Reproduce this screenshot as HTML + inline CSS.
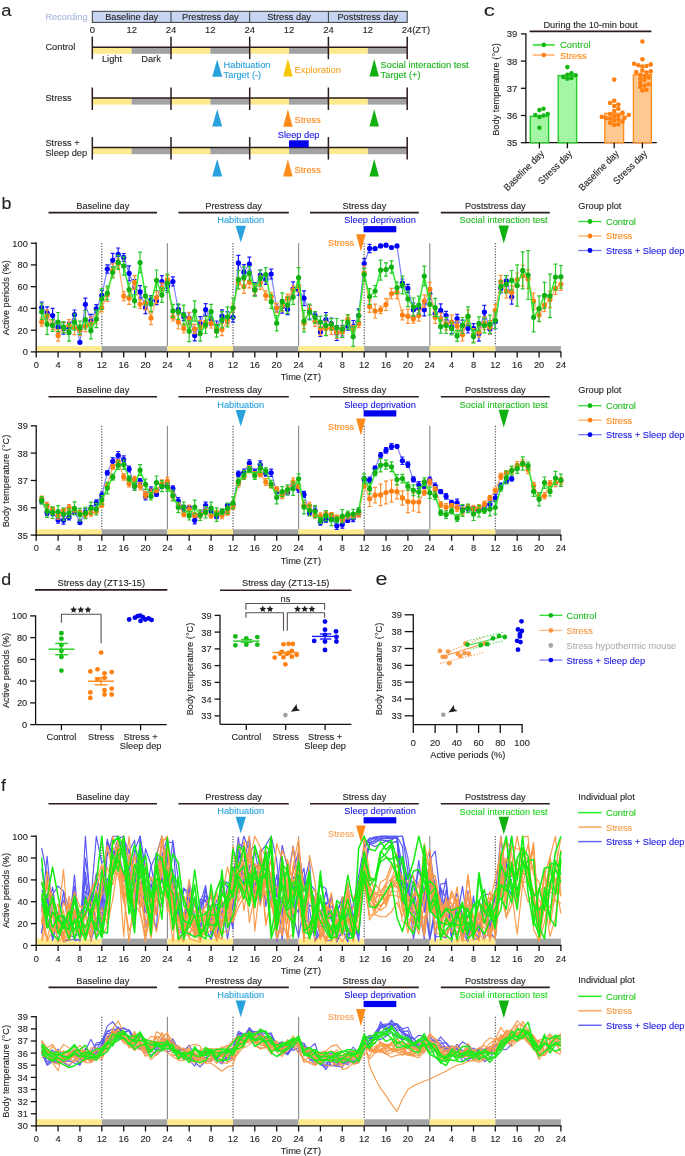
<!DOCTYPE html>
<html><head><meta charset="utf-8"><style>
html,body{margin:0;padding:0;background:#fff;}
svg{display:block;will-change:transform;}
text{font-family:"Liberation Sans", sans-serif;}
</style></head><body>
<svg width="685" height="1156" viewBox="0 0 685 1156" font-family='"Liberation Sans", sans-serif'>
<rect width="685" height="1156" fill="#fff"/>
<text transform="translate(1.20,16.20) scale(1.08,1)" font-size="17" fill="#231f20" stroke="#231f20" stroke-width="0.12">a</text>
<text transform="translate(87.60,20.06) scale(0.96,1)" font-size="9.66" fill="#a8b7dc" stroke="#a8b7dc" stroke-width="0.12" text-anchor="end" >Recording</text>
<rect x="92.30" y="11.30" width="314.90" height="11.10" fill="#c7d5f2" stroke="#3a3a3a" stroke-width="1" />
<line x1="171.0" y1="11.3" x2="171.0" y2="22.4" stroke="#3a3a3a" stroke-width="1" />
<line x1="249.7" y1="11.3" x2="249.7" y2="22.4" stroke="#3a3a3a" stroke-width="1" />
<line x1="328.4" y1="11.3" x2="328.4" y2="22.4" stroke="#3a3a3a" stroke-width="1" />
<text transform="translate(131.65,20.36) scale(0.96,1)" font-size="9.66" fill="#231f20" stroke="#231f20" stroke-width="0.12" text-anchor="middle" >Baseline day</text>
<text transform="translate(210.35,20.36) scale(0.96,1)" font-size="9.66" fill="#231f20" stroke="#231f20" stroke-width="0.12" text-anchor="middle" >Prestress day</text>
<text transform="translate(289.05,20.36) scale(0.96,1)" font-size="9.66" fill="#231f20" stroke="#231f20" stroke-width="0.12" text-anchor="middle" >Stress day</text>
<text transform="translate(367.80,20.36) scale(0.96,1)" font-size="9.66" fill="#231f20" stroke="#231f20" stroke-width="0.12" text-anchor="middle" >Poststress day</text>
<text transform="translate(92.30,33.33) scale(0.96,1)" font-size="9.87" fill="#231f20" stroke="#231f20" stroke-width="0.12" text-anchor="middle" >0</text>
<text transform="translate(131.65,33.33) scale(0.96,1)" font-size="9.87" fill="#231f20" stroke="#231f20" stroke-width="0.12" text-anchor="middle" >12</text>
<text transform="translate(171.00,33.33) scale(0.96,1)" font-size="9.87" fill="#231f20" stroke="#231f20" stroke-width="0.12" text-anchor="middle" >24</text>
<text transform="translate(210.35,33.33) scale(0.96,1)" font-size="9.87" fill="#231f20" stroke="#231f20" stroke-width="0.12" text-anchor="middle" >12</text>
<text transform="translate(249.70,33.33) scale(0.96,1)" font-size="9.87" fill="#231f20" stroke="#231f20" stroke-width="0.12" text-anchor="middle" >24</text>
<text transform="translate(289.05,33.33) scale(0.96,1)" font-size="9.87" fill="#231f20" stroke="#231f20" stroke-width="0.12" text-anchor="middle" >12</text>
<text transform="translate(328.40,33.33) scale(0.96,1)" font-size="9.87" fill="#231f20" stroke="#231f20" stroke-width="0.12" text-anchor="middle" >24</text>
<text transform="translate(367.80,33.33) scale(0.96,1)" font-size="9.87" fill="#231f20" stroke="#231f20" stroke-width="0.12" text-anchor="middle" >12</text>
<text transform="translate(401.70,33.30) scale(0.96,1)" font-size="9.87" fill="#231f20" stroke="#231f20" stroke-width="0.12" text-anchor="start" >24(ZT)</text>
<rect x="92.30" y="47.20" width="39.35" height="6.60" fill="#fdea8e" stroke="none" stroke-width="0" />
<rect x="131.65" y="47.20" width="39.35" height="6.60" fill="#a3a3a3" stroke="none" stroke-width="0" />
<rect x="171.00" y="47.20" width="39.35" height="6.60" fill="#fdea8e" stroke="none" stroke-width="0" />
<rect x="210.35" y="47.20" width="39.35" height="6.60" fill="#a3a3a3" stroke="none" stroke-width="0" />
<rect x="249.70" y="47.20" width="39.35" height="6.60" fill="#fdea8e" stroke="none" stroke-width="0" />
<rect x="289.05" y="47.20" width="39.35" height="6.60" fill="#a3a3a3" stroke="none" stroke-width="0" />
<rect x="328.40" y="47.20" width="39.40" height="6.60" fill="#fdea8e" stroke="none" stroke-width="0" />
<rect x="367.80" y="47.20" width="39.40" height="6.60" fill="#a3a3a3" stroke="none" stroke-width="0" />
<line x1="92.3" y1="47.2" x2="407.2" y2="47.2" stroke="#2b1d1d" stroke-width="1.5" />
<line x1="92.3" y1="36.7" x2="92.3" y2="59.2" stroke="#2b1d1d" stroke-width="1.5" />
<line x1="171.0" y1="36.7" x2="171.0" y2="59.2" stroke="#2b1d1d" stroke-width="1.5" />
<line x1="249.7" y1="36.7" x2="249.7" y2="59.2" stroke="#2b1d1d" stroke-width="1.5" />
<line x1="328.4" y1="36.7" x2="328.4" y2="59.2" stroke="#2b1d1d" stroke-width="1.5" />
<line x1="407.2" y1="36.7" x2="407.2" y2="59.2" stroke="#2b1d1d" stroke-width="1.5" />
<rect x="92.30" y="98.00" width="39.35" height="6.60" fill="#fdea8e" stroke="none" stroke-width="0" />
<rect x="131.65" y="98.00" width="39.35" height="6.60" fill="#a3a3a3" stroke="none" stroke-width="0" />
<rect x="171.00" y="98.00" width="39.35" height="6.60" fill="#fdea8e" stroke="none" stroke-width="0" />
<rect x="210.35" y="98.00" width="39.35" height="6.60" fill="#a3a3a3" stroke="none" stroke-width="0" />
<rect x="249.70" y="98.00" width="39.35" height="6.60" fill="#fdea8e" stroke="none" stroke-width="0" />
<rect x="289.05" y="98.00" width="39.35" height="6.60" fill="#a3a3a3" stroke="none" stroke-width="0" />
<rect x="328.40" y="98.00" width="39.40" height="6.60" fill="#fdea8e" stroke="none" stroke-width="0" />
<rect x="367.80" y="98.00" width="39.40" height="6.60" fill="#a3a3a3" stroke="none" stroke-width="0" />
<line x1="92.3" y1="98.0" x2="407.2" y2="98.0" stroke="#2b1d1d" stroke-width="1.5" />
<line x1="92.3" y1="87.5" x2="92.3" y2="110.0" stroke="#2b1d1d" stroke-width="1.5" />
<line x1="171.0" y1="87.5" x2="171.0" y2="110.0" stroke="#2b1d1d" stroke-width="1.5" />
<line x1="249.7" y1="87.5" x2="249.7" y2="110.0" stroke="#2b1d1d" stroke-width="1.5" />
<line x1="328.4" y1="87.5" x2="328.4" y2="110.0" stroke="#2b1d1d" stroke-width="1.5" />
<line x1="407.2" y1="87.5" x2="407.2" y2="110.0" stroke="#2b1d1d" stroke-width="1.5" />
<rect x="92.30" y="147.60" width="39.35" height="6.60" fill="#fdea8e" stroke="none" stroke-width="0" />
<rect x="131.65" y="147.60" width="39.35" height="6.60" fill="#a3a3a3" stroke="none" stroke-width="0" />
<rect x="171.00" y="147.60" width="39.35" height="6.60" fill="#fdea8e" stroke="none" stroke-width="0" />
<rect x="210.35" y="147.60" width="39.35" height="6.60" fill="#a3a3a3" stroke="none" stroke-width="0" />
<rect x="249.70" y="147.60" width="39.35" height="6.60" fill="#fdea8e" stroke="none" stroke-width="0" />
<rect x="289.05" y="147.60" width="39.35" height="6.60" fill="#a3a3a3" stroke="none" stroke-width="0" />
<rect x="328.40" y="147.60" width="39.40" height="6.60" fill="#fdea8e" stroke="none" stroke-width="0" />
<rect x="367.80" y="147.60" width="39.40" height="6.60" fill="#a3a3a3" stroke="none" stroke-width="0" />
<line x1="92.3" y1="147.6" x2="407.2" y2="147.6" stroke="#2b1d1d" stroke-width="1.5" />
<line x1="92.3" y1="137.1" x2="92.3" y2="159.6" stroke="#2b1d1d" stroke-width="1.5" />
<line x1="171.0" y1="137.1" x2="171.0" y2="159.6" stroke="#2b1d1d" stroke-width="1.5" />
<line x1="249.7" y1="137.1" x2="249.7" y2="159.6" stroke="#2b1d1d" stroke-width="1.5" />
<line x1="328.4" y1="137.1" x2="328.4" y2="159.6" stroke="#2b1d1d" stroke-width="1.5" />
<line x1="407.2" y1="137.1" x2="407.2" y2="159.6" stroke="#2b1d1d" stroke-width="1.5" />
<text transform="translate(45.40,50.16) scale(0.96,1)" font-size="9.66" fill="#231f20" stroke="#231f20" stroke-width="0.12" text-anchor="start" >Control</text>
<text transform="translate(45.40,101.06) scale(0.96,1)" font-size="9.66" fill="#231f20" stroke="#231f20" stroke-width="0.12" text-anchor="start" >Stress</text>
<text transform="translate(45.40,145.86) scale(0.96,1)" font-size="9.66" fill="#231f20" stroke="#231f20" stroke-width="0.12" text-anchor="start" >Stress +</text>
<text transform="translate(45.40,155.66) scale(0.96,1)" font-size="9.66" fill="#231f20" stroke="#231f20" stroke-width="0.12" text-anchor="start" >Sleep dep</text>
<text transform="translate(112.00,61.76) scale(0.96,1)" font-size="9.66" fill="#231f20" stroke="#231f20" stroke-width="0.12" text-anchor="middle" >Light</text>
<text transform="translate(151.00,61.76) scale(0.96,1)" font-size="9.66" fill="#231f20" stroke="#231f20" stroke-width="0.12" text-anchor="middle" >Dark</text>
<polygon points="217.20,59.50 222.20,76.80 212.20,76.80" fill="#29a1dc" />
<text transform="translate(223.60,67.66) scale(0.96,1)" font-size="9.66" fill="#29a1dc" stroke="#29a1dc" stroke-width="0.12" text-anchor="start" >Habituation</text>
<text transform="translate(223.60,78.06) scale(0.96,1)" font-size="9.66" fill="#29a1dc" stroke="#29a1dc" stroke-width="0.12" text-anchor="start" >Target (-)</text>
<polygon points="287.90,58.80 292.65,76.50 283.15,76.50" fill="#f7c600" />
<text transform="translate(294.60,72.96) scale(0.96,1)" font-size="9.66" fill="#f5a623" stroke="#f5a623" stroke-width="0.12" text-anchor="start" >Exploration</text>
<polygon points="374.20,59.00 378.95,76.60 369.45,76.60" fill="#10b010" />
<text transform="translate(380.60,67.66) scale(0.96,1)" font-size="9.66" fill="#1cb21c" stroke="#1cb21c" stroke-width="0.12" text-anchor="start" >Social interaction test</text>
<text transform="translate(380.60,78.06) scale(0.96,1)" font-size="9.66" fill="#1cb21c" stroke="#1cb21c" stroke-width="0.12" text-anchor="start" >Target (+)</text>
<polygon points="217.20,109.20 222.20,126.50 212.20,126.50" fill="#29a1dc" />
<polygon points="287.90,109.20 292.65,126.70 283.15,126.70" fill="#ff8a1c" />
<text transform="translate(294.60,122.76) scale(0.96,1)" font-size="9.66" fill="#ff8a1c" stroke="#ff8a1c" stroke-width="0.12" text-anchor="start" >Stress</text>
<polygon points="374.20,109.20 378.95,126.60 369.45,126.60" fill="#10b010" />
<text transform="translate(298.60,137.86) scale(0.96,1)" font-size="9.66" fill="#1a1ae6" stroke="#1a1ae6" stroke-width="0.12" text-anchor="middle" >Sleep dep</text>
<rect x="289.00" y="140.30" width="19.70" height="7.00" fill="#0000ee" stroke="none" stroke-width="0" />
<polygon points="217.20,158.90 222.20,176.40 212.20,176.40" fill="#29a1dc" />
<polygon points="287.90,159.20 292.65,176.60 283.15,176.60" fill="#ff8a1c" />
<text transform="translate(294.60,173.26) scale(0.96,1)" font-size="9.66" fill="#ff8a1c" stroke="#ff8a1c" stroke-width="0.12" text-anchor="start" >Stress</text>
<polygon points="374.20,159.00 378.95,176.50 369.45,176.50" fill="#10b010" />
<text transform="translate(483.80,15.80) scale(1.3,1)" font-size="17" fill="#231f20" stroke="#231f20" stroke-width="0.12">c</text>
<text transform="translate(590.50,27.96) scale(0.96,1)" font-size="9.66" fill="#231f20" stroke="#231f20" stroke-width="0.12" text-anchor="middle" >During the 10-min bout</text>
<line x1="529.6" y1="31.4" x2="651.4" y2="31.4" stroke="#2b1d1d" stroke-width="1.6" />
<line x1="525.9" y1="33.3" x2="525.9" y2="143.3" stroke="#151213" stroke-width="1.3" />
<line x1="525.9" y1="142.7" x2="656.8" y2="142.7" stroke="#151213" stroke-width="1.3" />
<line x1="520.9" y1="142.7" x2="525.9" y2="142.7" stroke="#151213" stroke-width="1.3" />
<text transform="translate(517.30,146.27) scale(0.96,1)" font-size="9.97" fill="#231f20" stroke="#231f20" stroke-width="0.12" text-anchor="end" >35</text>
<line x1="520.9" y1="115.5" x2="525.9" y2="115.5" stroke="#151213" stroke-width="1.3" />
<text transform="translate(517.30,119.07) scale(0.96,1)" font-size="9.97" fill="#231f20" stroke="#231f20" stroke-width="0.12" text-anchor="end" >36</text>
<line x1="520.9" y1="88.3" x2="525.9" y2="88.3" stroke="#151213" stroke-width="1.3" />
<text transform="translate(517.30,91.87) scale(0.96,1)" font-size="9.97" fill="#231f20" stroke="#231f20" stroke-width="0.12" text-anchor="end" >37</text>
<line x1="520.9" y1="61.1" x2="525.9" y2="61.1" stroke="#151213" stroke-width="1.3" />
<text transform="translate(517.30,64.67) scale(0.96,1)" font-size="9.97" fill="#231f20" stroke="#231f20" stroke-width="0.12" text-anchor="end" >38</text>
<line x1="520.9" y1="33.9" x2="525.9" y2="33.9" stroke="#151213" stroke-width="1.3" />
<text transform="translate(517.30,37.47) scale(0.96,1)" font-size="9.97" fill="#231f20" stroke="#231f20" stroke-width="0.12" text-anchor="end" >39</text>
<rect x="530.30" y="116.32" width="18.30" height="26.38" fill="#a4f5a4" stroke="#22cc22" stroke-width="1.3" />
<rect x="558.20" y="75.52" width="18.40" height="67.18" fill="#a4f5a4" stroke="#22cc22" stroke-width="1.3" />
<rect x="604.80" y="113.32" width="18.80" height="29.38" fill="#ffc890" stroke="#ff8a1c" stroke-width="1.3" />
<rect x="633.40" y="74.70" width="18.00" height="68.00" fill="#ffc890" stroke="#ff8a1c" stroke-width="1.3" />
<line x1="539.4" y1="142.7" x2="539.4" y2="148.3" stroke="#151213" stroke-width="1.3" />
<line x1="567.4" y1="142.7" x2="567.4" y2="148.3" stroke="#151213" stroke-width="1.3" />
<line x1="614.2" y1="142.7" x2="614.2" y2="148.3" stroke="#151213" stroke-width="1.3" />
<line x1="642.4" y1="142.7" x2="642.4" y2="148.3" stroke="#151213" stroke-width="1.3" />
<circle cx="539.4" cy="127.7" r="2.3" fill="#14b814" />
<circle cx="539.4" cy="116.9" r="2.3" fill="#14b814" />
<circle cx="543.5" cy="115.5" r="2.3" fill="#14b814" />
<circle cx="535.3" cy="115.0" r="2.3" fill="#14b814" />
<circle cx="547.7" cy="114.1" r="2.3" fill="#14b814" />
<circle cx="539.4" cy="110.1" r="2.3" fill="#14b814" />
<circle cx="543.5" cy="108.7" r="2.3" fill="#14b814" />
<circle cx="567.4" cy="78.8" r="2.3" fill="#14b814" />
<circle cx="571.5" cy="78.0" r="2.3" fill="#14b814" />
<circle cx="563.3" cy="76.9" r="2.3" fill="#14b814" />
<circle cx="575.7" cy="75.2" r="2.3" fill="#14b814" />
<circle cx="567.4" cy="74.7" r="2.3" fill="#14b814" />
<circle cx="571.5" cy="73.3" r="2.3" fill="#14b814" />
<circle cx="567.4" cy="67.1" r="2.3" fill="#14b814" />
<circle cx="614.2" cy="125.0" r="2.3" fill="#ff8010" />
<circle cx="618.3" cy="124.2" r="2.3" fill="#ff8010" />
<circle cx="610.1" cy="123.1" r="2.3" fill="#ff8010" />
<circle cx="622.5" cy="121.5" r="2.3" fill="#ff8010" />
<circle cx="614.2" cy="120.4" r="2.3" fill="#ff8010" />
<circle cx="618.3" cy="119.6" r="2.3" fill="#ff8010" />
<circle cx="610.1" cy="118.8" r="2.3" fill="#ff8010" />
<circle cx="605.9" cy="118.2" r="2.3" fill="#ff8010" />
<circle cx="624.6" cy="117.7" r="2.3" fill="#ff8010" />
<circle cx="601.8" cy="116.9" r="2.3" fill="#ff8010" />
<circle cx="614.2" cy="116.3" r="2.3" fill="#ff8010" />
<circle cx="618.3" cy="115.5" r="2.3" fill="#ff8010" />
<circle cx="628.7" cy="115.0" r="2.3" fill="#ff8010" />
<circle cx="610.1" cy="114.1" r="2.3" fill="#ff8010" />
<circle cx="622.5" cy="112.8" r="2.3" fill="#ff8010" />
<circle cx="614.2" cy="111.1" r="2.3" fill="#ff8010" />
<circle cx="618.3" cy="108.7" r="2.3" fill="#ff8010" />
<circle cx="614.2" cy="106.0" r="2.3" fill="#ff8010" />
<circle cx="618.3" cy="104.6" r="2.3" fill="#ff8010" />
<circle cx="610.1" cy="103.0" r="2.3" fill="#ff8010" />
<circle cx="614.2" cy="100.8" r="2.3" fill="#ff8010" />
<circle cx="614.2" cy="79.6" r="2.3" fill="#ff8010" />
<circle cx="642.4" cy="90.5" r="2.3" fill="#ff8010" />
<circle cx="646.5" cy="89.7" r="2.3" fill="#ff8010" />
<circle cx="640.3" cy="86.9" r="2.3" fill="#ff8010" />
<circle cx="644.5" cy="85.6" r="2.3" fill="#ff8010" />
<circle cx="648.6" cy="84.2" r="2.3" fill="#ff8010" />
<circle cx="640.3" cy="82.9" r="2.3" fill="#ff8010" />
<circle cx="644.5" cy="80.1" r="2.3" fill="#ff8010" />
<circle cx="640.3" cy="78.8" r="2.3" fill="#ff8010" />
<circle cx="648.6" cy="77.4" r="2.3" fill="#ff8010" />
<circle cx="644.5" cy="76.1" r="2.3" fill="#ff8010" />
<circle cx="640.3" cy="74.7" r="2.3" fill="#ff8010" />
<circle cx="646.5" cy="72.5" r="2.3" fill="#ff8010" />
<circle cx="636.2" cy="72.0" r="2.3" fill="#ff8010" />
<circle cx="650.7" cy="71.4" r="2.3" fill="#ff8010" />
<circle cx="642.4" cy="70.6" r="2.3" fill="#ff8010" />
<circle cx="642.4" cy="66.5" r="2.3" fill="#ff8010" />
<circle cx="646.5" cy="66.0" r="2.3" fill="#ff8010" />
<circle cx="638.3" cy="65.2" r="2.3" fill="#ff8010" />
<circle cx="650.7" cy="64.4" r="2.3" fill="#ff8010" />
<circle cx="634.1" cy="63.8" r="2.3" fill="#ff8010" />
<circle cx="642.4" cy="59.2" r="2.3" fill="#ff8010" />
<circle cx="642.4" cy="41.5" r="2.3" fill="#ff8010" />
<line x1="532.8" y1="44.9" x2="554.7" y2="44.9" stroke="#33dd33" stroke-width="1.6" />
<circle cx="543.8" cy="44.9" r="2.3" fill="#14b814" />
<text transform="translate(560.00,48.43) scale(0.96,1)" font-size="9.87" fill="#22bb22" stroke="#22bb22" stroke-width="0.12" text-anchor="start" >Control</text>
<line x1="532.8" y1="55.0" x2="554.7" y2="55.0" stroke="#ffb070" stroke-width="1.6" />
<circle cx="543.8" cy="55.0" r="2.3" fill="#ff8010" />
<text transform="translate(560.00,58.53) scale(0.96,1)" font-size="9.87" fill="#ff8a1c" stroke="#ff8a1c" stroke-width="0.12" text-anchor="start" >Stress</text>
<text transform="translate(498.80,89.50) rotate(-90) scale(0.96,1)" font-size="9.66" fill="#231f20" stroke="#231f20" stroke-width="0.12" text-anchor="middle">Body temperature (°C)</text>
<text transform="translate(544.70,154.30) rotate(-45) scale(0.96,1)" font-size="9.55" fill="#231f20" stroke="#231f20" stroke-width="0.12" text-anchor="end">Baseline day</text>
<text transform="translate(572.70,154.30) rotate(-45) scale(0.96,1)" font-size="9.55" fill="#231f20" stroke="#231f20" stroke-width="0.12" text-anchor="end">Stress day</text>
<text transform="translate(619.50,154.30) rotate(-45) scale(0.96,1)" font-size="9.55" fill="#231f20" stroke="#231f20" stroke-width="0.12" text-anchor="end">Baseline day</text>
<text transform="translate(647.70,154.30) rotate(-45) scale(0.96,1)" font-size="9.55" fill="#231f20" stroke="#231f20" stroke-width="0.12" text-anchor="end">Stress day</text>
<text transform="translate(1.50,208.80) scale(1.05,1)" font-size="17" fill="#231f20" stroke="#231f20" stroke-width="0.12">b</text>
<line x1="48.5" y1="212.6" x2="157.0" y2="212.6" stroke="#2b1d1d" stroke-width="1.6" />
<text transform="translate(102.75,209.06) scale(0.96,1)" font-size="9.66" fill="#231f20" stroke="#231f20" stroke-width="0.12" text-anchor="middle" >Baseline day</text>
<line x1="178.4" y1="212.6" x2="288.8" y2="212.6" stroke="#2b1d1d" stroke-width="1.6" />
<text transform="translate(233.60,209.06) scale(0.96,1)" font-size="9.66" fill="#231f20" stroke="#231f20" stroke-width="0.12" text-anchor="middle" >Prestress day</text>
<line x1="310.0" y1="212.6" x2="418.8" y2="212.6" stroke="#2b1d1d" stroke-width="1.6" />
<text transform="translate(364.40,209.06) scale(0.96,1)" font-size="9.66" fill="#231f20" stroke="#231f20" stroke-width="0.12" text-anchor="middle" >Stress day</text>
<line x1="440.8" y1="212.6" x2="549.8" y2="212.6" stroke="#2b1d1d" stroke-width="1.6" />
<text transform="translate(495.30,209.06) scale(0.96,1)" font-size="9.66" fill="#231f20" stroke="#231f20" stroke-width="0.12" text-anchor="middle" >Poststress day</text>
<text transform="translate(240.70,223.36) scale(0.96,1)" font-size="9.66" fill="#29a1dc" stroke="#29a1dc" stroke-width="0.12" text-anchor="middle" >Habituation</text>
<polygon points="235.65,225.70 245.95,225.70 240.80,242.40" fill="#29a1dc" />
<text transform="translate(380.10,223.36) scale(0.96,1)" font-size="9.66" fill="#1a1ae6" stroke="#1a1ae6" stroke-width="0.12" text-anchor="middle" >Sleep deprivation</text>
<rect x="363.60" y="226.10" width="32.70" height="6.20" fill="#0000ee" stroke="none" stroke-width="0" />
<text transform="translate(354.20,245.56) scale(0.96,1)" font-size="9.66" fill="#ff8a1c" stroke="#ff8a1c" stroke-width="0.12" text-anchor="end" >Stress</text>
<polygon points="356.10,234.30 365.70,234.30 360.90,251.40" fill="#ff8a1c" />
<text transform="translate(503.60,223.46) scale(0.96,1)" font-size="9.66" fill="#22bb22" stroke="#22bb22" stroke-width="0.12" text-anchor="middle" >Social interaction test</text>
<polygon points="498.60,225.60 509.00,225.60 503.80,243.40" fill="#10b010" />
<text transform="translate(578.20,208.66) scale(0.96,1)" font-size="9.66" fill="#231f20" stroke="#231f20" stroke-width="0.12" text-anchor="start" >Group plot</text>
<line x1="578.2" y1="221.5" x2="601.6" y2="221.5" stroke="#33dd33" stroke-width="1.3" />
<circle cx="590.0" cy="221.5" r="2.4" fill="#14b814" />
<text transform="translate(606.00,224.96) scale(0.96,1)" font-size="9.66" fill="#22bb22" stroke="#22bb22" stroke-width="0.12" text-anchor="start" >Control</text>
<line x1="578.2" y1="236.0" x2="601.6" y2="236.0" stroke="#ffae6a" stroke-width="1.3" />
<circle cx="590.0" cy="236.0" r="2.4" fill="#ff8010" />
<text transform="translate(606.00,239.46) scale(0.96,1)" font-size="9.66" fill="#ff8a1c" stroke="#ff8a1c" stroke-width="0.12" text-anchor="start" >Stress</text>
<line x1="578.2" y1="250.5" x2="601.6" y2="250.5" stroke="#7c7cff" stroke-width="1.3" />
<circle cx="590.0" cy="250.5" r="2.4" fill="#0000f0" />
<text transform="translate(606.00,253.96) scale(0.96,1)" font-size="9.66" fill="#1a1ae6" stroke="#1a1ae6" stroke-width="0.12" text-anchor="start" >Stress + Sleep dep</text>
<rect x="36.20" y="346.10" width="65.59" height="5.80" fill="#fdea8e" stroke="none" stroke-width="0" />
<rect x="101.79" y="346.10" width="65.59" height="5.80" fill="#a3a3a3" stroke="none" stroke-width="0" />
<rect x="167.38" y="346.10" width="65.59" height="5.80" fill="#fdea8e" stroke="none" stroke-width="0" />
<rect x="232.98" y="346.10" width="65.59" height="5.80" fill="#a3a3a3" stroke="none" stroke-width="0" />
<rect x="298.57" y="346.10" width="65.59" height="5.80" fill="#fdea8e" stroke="none" stroke-width="0" />
<rect x="364.16" y="346.10" width="65.59" height="5.80" fill="#a3a3a3" stroke="none" stroke-width="0" />
<rect x="429.75" y="346.10" width="65.59" height="5.80" fill="#fdea8e" stroke="none" stroke-width="0" />
<rect x="495.34" y="346.10" width="65.59" height="5.80" fill="#a3a3a3" stroke="none" stroke-width="0" />
<line x1="101.8" y1="243.2" x2="101.8" y2="346.1" stroke="#444444" stroke-width="1.1" stroke-dasharray="1.2,1.5"/>
<line x1="233.0" y1="243.2" x2="233.0" y2="346.1" stroke="#444444" stroke-width="1.1" stroke-dasharray="1.2,1.5"/>
<line x1="364.2" y1="243.2" x2="364.2" y2="346.1" stroke="#444444" stroke-width="1.1" stroke-dasharray="1.2,1.5"/>
<line x1="495.3" y1="243.2" x2="495.3" y2="346.1" stroke="#444444" stroke-width="1.1" stroke-dasharray="1.2,1.5"/>
<line x1="167.4" y1="243.2" x2="167.4" y2="346.1" stroke="#8a8a8a" stroke-width="1.1" />
<line x1="298.6" y1="243.2" x2="298.6" y2="346.1" stroke="#8a8a8a" stroke-width="1.1" />
<line x1="429.8" y1="243.2" x2="429.8" y2="346.1" stroke="#8a8a8a" stroke-width="1.1" />
<line x1="36.2" y1="242.6" x2="36.2" y2="352.5" stroke="#151213" stroke-width="1.3" />
<line x1="35.6" y1="351.9" x2="561.5" y2="351.9" stroke="#151213" stroke-width="1.3" />
<line x1="30.8" y1="351.9" x2="36.2" y2="351.9" stroke="#151213" stroke-width="1.3" />
<text transform="translate(27.80,355.36) scale(0.96,1)" font-size="9.66" fill="#231f20" stroke="#231f20" stroke-width="0.12" text-anchor="end" >0</text>
<line x1="30.8" y1="330.2" x2="36.2" y2="330.2" stroke="#151213" stroke-width="1.3" />
<text transform="translate(27.80,333.62) scale(0.96,1)" font-size="9.66" fill="#231f20" stroke="#231f20" stroke-width="0.12" text-anchor="end" >20</text>
<line x1="30.8" y1="308.4" x2="36.2" y2="308.4" stroke="#151213" stroke-width="1.3" />
<text transform="translate(27.80,311.88) scale(0.96,1)" font-size="9.66" fill="#231f20" stroke="#231f20" stroke-width="0.12" text-anchor="end" >40</text>
<line x1="30.8" y1="286.7" x2="36.2" y2="286.7" stroke="#151213" stroke-width="1.3" />
<text transform="translate(27.80,290.14) scale(0.96,1)" font-size="9.66" fill="#231f20" stroke="#231f20" stroke-width="0.12" text-anchor="end" >60</text>
<line x1="30.8" y1="264.9" x2="36.2" y2="264.9" stroke="#151213" stroke-width="1.3" />
<text transform="translate(27.80,268.40) scale(0.96,1)" font-size="9.66" fill="#231f20" stroke="#231f20" stroke-width="0.12" text-anchor="end" >80</text>
<line x1="30.8" y1="243.2" x2="36.2" y2="243.2" stroke="#151213" stroke-width="1.3" />
<text transform="translate(27.80,246.66) scale(0.96,1)" font-size="9.66" fill="#231f20" stroke="#231f20" stroke-width="0.12" text-anchor="end" >100</text>
<line x1="36.2" y1="351.9" x2="36.2" y2="357.5" stroke="#151213" stroke-width="1.3" />
<text transform="translate(36.20,368.16) scale(0.96,1)" font-size="9.66" fill="#231f20" stroke="#231f20" stroke-width="0.12" text-anchor="middle" >0</text>
<line x1="58.1" y1="351.9" x2="58.1" y2="357.5" stroke="#151213" stroke-width="1.3" />
<text transform="translate(58.06,368.16) scale(0.96,1)" font-size="9.66" fill="#231f20" stroke="#231f20" stroke-width="0.12" text-anchor="middle" >4</text>
<line x1="79.9" y1="351.9" x2="79.9" y2="357.5" stroke="#151213" stroke-width="1.3" />
<text transform="translate(79.93,368.16) scale(0.96,1)" font-size="9.66" fill="#231f20" stroke="#231f20" stroke-width="0.12" text-anchor="middle" >8</text>
<line x1="101.8" y1="351.9" x2="101.8" y2="357.5" stroke="#151213" stroke-width="1.3" />
<text transform="translate(101.79,368.16) scale(0.96,1)" font-size="9.66" fill="#231f20" stroke="#231f20" stroke-width="0.12" text-anchor="middle" >12</text>
<line x1="123.7" y1="351.9" x2="123.7" y2="357.5" stroke="#151213" stroke-width="1.3" />
<text transform="translate(123.66,368.16) scale(0.96,1)" font-size="9.66" fill="#231f20" stroke="#231f20" stroke-width="0.12" text-anchor="middle" >16</text>
<line x1="145.5" y1="351.9" x2="145.5" y2="357.5" stroke="#151213" stroke-width="1.3" />
<text transform="translate(145.52,368.16) scale(0.96,1)" font-size="9.66" fill="#231f20" stroke="#231f20" stroke-width="0.12" text-anchor="middle" >20</text>
<line x1="167.4" y1="351.9" x2="167.4" y2="357.5" stroke="#151213" stroke-width="1.3" />
<text transform="translate(167.38,368.16) scale(0.96,1)" font-size="9.66" fill="#231f20" stroke="#231f20" stroke-width="0.12" text-anchor="middle" >24</text>
<line x1="189.2" y1="351.9" x2="189.2" y2="357.5" stroke="#151213" stroke-width="1.3" />
<text transform="translate(189.25,368.16) scale(0.96,1)" font-size="9.66" fill="#231f20" stroke="#231f20" stroke-width="0.12" text-anchor="middle" >4</text>
<line x1="211.1" y1="351.9" x2="211.1" y2="357.5" stroke="#151213" stroke-width="1.3" />
<text transform="translate(211.11,368.16) scale(0.96,1)" font-size="9.66" fill="#231f20" stroke="#231f20" stroke-width="0.12" text-anchor="middle" >8</text>
<line x1="233.0" y1="351.9" x2="233.0" y2="357.5" stroke="#151213" stroke-width="1.3" />
<text transform="translate(232.98,368.16) scale(0.96,1)" font-size="9.66" fill="#231f20" stroke="#231f20" stroke-width="0.12" text-anchor="middle" >12</text>
<line x1="254.8" y1="351.9" x2="254.8" y2="357.5" stroke="#151213" stroke-width="1.3" />
<text transform="translate(254.84,368.16) scale(0.96,1)" font-size="9.66" fill="#231f20" stroke="#231f20" stroke-width="0.12" text-anchor="middle" >16</text>
<line x1="276.7" y1="351.9" x2="276.7" y2="357.5" stroke="#151213" stroke-width="1.3" />
<text transform="translate(276.70,368.16) scale(0.96,1)" font-size="9.66" fill="#231f20" stroke="#231f20" stroke-width="0.12" text-anchor="middle" >20</text>
<line x1="298.6" y1="351.9" x2="298.6" y2="357.5" stroke="#151213" stroke-width="1.3" />
<text transform="translate(298.57,368.16) scale(0.96,1)" font-size="9.66" fill="#231f20" stroke="#231f20" stroke-width="0.12" text-anchor="middle" >24</text>
<line x1="320.4" y1="351.9" x2="320.4" y2="357.5" stroke="#151213" stroke-width="1.3" />
<text transform="translate(320.43,368.16) scale(0.96,1)" font-size="9.66" fill="#231f20" stroke="#231f20" stroke-width="0.12" text-anchor="middle" >4</text>
<line x1="342.3" y1="351.9" x2="342.3" y2="357.5" stroke="#151213" stroke-width="1.3" />
<text transform="translate(342.30,368.16) scale(0.96,1)" font-size="9.66" fill="#231f20" stroke="#231f20" stroke-width="0.12" text-anchor="middle" >8</text>
<line x1="364.2" y1="351.9" x2="364.2" y2="357.5" stroke="#151213" stroke-width="1.3" />
<text transform="translate(364.16,368.16) scale(0.96,1)" font-size="9.66" fill="#231f20" stroke="#231f20" stroke-width="0.12" text-anchor="middle" >12</text>
<line x1="386.0" y1="351.9" x2="386.0" y2="357.5" stroke="#151213" stroke-width="1.3" />
<text transform="translate(386.02,368.16) scale(0.96,1)" font-size="9.66" fill="#231f20" stroke="#231f20" stroke-width="0.12" text-anchor="middle" >16</text>
<line x1="407.9" y1="351.9" x2="407.9" y2="357.5" stroke="#151213" stroke-width="1.3" />
<text transform="translate(407.89,368.16) scale(0.96,1)" font-size="9.66" fill="#231f20" stroke="#231f20" stroke-width="0.12" text-anchor="middle" >20</text>
<line x1="429.8" y1="351.9" x2="429.8" y2="357.5" stroke="#151213" stroke-width="1.3" />
<text transform="translate(429.75,368.16) scale(0.96,1)" font-size="9.66" fill="#231f20" stroke="#231f20" stroke-width="0.12" text-anchor="middle" >24</text>
<line x1="451.6" y1="351.9" x2="451.6" y2="357.5" stroke="#151213" stroke-width="1.3" />
<text transform="translate(451.62,368.16) scale(0.96,1)" font-size="9.66" fill="#231f20" stroke="#231f20" stroke-width="0.12" text-anchor="middle" >4</text>
<line x1="473.5" y1="351.9" x2="473.5" y2="357.5" stroke="#151213" stroke-width="1.3" />
<text transform="translate(473.48,368.16) scale(0.96,1)" font-size="9.66" fill="#231f20" stroke="#231f20" stroke-width="0.12" text-anchor="middle" >8</text>
<line x1="495.3" y1="351.9" x2="495.3" y2="357.5" stroke="#151213" stroke-width="1.3" />
<text transform="translate(495.34,368.16) scale(0.96,1)" font-size="9.66" fill="#231f20" stroke="#231f20" stroke-width="0.12" text-anchor="middle" >12</text>
<line x1="517.2" y1="351.9" x2="517.2" y2="357.5" stroke="#151213" stroke-width="1.3" />
<text transform="translate(517.21,368.16) scale(0.96,1)" font-size="9.66" fill="#231f20" stroke="#231f20" stroke-width="0.12" text-anchor="middle" >16</text>
<line x1="539.1" y1="351.9" x2="539.1" y2="357.5" stroke="#151213" stroke-width="1.3" />
<text transform="translate(539.07,368.16) scale(0.96,1)" font-size="9.66" fill="#231f20" stroke="#231f20" stroke-width="0.12" text-anchor="middle" >20</text>
<line x1="560.9" y1="351.9" x2="560.9" y2="357.5" stroke="#151213" stroke-width="1.3" />
<text transform="translate(560.94,368.16) scale(0.96,1)" font-size="9.66" fill="#231f20" stroke="#231f20" stroke-width="0.12" text-anchor="middle" >24</text>
<text transform="translate(300.90,380.36) scale(0.96,1)" font-size="9.66" fill="#231f20" stroke="#231f20" stroke-width="0.12" text-anchor="middle" >Time (ZT)</text>
<text transform="translate(8.90,297.70) rotate(-90) scale(0.96,1)" font-size="9.66" fill="#231f20" stroke="#231f20" stroke-width="0.12" text-anchor="middle">Active periods (%)</text>
<polyline points="41.7,307.6 47.1,312.8 52.6,315.6 58.1,327.2 63.5,328.4 69.0,328.4 74.5,314.5 79.9,342.3 85.4,304.3 90.9,321.1 96.3,308.9 101.8,295.4 107.3,269.1 112.7,260.3 118.2,254.4 123.7,257.4 129.1,273.3 134.6,287.2 140.1,291.9 145.5,307.6 151.0,299.9 156.5,300.8 161.9,281.5 167.4,286.7 172.9,281.5 178.3,309.3 183.8,316.8 189.2,318.2 194.7,335.4 200.2,323.7 205.6,309.5 211.1,319.1 216.6,326.7 222.0,316.2 227.5,317.3 233.0,317.3 238.4,262.9 243.9,272.2 249.4,264.1 254.8,289.0 260.3,275.0 265.8,279.7 271.2,274.0 276.7,308.1 282.2,306.4 287.6,309.3 293.1,289.0 298.6,289.9 304.0,298.2 309.5,312.1 315.0,315.6 320.4,331.9 325.9,319.7 331.4,323.7 336.8,333.0 342.3,330.7 347.8,326.0 353.2,326.7 358.7,315.6 364.2,263.5 369.6,248.4 375.1,248.6 380.6,245.9 386.0,245.2 391.5,247.5 397.0,245.9 402.4,283.2 407.9,288.4 413.4,309.8 418.8,308.6 424.3,309.8 429.8,293.6 435.2,313.3 440.7,310.4 446.1,315.6 451.6,327.2 457.1,318.5 462.5,325.5 468.0,328.4 473.5,328.4 478.9,333.6 484.4,312.1 489.9,329.0 495.3,321.5 500.8,288.4 506.3,280.8 511.7,297.1" fill="none" stroke="#8080ff" stroke-width="1.2" stroke-linejoin="round" />
<path d="M41.7 302.0V313.1M39.7 302.0h4M39.7 313.1h4M47.1 306.8V318.7M45.1 306.8h4M45.1 318.7h4M52.6 308.3V322.9M50.6 308.3h4M50.6 322.9h4M58.1 321.6V332.8M56.1 321.6h4M56.1 332.8h4M63.5 322.7V334.2M61.5 322.7h4M61.5 334.2h4M69.0 322.4V334.5M67.0 322.4h4M67.0 334.5h4M74.5 310.0V319.0M72.5 310.0h4M72.5 319.0h4M79.9 342.3V342.3M77.9 342.3h4M77.9 342.3h4M85.4 298.1V310.5M83.4 298.1h4M83.4 310.5h4M90.9 314.3V328.0M88.9 314.3h4M88.9 328.0h4M96.3 304.7V313.0M94.3 304.7h4M94.3 313.0h4M101.8 290.4V300.3M99.8 290.4h4M99.8 300.3h4M107.3 264.9V273.2M105.3 264.9h4M105.3 273.2h4M112.7 253.4V267.2M110.7 253.4h4M110.7 267.2h4M118.2 248.0V260.8M116.2 248.0h4M116.2 260.8h4M123.7 253.5V261.4M121.7 253.5h4M121.7 261.4h4M129.1 265.8V280.9M127.1 265.8h4M127.1 280.9h4M134.6 279.7V294.7M132.6 279.7h4M132.6 294.7h4M140.1 285.6V298.2M138.1 285.6h4M138.1 298.2h4M145.5 301.4V313.7M143.5 301.4h4M143.5 313.7h4M151.0 295.5V304.3M149.0 295.5h4M149.0 304.3h4M156.5 296.9V304.7M154.5 296.9h4M154.5 304.7h4M161.9 275.6V287.3M159.9 275.6h4M159.9 287.3h4M167.4 282.6V290.7M165.4 282.6h4M165.4 290.7h4M172.9 276.9V286.0M170.9 276.9h4M170.9 286.0h4M178.3 304.6V314.0M176.3 304.6h4M176.3 314.0h4M183.8 312.9V320.7M181.8 312.9h4M181.8 320.7h4M189.2 312.6V323.8M187.2 312.6h4M187.2 323.8h4M194.7 329.9V340.9M192.7 329.9h4M192.7 340.9h4M200.2 316.7V330.8M198.2 316.7h4M198.2 330.8h4M205.6 303.7V315.3M203.6 303.7h4M203.6 315.3h4M211.1 312.8V325.3M209.1 312.8h4M209.1 325.3h4M216.6 321.0V332.4M214.6 321.0h4M214.6 332.4h4M222.0 309.9V322.6M220.0 309.9h4M220.0 322.6h4M227.5 311.8V322.9M225.5 311.8h4M225.5 322.9h4M233.0 312.5V322.2M231.0 312.5h4M231.0 322.2h4M238.4 255.3V270.5M236.4 255.3h4M236.4 270.5h4M243.9 264.6V279.8M241.9 264.6h4M241.9 279.8h4M249.4 257.1V271.1M247.4 257.1h4M247.4 271.1h4M254.8 282.5V295.5M252.8 282.5h4M252.8 295.5h4M260.3 270.0V280.1M258.3 270.0h4M258.3 280.1h4M265.8 275.0V284.4M263.8 275.0h4M263.8 284.4h4M271.2 269.1V278.9M269.2 269.1h4M269.2 278.9h4M276.7 304.0V312.2M274.7 304.0h4M274.7 312.2h4M282.2 299.6V313.1M280.2 299.6h4M280.2 313.1h4M287.6 304.0V314.6M285.6 304.0h4M285.6 314.6h4M293.1 281.9V296.0M291.1 281.9h4M291.1 296.0h4M298.6 284.7V295.2M296.6 284.7h4M296.6 295.2h4M304.0 290.8V305.7M302.0 290.8h4M302.0 305.7h4M309.5 305.1V319.1M307.5 305.1h4M307.5 319.1h4M315.0 311.8V319.4M313.0 311.8h4M313.0 319.4h4M320.4 327.3V336.5M318.4 327.3h4M318.4 336.5h4M325.9 312.5V327.0M323.9 312.5h4M323.9 327.0h4M331.4 318.2V329.3M329.4 318.2h4M329.4 329.3h4M336.8 325.5V340.5M334.8 325.5h4M334.8 340.5h4M342.3 325.4V336.0M340.3 325.4h4M340.3 336.0h4M347.8 321.9V330.1M345.8 321.9h4M345.8 330.1h4M353.2 320.5V332.9M351.2 320.5h4M351.2 332.9h4M358.7 308.8V322.4M356.7 308.8h4M356.7 322.4h4M364.2 258.7V268.4M362.2 258.7h4M362.2 268.4h4M369.6 244.3V252.6M367.6 244.3h4M367.6 252.6h4M375.1 247.7V249.6M373.1 247.7h4M373.1 249.6h4M380.6 244.3V247.5M378.6 244.3h4M378.6 247.5h4M386.0 243.8V246.6M384.0 243.8h4M384.0 246.6h4M391.5 246.8V248.3M389.5 246.8h4M389.5 248.3h4M397.0 245.0V246.8M395.0 245.0h4M395.0 246.8h4M402.4 279.0V287.4M400.4 279.0h4M400.4 287.4h4M407.9 284.4V292.5M405.9 284.4h4M405.9 292.5h4M413.4 303.0V316.7M411.4 303.0h4M411.4 316.7h4M418.8 304.2V313.1M416.8 304.2h4M416.8 313.1h4M424.3 303.9V315.8M422.3 303.9h4M422.3 315.8h4M429.8 288.1V299.1M427.8 288.1h4M427.8 299.1h4M435.2 308.8V317.8M433.2 308.8h4M433.2 317.8h4M440.7 303.8V317.0M438.7 303.8h4M438.7 317.0h4M446.1 311.3V319.9M444.1 311.3h4M444.1 319.9h4M451.6 321.0V333.5M449.6 321.0h4M449.6 333.5h4M457.1 314.3V322.8M455.1 314.3h4M455.1 322.8h4M462.5 320.1V330.9M460.5 320.1h4M460.5 330.9h4M468.0 323.8V333.0M466.0 323.8h4M466.0 333.0h4M473.5 323.6V333.3M471.5 323.6h4M471.5 333.3h4M478.9 326.1V341.1M476.9 326.1h4M476.9 341.1h4M484.4 305.3V319.0M482.4 305.3h4M482.4 319.0h4M489.9 324.0V333.9M487.9 324.0h4M487.9 333.9h4M495.3 314.3V328.6M493.3 314.3h4M493.3 328.6h4M500.8 283.8V293.0M498.8 283.8h4M498.8 293.0h4M506.3 275.5V286.1M504.3 275.5h4M504.3 286.1h4M511.7 290.1V304.2M509.7 290.1h4M509.7 304.2h4" stroke="#1a1aff" stroke-width="1.2" fill="none"/>
<circle cx="41.7" cy="307.6" r="2.6" fill="#0000ff" />
<circle cx="47.1" cy="312.8" r="2.6" fill="#0000ff" />
<circle cx="52.6" cy="315.6" r="2.6" fill="#0000ff" />
<circle cx="58.1" cy="327.2" r="2.6" fill="#0000ff" />
<circle cx="63.5" cy="328.4" r="2.6" fill="#0000ff" />
<circle cx="69.0" cy="328.4" r="2.6" fill="#0000ff" />
<circle cx="74.5" cy="314.5" r="2.6" fill="#0000ff" />
<circle cx="79.9" cy="342.3" r="2.6" fill="#0000ff" />
<circle cx="85.4" cy="304.3" r="2.6" fill="#0000ff" />
<circle cx="90.9" cy="321.1" r="2.6" fill="#0000ff" />
<circle cx="96.3" cy="308.9" r="2.6" fill="#0000ff" />
<circle cx="101.8" cy="295.4" r="2.6" fill="#0000ff" />
<circle cx="107.3" cy="269.1" r="2.6" fill="#0000ff" />
<circle cx="112.7" cy="260.3" r="2.6" fill="#0000ff" />
<circle cx="118.2" cy="254.4" r="2.6" fill="#0000ff" />
<circle cx="123.7" cy="257.4" r="2.6" fill="#0000ff" />
<circle cx="129.1" cy="273.3" r="2.6" fill="#0000ff" />
<circle cx="134.6" cy="287.2" r="2.6" fill="#0000ff" />
<circle cx="140.1" cy="291.9" r="2.6" fill="#0000ff" />
<circle cx="145.5" cy="307.6" r="2.6" fill="#0000ff" />
<circle cx="151.0" cy="299.9" r="2.6" fill="#0000ff" />
<circle cx="156.5" cy="300.8" r="2.6" fill="#0000ff" />
<circle cx="161.9" cy="281.5" r="2.6" fill="#0000ff" />
<circle cx="167.4" cy="286.7" r="2.6" fill="#0000ff" />
<circle cx="172.9" cy="281.5" r="2.6" fill="#0000ff" />
<circle cx="178.3" cy="309.3" r="2.6" fill="#0000ff" />
<circle cx="183.8" cy="316.8" r="2.6" fill="#0000ff" />
<circle cx="189.2" cy="318.2" r="2.6" fill="#0000ff" />
<circle cx="194.7" cy="335.4" r="2.6" fill="#0000ff" />
<circle cx="200.2" cy="323.7" r="2.6" fill="#0000ff" />
<circle cx="205.6" cy="309.5" r="2.6" fill="#0000ff" />
<circle cx="211.1" cy="319.1" r="2.6" fill="#0000ff" />
<circle cx="216.6" cy="326.7" r="2.6" fill="#0000ff" />
<circle cx="222.0" cy="316.2" r="2.6" fill="#0000ff" />
<circle cx="227.5" cy="317.3" r="2.6" fill="#0000ff" />
<circle cx="233.0" cy="317.3" r="2.6" fill="#0000ff" />
<circle cx="238.4" cy="262.9" r="2.6" fill="#0000ff" />
<circle cx="243.9" cy="272.2" r="2.6" fill="#0000ff" />
<circle cx="249.4" cy="264.1" r="2.6" fill="#0000ff" />
<circle cx="254.8" cy="289.0" r="2.6" fill="#0000ff" />
<circle cx="260.3" cy="275.0" r="2.6" fill="#0000ff" />
<circle cx="265.8" cy="279.7" r="2.6" fill="#0000ff" />
<circle cx="271.2" cy="274.0" r="2.6" fill="#0000ff" />
<circle cx="276.7" cy="308.1" r="2.6" fill="#0000ff" />
<circle cx="282.2" cy="306.4" r="2.6" fill="#0000ff" />
<circle cx="287.6" cy="309.3" r="2.6" fill="#0000ff" />
<circle cx="293.1" cy="289.0" r="2.6" fill="#0000ff" />
<circle cx="298.6" cy="289.9" r="2.6" fill="#0000ff" />
<circle cx="304.0" cy="298.2" r="2.6" fill="#0000ff" />
<circle cx="309.5" cy="312.1" r="2.6" fill="#0000ff" />
<circle cx="315.0" cy="315.6" r="2.6" fill="#0000ff" />
<circle cx="320.4" cy="331.9" r="2.6" fill="#0000ff" />
<circle cx="325.9" cy="319.7" r="2.6" fill="#0000ff" />
<circle cx="331.4" cy="323.7" r="2.6" fill="#0000ff" />
<circle cx="336.8" cy="333.0" r="2.6" fill="#0000ff" />
<circle cx="342.3" cy="330.7" r="2.6" fill="#0000ff" />
<circle cx="347.8" cy="326.0" r="2.6" fill="#0000ff" />
<circle cx="353.2" cy="326.7" r="2.6" fill="#0000ff" />
<circle cx="358.7" cy="315.6" r="2.6" fill="#0000ff" />
<circle cx="364.2" cy="263.5" r="2.6" fill="#0000ff" />
<circle cx="369.6" cy="248.4" r="2.6" fill="#0000ff" />
<circle cx="375.1" cy="248.6" r="2.6" fill="#0000ff" />
<circle cx="380.6" cy="245.9" r="2.6" fill="#0000ff" />
<circle cx="386.0" cy="245.2" r="2.6" fill="#0000ff" />
<circle cx="391.5" cy="247.5" r="2.6" fill="#0000ff" />
<circle cx="397.0" cy="245.9" r="2.6" fill="#0000ff" />
<circle cx="402.4" cy="283.2" r="2.6" fill="#0000ff" />
<circle cx="407.9" cy="288.4" r="2.6" fill="#0000ff" />
<circle cx="413.4" cy="309.8" r="2.6" fill="#0000ff" />
<circle cx="418.8" cy="308.6" r="2.6" fill="#0000ff" />
<circle cx="424.3" cy="309.8" r="2.6" fill="#0000ff" />
<circle cx="429.8" cy="293.6" r="2.6" fill="#0000ff" />
<circle cx="435.2" cy="313.3" r="2.6" fill="#0000ff" />
<circle cx="440.7" cy="310.4" r="2.6" fill="#0000ff" />
<circle cx="446.1" cy="315.6" r="2.6" fill="#0000ff" />
<circle cx="451.6" cy="327.2" r="2.6" fill="#0000ff" />
<circle cx="457.1" cy="318.5" r="2.6" fill="#0000ff" />
<circle cx="462.5" cy="325.5" r="2.6" fill="#0000ff" />
<circle cx="468.0" cy="328.4" r="2.6" fill="#0000ff" />
<circle cx="473.5" cy="328.4" r="2.6" fill="#0000ff" />
<circle cx="478.9" cy="333.6" r="2.6" fill="#0000ff" />
<circle cx="484.4" cy="312.1" r="2.6" fill="#0000ff" />
<circle cx="489.9" cy="329.0" r="2.6" fill="#0000ff" />
<circle cx="495.3" cy="321.5" r="2.6" fill="#0000ff" />
<circle cx="500.8" cy="288.4" r="2.6" fill="#0000ff" />
<circle cx="506.3" cy="280.8" r="2.6" fill="#0000ff" />
<circle cx="511.7" cy="297.1" r="2.6" fill="#0000ff" />
<polyline points="41.7,322.0 47.1,315.6 52.6,324.7 58.1,335.4 63.5,327.2 69.0,324.9 74.5,327.8 79.9,330.2 85.4,326.0 90.9,323.7 96.3,319.3 101.8,307.6 107.3,294.7 112.7,270.4 118.2,263.5 123.7,296.1 129.1,298.2 134.6,282.5 140.1,304.1 145.5,302.9 151.0,318.0 156.5,297.7 161.9,288.4 167.4,279.7 172.9,317.1 178.3,322.0 183.8,328.4 189.2,318.5 194.7,329.0 200.2,327.2 205.6,322.0 211.1,323.2 216.6,328.4 222.0,329.5 227.5,320.8 233.0,307.6 238.4,283.2 243.9,286.7 249.4,282.0 254.8,290.2 260.3,282.5 265.8,295.4 271.2,296.5 276.7,308.1 282.2,305.8 287.6,298.2 293.1,290.2 298.6,286.7 304.0,323.2 309.5,309.8 315.0,321.5 320.4,328.4 325.9,328.4 331.4,328.4 336.8,332.4 342.3,331.9 347.8,319.1 353.2,329.5 358.7,323.7 364.2,272.8 369.6,306.4 375.1,311.0 380.6,309.8 386.0,304.6 391.5,293.6 397.0,292.4 402.4,315.1 407.9,316.2 413.4,319.1 418.8,315.6 424.3,301.1 429.8,289.2 435.2,317.3 440.7,319.1 446.1,323.7 451.6,322.0 457.1,326.0 462.5,334.7 468.0,316.8 473.5,335.4 478.9,331.9 484.4,323.2 489.9,327.2 495.3,310.4 500.8,281.5 506.3,291.2 511.7,292.4 517.2,279.5 522.7,275.7 528.1,279.1 533.6,301.1 539.1,315.1 544.5,305.2 550.0,299.4 555.5,288.4 560.9,284.3" fill="none" stroke="#ffaa66" stroke-width="1.2" stroke-linejoin="round" />
<path d="M41.7 317.9V326.1M39.7 317.9h4M39.7 326.1h4M47.1 309.9V321.3M45.1 309.9h4M45.1 321.3h4M52.6 320.1V329.3M50.6 320.1h4M50.6 329.3h4M58.1 329.6V341.1M56.1 329.6h4M56.1 341.1h4M63.5 322.2V332.2M61.5 322.2h4M61.5 332.2h4M69.0 319.7V330.2M67.0 319.7h4M67.0 330.2h4M74.5 320.8V334.7M72.5 320.8h4M72.5 334.7h4M79.9 324.8V335.5M77.9 324.8h4M77.9 335.5h4M85.4 320.4V331.7M83.4 320.4h4M83.4 331.7h4M90.9 317.1V330.4M88.9 317.1h4M88.9 330.4h4M96.3 314.9V323.7M94.3 314.9h4M94.3 323.7h4M101.8 303.2V311.9M99.8 303.2h4M99.8 311.9h4M107.3 288.0V301.5M105.3 288.0h4M105.3 301.5h4M112.7 263.9V276.8M110.7 263.9h4M110.7 276.8h4M118.2 258.9V268.1M116.2 258.9h4M116.2 268.1h4M123.7 291.7V300.6M121.7 291.7h4M121.7 300.6h4M129.1 292.0V304.4M127.1 292.0h4M127.1 304.4h4M134.6 275.7V289.4M132.6 275.7h4M132.6 289.4h4M140.1 299.6V308.5M138.1 299.6h4M138.1 308.5h4M145.5 296.0V309.8M143.5 296.0h4M143.5 309.8h4M151.0 311.3V324.7M149.0 311.3h4M149.0 324.7h4M156.5 291.9V303.4M154.5 291.9h4M154.5 303.4h4M161.9 283.2V293.6M159.9 283.2h4M159.9 293.6h4M167.4 275.6V283.9M165.4 275.6h4M165.4 283.9h4M172.9 313.2V321.0M170.9 313.2h4M170.9 321.0h4M178.3 315.1V329.0M176.3 315.1h4M176.3 329.0h4M183.8 323.8V333.0M181.8 323.8h4M181.8 333.0h4M189.2 312.4V324.6M187.2 312.4h4M187.2 324.6h4M194.7 324.3V333.6M192.7 324.3h4M192.7 333.6h4M200.2 320.7V333.7M198.2 320.7h4M198.2 333.7h4M205.6 316.3V327.8M203.6 316.3h4M203.6 327.8h4M211.1 318.4V328.0M209.1 318.4h4M209.1 328.0h4M216.6 324.0V332.8M214.6 324.0h4M214.6 332.8h4M222.0 323.4V335.7M220.0 323.4h4M220.0 335.7h4M227.5 316.8V324.8M225.5 316.8h4M225.5 324.8h4M233.0 303.0V312.1M231.0 303.0h4M231.0 312.1h4M238.4 277.6V288.8M236.4 277.6h4M236.4 288.8h4M243.9 280.1V293.3M241.9 280.1h4M241.9 293.3h4M249.4 276.2V287.8M247.4 276.2h4M247.4 287.8h4M254.8 285.4V294.9M252.8 285.4h4M252.8 294.9h4M260.3 275.8V289.3M258.3 275.8h4M258.3 289.3h4M265.8 290.9V299.8M263.8 290.9h4M263.8 299.8h4M271.2 292.6V300.3M269.2 292.6h4M269.2 300.3h4M276.7 303.4V312.8M274.7 303.4h4M274.7 312.8h4M282.2 300.6V311.1M280.2 300.6h4M280.2 311.1h4M287.6 294.2V302.2M285.6 294.2h4M285.6 302.2h4M293.1 285.8V294.5M291.1 285.8h4M291.1 294.5h4M298.6 281.7V291.7M296.6 281.7h4M296.6 291.7h4M304.0 317.5V328.9M302.0 317.5h4M302.0 328.9h4M309.5 305.6V314.1M307.5 305.6h4M307.5 314.1h4M315.0 316.5V326.4M313.0 316.5h4M313.0 326.4h4M320.4 321.7V335.1M318.4 321.7h4M318.4 335.1h4M325.9 321.4V335.4M323.9 321.4h4M323.9 335.4h4M331.4 322.5V334.4M329.4 322.5h4M329.4 334.4h4M336.8 326.4V338.5M334.8 326.4h4M334.8 338.5h4M342.3 326.2V337.6M340.3 326.2h4M340.3 337.6h4M347.8 314.8V323.3M345.8 314.8h4M345.8 323.3h4M353.2 325.6V333.4M351.2 325.6h4M351.2 333.4h4M358.7 319.9V327.6M356.7 319.9h4M356.7 327.6h4M364.2 266.0V279.5M362.2 266.0h4M362.2 279.5h4M369.6 300.3V312.4M367.6 300.3h4M367.6 312.4h4M375.1 304.1V318.0M373.1 304.1h4M373.1 318.0h4M380.6 306.0V313.7M378.6 306.0h4M378.6 313.7h4M386.0 298.7V310.5M384.0 298.7h4M384.0 310.5h4M391.5 288.3V299.0M389.5 288.3h4M389.5 299.0h4M397.0 286.3V298.6M395.0 286.3h4M395.0 298.6h4M402.4 310.2V319.9M400.4 310.2h4M400.4 319.9h4M407.9 309.2V323.3M405.9 309.2h4M405.9 323.3h4M413.4 315.0V323.1M411.4 315.0h4M411.4 323.1h4M418.8 310.0V321.2M416.8 310.0h4M416.8 321.2h4M424.3 294.9V307.3M422.3 294.9h4M422.3 307.3h4M429.8 282.4V295.9M427.8 282.4h4M427.8 295.9h4M435.2 311.1V323.5M433.2 311.1h4M433.2 323.5h4M440.7 313.0V325.2M438.7 313.0h4M438.7 325.2h4M446.1 317.4V330.1M444.1 317.4h4M444.1 330.1h4M451.6 315.2V328.8M449.6 315.2h4M449.6 328.8h4M457.1 321.1V331.0M455.1 321.1h4M455.1 331.0h4M462.5 328.7V340.8M460.5 328.7h4M460.5 340.8h4M468.0 310.0V323.5M466.0 310.0h4M466.0 323.5h4M473.5 328.7V342.0M471.5 328.7h4M471.5 342.0h4M478.9 326.7V337.1M476.9 326.7h4M476.9 337.1h4M484.4 316.8V329.6M482.4 316.8h4M482.4 329.6h4M489.9 320.6V333.8M487.9 320.6h4M487.9 333.8h4M495.3 304.7V316.0M493.3 304.7h4M493.3 316.0h4M500.8 275.4V287.5M498.8 275.4h4M498.8 287.5h4M506.3 284.7V297.8M504.3 284.7h4M504.3 297.8h4M511.7 285.9V299.0M509.7 285.9h4M509.7 299.0h4M517.2 273.0V286.0M515.2 273.0h4M515.2 286.0h4M522.7 265.3V286.1M520.7 265.3h4M520.7 286.1h4M528.1 269.8V288.3M526.1 269.8h4M526.1 288.3h4M533.6 293.0V309.3M531.6 293.0h4M531.6 309.3h4M539.1 308.5V321.6M537.1 308.5h4M537.1 321.6h4M544.5 298.6V311.7M542.5 298.6h4M542.5 311.7h4M550.0 291.2V307.6M548.0 291.2h4M548.0 307.6h4M555.5 282.3V294.5M553.5 282.3h4M553.5 294.5h4M560.9 278.2V290.4M558.9 278.2h4M558.9 290.4h4" stroke="#ff9030" stroke-width="1.2" fill="none"/>
<circle cx="41.7" cy="322.0" r="2.6" fill="#ff8010" />
<circle cx="47.1" cy="315.6" r="2.6" fill="#ff8010" />
<circle cx="52.6" cy="324.7" r="2.6" fill="#ff8010" />
<circle cx="58.1" cy="335.4" r="2.6" fill="#ff8010" />
<circle cx="63.5" cy="327.2" r="2.6" fill="#ff8010" />
<circle cx="69.0" cy="324.9" r="2.6" fill="#ff8010" />
<circle cx="74.5" cy="327.8" r="2.6" fill="#ff8010" />
<circle cx="79.9" cy="330.2" r="2.6" fill="#ff8010" />
<circle cx="85.4" cy="326.0" r="2.6" fill="#ff8010" />
<circle cx="90.9" cy="323.7" r="2.6" fill="#ff8010" />
<circle cx="96.3" cy="319.3" r="2.6" fill="#ff8010" />
<circle cx="101.8" cy="307.6" r="2.6" fill="#ff8010" />
<circle cx="107.3" cy="294.7" r="2.6" fill="#ff8010" />
<circle cx="112.7" cy="270.4" r="2.6" fill="#ff8010" />
<circle cx="118.2" cy="263.5" r="2.6" fill="#ff8010" />
<circle cx="123.7" cy="296.1" r="2.6" fill="#ff8010" />
<circle cx="129.1" cy="298.2" r="2.6" fill="#ff8010" />
<circle cx="134.6" cy="282.5" r="2.6" fill="#ff8010" />
<circle cx="140.1" cy="304.1" r="2.6" fill="#ff8010" />
<circle cx="145.5" cy="302.9" r="2.6" fill="#ff8010" />
<circle cx="151.0" cy="318.0" r="2.6" fill="#ff8010" />
<circle cx="156.5" cy="297.7" r="2.6" fill="#ff8010" />
<circle cx="161.9" cy="288.4" r="2.6" fill="#ff8010" />
<circle cx="167.4" cy="279.7" r="2.6" fill="#ff8010" />
<circle cx="172.9" cy="317.1" r="2.6" fill="#ff8010" />
<circle cx="178.3" cy="322.0" r="2.6" fill="#ff8010" />
<circle cx="183.8" cy="328.4" r="2.6" fill="#ff8010" />
<circle cx="189.2" cy="318.5" r="2.6" fill="#ff8010" />
<circle cx="194.7" cy="329.0" r="2.6" fill="#ff8010" />
<circle cx="200.2" cy="327.2" r="2.6" fill="#ff8010" />
<circle cx="205.6" cy="322.0" r="2.6" fill="#ff8010" />
<circle cx="211.1" cy="323.2" r="2.6" fill="#ff8010" />
<circle cx="216.6" cy="328.4" r="2.6" fill="#ff8010" />
<circle cx="222.0" cy="329.5" r="2.6" fill="#ff8010" />
<circle cx="227.5" cy="320.8" r="2.6" fill="#ff8010" />
<circle cx="233.0" cy="307.6" r="2.6" fill="#ff8010" />
<circle cx="238.4" cy="283.2" r="2.6" fill="#ff8010" />
<circle cx="243.9" cy="286.7" r="2.6" fill="#ff8010" />
<circle cx="249.4" cy="282.0" r="2.6" fill="#ff8010" />
<circle cx="254.8" cy="290.2" r="2.6" fill="#ff8010" />
<circle cx="260.3" cy="282.5" r="2.6" fill="#ff8010" />
<circle cx="265.8" cy="295.4" r="2.6" fill="#ff8010" />
<circle cx="271.2" cy="296.5" r="2.6" fill="#ff8010" />
<circle cx="276.7" cy="308.1" r="2.6" fill="#ff8010" />
<circle cx="282.2" cy="305.8" r="2.6" fill="#ff8010" />
<circle cx="287.6" cy="298.2" r="2.6" fill="#ff8010" />
<circle cx="293.1" cy="290.2" r="2.6" fill="#ff8010" />
<circle cx="298.6" cy="286.7" r="2.6" fill="#ff8010" />
<circle cx="304.0" cy="323.2" r="2.6" fill="#ff8010" />
<circle cx="309.5" cy="309.8" r="2.6" fill="#ff8010" />
<circle cx="315.0" cy="321.5" r="2.6" fill="#ff8010" />
<circle cx="320.4" cy="328.4" r="2.6" fill="#ff8010" />
<circle cx="325.9" cy="328.4" r="2.6" fill="#ff8010" />
<circle cx="331.4" cy="328.4" r="2.6" fill="#ff8010" />
<circle cx="336.8" cy="332.4" r="2.6" fill="#ff8010" />
<circle cx="342.3" cy="331.9" r="2.6" fill="#ff8010" />
<circle cx="347.8" cy="319.1" r="2.6" fill="#ff8010" />
<circle cx="353.2" cy="329.5" r="2.6" fill="#ff8010" />
<circle cx="358.7" cy="323.7" r="2.6" fill="#ff8010" />
<circle cx="364.2" cy="272.8" r="2.6" fill="#ff8010" />
<circle cx="369.6" cy="306.4" r="2.6" fill="#ff8010" />
<circle cx="375.1" cy="311.0" r="2.6" fill="#ff8010" />
<circle cx="380.6" cy="309.8" r="2.6" fill="#ff8010" />
<circle cx="386.0" cy="304.6" r="2.6" fill="#ff8010" />
<circle cx="391.5" cy="293.6" r="2.6" fill="#ff8010" />
<circle cx="397.0" cy="292.4" r="2.6" fill="#ff8010" />
<circle cx="402.4" cy="315.1" r="2.6" fill="#ff8010" />
<circle cx="407.9" cy="316.2" r="2.6" fill="#ff8010" />
<circle cx="413.4" cy="319.1" r="2.6" fill="#ff8010" />
<circle cx="418.8" cy="315.6" r="2.6" fill="#ff8010" />
<circle cx="424.3" cy="301.1" r="2.6" fill="#ff8010" />
<circle cx="429.8" cy="289.2" r="2.6" fill="#ff8010" />
<circle cx="435.2" cy="317.3" r="2.6" fill="#ff8010" />
<circle cx="440.7" cy="319.1" r="2.6" fill="#ff8010" />
<circle cx="446.1" cy="323.7" r="2.6" fill="#ff8010" />
<circle cx="451.6" cy="322.0" r="2.6" fill="#ff8010" />
<circle cx="457.1" cy="326.0" r="2.6" fill="#ff8010" />
<circle cx="462.5" cy="334.7" r="2.6" fill="#ff8010" />
<circle cx="468.0" cy="316.8" r="2.6" fill="#ff8010" />
<circle cx="473.5" cy="335.4" r="2.6" fill="#ff8010" />
<circle cx="478.9" cy="331.9" r="2.6" fill="#ff8010" />
<circle cx="484.4" cy="323.2" r="2.6" fill="#ff8010" />
<circle cx="489.9" cy="327.2" r="2.6" fill="#ff8010" />
<circle cx="495.3" cy="310.4" r="2.6" fill="#ff8010" />
<circle cx="500.8" cy="281.5" r="2.6" fill="#ff8010" />
<circle cx="506.3" cy="291.2" r="2.6" fill="#ff8010" />
<circle cx="511.7" cy="292.4" r="2.6" fill="#ff8010" />
<circle cx="517.2" cy="279.5" r="2.6" fill="#ff8010" />
<circle cx="522.7" cy="275.7" r="2.6" fill="#ff8010" />
<circle cx="528.1" cy="279.1" r="2.6" fill="#ff8010" />
<circle cx="533.6" cy="301.1" r="2.6" fill="#ff8010" />
<circle cx="539.1" cy="315.1" r="2.6" fill="#ff8010" />
<circle cx="544.5" cy="305.2" r="2.6" fill="#ff8010" />
<circle cx="550.0" cy="299.4" r="2.6" fill="#ff8010" />
<circle cx="555.5" cy="288.4" r="2.6" fill="#ff8010" />
<circle cx="560.9" cy="284.3" r="2.6" fill="#ff8010" />
<polyline points="41.7,311.7 47.1,324.3 52.6,325.5 58.1,322.0 63.5,327.2 69.0,332.4 74.5,322.0 79.9,327.8 85.4,319.7 90.9,330.7 96.3,318.9 101.8,299.1 107.3,293.0 112.7,272.5 118.2,262.3 123.7,266.0 129.1,289.5 134.6,300.8 140.1,262.5 145.5,295.9 151.0,304.1 156.5,280.3 161.9,295.0 167.4,283.2 172.9,310.8 178.3,311.6 183.8,315.1 189.2,331.2 194.7,311.0 200.2,333.6 205.6,324.9 211.1,311.6 216.6,330.9 222.0,319.7 227.5,316.8 233.0,308.1 238.4,279.7 243.9,277.4 249.4,273.3 254.8,289.9 260.3,278.3 265.8,274.5 271.2,301.7 276.7,323.2 282.2,301.7 287.6,305.2 293.1,297.1 298.6,277.7 304.0,321.1 309.5,312.1 315.0,317.3 320.4,322.0 325.9,325.5 331.4,324.3 336.8,327.8 342.3,329.0 347.8,322.0 353.2,336.7 358.7,315.8 364.2,274.5 369.6,296.5 375.1,291.0 380.6,270.2 386.0,269.5 391.5,267.0 397.0,287.8 402.4,284.9 407.9,298.9 413.4,306.9 418.8,305.2 424.3,276.0 429.8,304.3 435.2,307.6 440.7,326.7 446.1,325.5 451.6,328.4 457.1,335.9 462.5,325.5 468.0,316.2 473.5,336.5 478.9,323.7 484.4,325.5 489.9,324.3 495.3,320.3 500.8,286.7 506.3,284.3 511.7,280.3 517.2,285.5 522.7,270.4 528.1,275.0 533.6,317.3 539.1,308.6 544.5,295.4 550.0,295.9 555.5,277.1 560.9,276.8" fill="none" stroke="#30ec30" stroke-width="1.5" stroke-linejoin="round" />
<path d="M41.7 303.9V319.5M39.7 303.9h4M39.7 319.5h4M47.1 314.3V334.3M45.1 314.3h4M45.1 334.3h4M52.6 319.6V331.4M50.6 319.6h4M50.6 331.4h4M58.1 312.5V331.5M56.1 312.5h4M56.1 331.5h4M63.5 321.6V332.8M61.5 321.6h4M61.5 332.8h4M69.0 323.7V341.1M67.0 323.7h4M67.0 341.1h4M74.5 314.0V330.1M72.5 314.0h4M72.5 330.1h4M79.9 321.1V334.5M77.9 321.1h4M77.9 334.5h4M85.4 310.5V329.0M83.4 310.5h4M83.4 329.0h4M90.9 322.6V338.8M88.9 322.6h4M88.9 338.8h4M96.3 310.1V327.6M94.3 310.1h4M94.3 327.6h4M101.8 288.6V309.5M99.8 288.6h4M99.8 309.5h4M107.3 286.2V299.8M105.3 286.2h4M105.3 299.8h4M112.7 267.1V278.0M110.7 267.1h4M110.7 278.0h4M118.2 255.3V269.4M116.2 255.3h4M116.2 269.4h4M123.7 256.9V275.1M121.7 256.9h4M121.7 275.1h4M129.1 283.0V296.0M127.1 283.0h4M127.1 296.0h4M134.6 294.5V307.2M132.6 294.5h4M132.6 307.2h4M140.1 252.2V272.9M138.1 252.2h4M138.1 272.9h4M145.5 286.9V304.9M143.5 286.9h4M143.5 304.9h4M151.0 296.2V311.9M149.0 296.2h4M149.0 311.9h4M156.5 270.0V290.5M154.5 270.0h4M154.5 290.5h4M161.9 287.8V302.3M159.9 287.8h4M159.9 302.3h4M167.4 274.1V292.3M165.4 274.1h4M165.4 292.3h4M172.9 304.3V317.3M170.9 304.3h4M170.9 317.3h4M178.3 303.8V319.3M176.3 303.8h4M176.3 319.3h4M183.8 305.2V324.9M181.8 305.2h4M181.8 324.9h4M189.2 320.8V341.7M187.2 320.8h4M187.2 341.7h4M194.7 300.8V321.2M192.7 300.8h4M192.7 321.2h4M200.2 326.1V341.2M198.2 326.1h4M198.2 341.2h4M205.6 316.3V333.5M203.6 316.3h4M203.6 333.5h4M211.1 304.4V318.7M209.1 304.4h4M209.1 318.7h4M216.6 324.7V337.1M214.6 324.7h4M214.6 337.1h4M222.0 311.6V327.9M220.0 311.6h4M220.0 327.9h4M227.5 306.8V326.8M225.5 306.8h4M225.5 326.8h4M233.0 298.0V318.1M231.0 298.0h4M231.0 318.1h4M238.4 270.4V289.0M236.4 270.4h4M236.4 289.0h4M243.9 266.8V288.0M241.9 266.8h4M241.9 288.0h4M249.4 266.4V280.2M247.4 266.4h4M247.4 280.2h4M254.8 283.6V296.3M252.8 283.6h4M252.8 296.3h4M260.3 270.4V286.2M258.3 270.4h4M258.3 286.2h4M265.8 267.6V281.4M263.8 267.6h4M263.8 281.4h4M271.2 295.1V308.3M269.2 295.1h4M269.2 308.3h4M276.7 315.5V330.9M274.7 315.5h4M274.7 330.9h4M282.2 292.8V310.5M280.2 292.8h4M280.2 310.5h4M287.6 297.0V313.3M285.6 297.0h4M285.6 313.3h4M293.1 290.0V304.3M291.1 290.0h4M291.1 304.3h4M298.6 267.7V287.7M296.6 267.7h4M296.6 287.7h4M304.0 310.4V331.9M302.0 310.4h4M302.0 331.9h4M309.5 304.2V320.0M307.5 304.2h4M307.5 320.0h4M315.0 311.5V323.2M313.0 311.5h4M313.0 323.2h4M320.4 316.4V327.6M318.4 316.4h4M318.4 327.6h4M325.9 315.3V335.7M323.9 315.3h4M323.9 335.7h4M331.4 318.6V330.0M329.4 318.6h4M329.4 330.0h4M336.8 318.5V337.1M334.8 318.5h4M334.8 337.1h4M342.3 320.4V337.5M340.3 320.4h4M340.3 337.5h4M347.8 314.9V329.1M345.8 314.9h4M345.8 329.1h4M353.2 326.9V346.4M351.2 326.9h4M351.2 346.4h4M358.7 310.3V321.4M356.7 310.3h4M356.7 321.4h4M364.2 268.3V280.7M362.2 268.3h4M362.2 280.7h4M369.6 288.6V304.4M367.6 288.6h4M367.6 304.4h4M375.1 285.5V296.6M373.1 285.5h4M373.1 296.6h4M380.6 260.2V280.1M378.6 260.2h4M378.6 280.1h4M386.0 262.8V276.2M384.0 262.8h4M384.0 276.2h4M391.5 260.8V273.2M389.5 260.8h4M389.5 273.2h4M397.0 282.1V293.5M395.0 282.1h4M395.0 293.5h4M402.4 276.1V293.8M400.4 276.1h4M400.4 293.8h4M407.9 291.0V306.7M405.9 291.0h4M405.9 306.7h4M413.4 298.0V315.8M411.4 298.0h4M411.4 315.8h4M418.8 296.2V314.2M416.8 296.2h4M416.8 314.2h4M424.3 266.2V285.9M422.3 266.2h4M422.3 285.9h4M429.8 293.6V314.9M427.8 293.6h4M427.8 314.9h4M435.2 298.4V316.7M433.2 298.4h4M433.2 316.7h4M440.7 320.2V333.2M438.7 320.2h4M438.7 333.2h4M446.1 317.5V333.5M444.1 317.5h4M444.1 333.5h4M451.6 322.0V334.8M449.6 322.0h4M449.6 334.8h4M457.1 330.4V341.4M455.1 330.4h4M455.1 341.4h4M462.5 317.5V333.5M460.5 317.5h4M460.5 333.5h4M468.0 306.9V325.6M466.0 306.9h4M466.0 325.6h4M473.5 330.1V342.9M471.5 330.1h4M471.5 342.9h4M478.9 316.8V330.7M476.9 316.8h4M476.9 330.7h4M484.4 318.2V332.8M482.4 318.2h4M482.4 332.8h4M489.9 315.1V333.5M487.9 315.1h4M487.9 333.5h4M495.3 312.0V328.5M493.3 312.0h4M493.3 328.5h4M500.8 281.2V292.1M498.8 281.2h4M498.8 292.1h4M506.3 275.6V293.0M504.3 275.6h4M504.3 293.0h4M511.7 270.5V290.0M509.7 270.5h4M509.7 290.0h4M517.2 264.8V306.1M515.2 264.8h4M515.2 306.1h4M522.7 251.9V288.9M520.7 251.9h4M520.7 288.9h4M528.1 250.6V299.5M526.1 250.6h4M526.1 299.5h4M533.6 302.9V331.8M531.6 302.9h4M531.6 331.8h4M539.1 295.9V321.4M537.1 295.9h4M537.1 321.4h4M544.5 282.3V308.4M542.5 282.3h4M542.5 308.4h4M550.0 274.2V317.7M548.0 274.2h4M548.0 317.7h4M555.5 264.1V290.2M553.5 264.1h4M553.5 290.2h4M560.9 265.5V288.1M558.9 265.5h4M558.9 288.1h4" stroke="#28c828" stroke-width="1.2" fill="none"/>
<circle cx="41.7" cy="311.7" r="2.6" fill="#12b012" />
<circle cx="47.1" cy="324.3" r="2.6" fill="#12b012" />
<circle cx="52.6" cy="325.5" r="2.6" fill="#12b012" />
<circle cx="58.1" cy="322.0" r="2.6" fill="#12b012" />
<circle cx="63.5" cy="327.2" r="2.6" fill="#12b012" />
<circle cx="69.0" cy="332.4" r="2.6" fill="#12b012" />
<circle cx="74.5" cy="322.0" r="2.6" fill="#12b012" />
<circle cx="79.9" cy="327.8" r="2.6" fill="#12b012" />
<circle cx="85.4" cy="319.7" r="2.6" fill="#12b012" />
<circle cx="90.9" cy="330.7" r="2.6" fill="#12b012" />
<circle cx="96.3" cy="318.9" r="2.6" fill="#12b012" />
<circle cx="101.8" cy="299.1" r="2.6" fill="#12b012" />
<circle cx="107.3" cy="293.0" r="2.6" fill="#12b012" />
<circle cx="112.7" cy="272.5" r="2.6" fill="#12b012" />
<circle cx="118.2" cy="262.3" r="2.6" fill="#12b012" />
<circle cx="123.7" cy="266.0" r="2.6" fill="#12b012" />
<circle cx="129.1" cy="289.5" r="2.6" fill="#12b012" />
<circle cx="134.6" cy="300.8" r="2.6" fill="#12b012" />
<circle cx="140.1" cy="262.5" r="2.6" fill="#12b012" />
<circle cx="145.5" cy="295.9" r="2.6" fill="#12b012" />
<circle cx="151.0" cy="304.1" r="2.6" fill="#12b012" />
<circle cx="156.5" cy="280.3" r="2.6" fill="#12b012" />
<circle cx="161.9" cy="295.0" r="2.6" fill="#12b012" />
<circle cx="167.4" cy="283.2" r="2.6" fill="#12b012" />
<circle cx="172.9" cy="310.8" r="2.6" fill="#12b012" />
<circle cx="178.3" cy="311.6" r="2.6" fill="#12b012" />
<circle cx="183.8" cy="315.1" r="2.6" fill="#12b012" />
<circle cx="189.2" cy="331.2" r="2.6" fill="#12b012" />
<circle cx="194.7" cy="311.0" r="2.6" fill="#12b012" />
<circle cx="200.2" cy="333.6" r="2.6" fill="#12b012" />
<circle cx="205.6" cy="324.9" r="2.6" fill="#12b012" />
<circle cx="211.1" cy="311.6" r="2.6" fill="#12b012" />
<circle cx="216.6" cy="330.9" r="2.6" fill="#12b012" />
<circle cx="222.0" cy="319.7" r="2.6" fill="#12b012" />
<circle cx="227.5" cy="316.8" r="2.6" fill="#12b012" />
<circle cx="233.0" cy="308.1" r="2.6" fill="#12b012" />
<circle cx="238.4" cy="279.7" r="2.6" fill="#12b012" />
<circle cx="243.9" cy="277.4" r="2.6" fill="#12b012" />
<circle cx="249.4" cy="273.3" r="2.6" fill="#12b012" />
<circle cx="254.8" cy="289.9" r="2.6" fill="#12b012" />
<circle cx="260.3" cy="278.3" r="2.6" fill="#12b012" />
<circle cx="265.8" cy="274.5" r="2.6" fill="#12b012" />
<circle cx="271.2" cy="301.7" r="2.6" fill="#12b012" />
<circle cx="276.7" cy="323.2" r="2.6" fill="#12b012" />
<circle cx="282.2" cy="301.7" r="2.6" fill="#12b012" />
<circle cx="287.6" cy="305.2" r="2.6" fill="#12b012" />
<circle cx="293.1" cy="297.1" r="2.6" fill="#12b012" />
<circle cx="298.6" cy="277.7" r="2.6" fill="#12b012" />
<circle cx="304.0" cy="321.1" r="2.6" fill="#12b012" />
<circle cx="309.5" cy="312.1" r="2.6" fill="#12b012" />
<circle cx="315.0" cy="317.3" r="2.6" fill="#12b012" />
<circle cx="320.4" cy="322.0" r="2.6" fill="#12b012" />
<circle cx="325.9" cy="325.5" r="2.6" fill="#12b012" />
<circle cx="331.4" cy="324.3" r="2.6" fill="#12b012" />
<circle cx="336.8" cy="327.8" r="2.6" fill="#12b012" />
<circle cx="342.3" cy="329.0" r="2.6" fill="#12b012" />
<circle cx="347.8" cy="322.0" r="2.6" fill="#12b012" />
<circle cx="353.2" cy="336.7" r="2.6" fill="#12b012" />
<circle cx="358.7" cy="315.8" r="2.6" fill="#12b012" />
<circle cx="364.2" cy="274.5" r="2.6" fill="#12b012" />
<circle cx="369.6" cy="296.5" r="2.6" fill="#12b012" />
<circle cx="375.1" cy="291.0" r="2.6" fill="#12b012" />
<circle cx="380.6" cy="270.2" r="2.6" fill="#12b012" />
<circle cx="386.0" cy="269.5" r="2.6" fill="#12b012" />
<circle cx="391.5" cy="267.0" r="2.6" fill="#12b012" />
<circle cx="397.0" cy="287.8" r="2.6" fill="#12b012" />
<circle cx="402.4" cy="284.9" r="2.6" fill="#12b012" />
<circle cx="407.9" cy="298.9" r="2.6" fill="#12b012" />
<circle cx="413.4" cy="306.9" r="2.6" fill="#12b012" />
<circle cx="418.8" cy="305.2" r="2.6" fill="#12b012" />
<circle cx="424.3" cy="276.0" r="2.6" fill="#12b012" />
<circle cx="429.8" cy="304.3" r="2.6" fill="#12b012" />
<circle cx="435.2" cy="307.6" r="2.6" fill="#12b012" />
<circle cx="440.7" cy="326.7" r="2.6" fill="#12b012" />
<circle cx="446.1" cy="325.5" r="2.6" fill="#12b012" />
<circle cx="451.6" cy="328.4" r="2.6" fill="#12b012" />
<circle cx="457.1" cy="335.9" r="2.6" fill="#12b012" />
<circle cx="462.5" cy="325.5" r="2.6" fill="#12b012" />
<circle cx="468.0" cy="316.2" r="2.6" fill="#12b012" />
<circle cx="473.5" cy="336.5" r="2.6" fill="#12b012" />
<circle cx="478.9" cy="323.7" r="2.6" fill="#12b012" />
<circle cx="484.4" cy="325.5" r="2.6" fill="#12b012" />
<circle cx="489.9" cy="324.3" r="2.6" fill="#12b012" />
<circle cx="495.3" cy="320.3" r="2.6" fill="#12b012" />
<circle cx="500.8" cy="286.7" r="2.6" fill="#12b012" />
<circle cx="506.3" cy="284.3" r="2.6" fill="#12b012" />
<circle cx="511.7" cy="280.3" r="2.6" fill="#12b012" />
<circle cx="517.2" cy="285.5" r="2.6" fill="#12b012" />
<circle cx="522.7" cy="270.4" r="2.6" fill="#12b012" />
<circle cx="528.1" cy="275.0" r="2.6" fill="#12b012" />
<circle cx="533.6" cy="317.3" r="2.6" fill="#12b012" />
<circle cx="539.1" cy="308.6" r="2.6" fill="#12b012" />
<circle cx="544.5" cy="295.4" r="2.6" fill="#12b012" />
<circle cx="550.0" cy="295.9" r="2.6" fill="#12b012" />
<circle cx="555.5" cy="277.1" r="2.6" fill="#12b012" />
<circle cx="560.9" cy="276.8" r="2.6" fill="#12b012" />
<line x1="48.5" y1="396.8" x2="157.0" y2="396.8" stroke="#2b1d1d" stroke-width="1.6" />
<text transform="translate(102.75,393.26) scale(0.96,1)" font-size="9.66" fill="#231f20" stroke="#231f20" stroke-width="0.12" text-anchor="middle" >Baseline day</text>
<line x1="178.4" y1="396.8" x2="288.8" y2="396.8" stroke="#2b1d1d" stroke-width="1.6" />
<text transform="translate(233.60,393.26) scale(0.96,1)" font-size="9.66" fill="#231f20" stroke="#231f20" stroke-width="0.12" text-anchor="middle" >Prestress day</text>
<line x1="310.0" y1="396.8" x2="418.8" y2="396.8" stroke="#2b1d1d" stroke-width="1.6" />
<text transform="translate(364.40,393.26) scale(0.96,1)" font-size="9.66" fill="#231f20" stroke="#231f20" stroke-width="0.12" text-anchor="middle" >Stress day</text>
<line x1="440.8" y1="396.8" x2="549.8" y2="396.8" stroke="#2b1d1d" stroke-width="1.6" />
<text transform="translate(495.30,393.26) scale(0.96,1)" font-size="9.66" fill="#231f20" stroke="#231f20" stroke-width="0.12" text-anchor="middle" >Poststress day</text>
<text transform="translate(240.70,407.56) scale(0.96,1)" font-size="9.66" fill="#29a1dc" stroke="#29a1dc" stroke-width="0.12" text-anchor="middle" >Habituation</text>
<polygon points="235.65,409.90 245.95,409.90 240.80,426.60" fill="#29a1dc" />
<text transform="translate(380.10,407.56) scale(0.96,1)" font-size="9.66" fill="#1a1ae6" stroke="#1a1ae6" stroke-width="0.12" text-anchor="middle" >Sleep deprivation</text>
<rect x="363.60" y="410.30" width="32.70" height="6.20" fill="#0000ee" stroke="none" stroke-width="0" />
<text transform="translate(354.20,429.76) scale(0.96,1)" font-size="9.66" fill="#ff8a1c" stroke="#ff8a1c" stroke-width="0.12" text-anchor="end" >Stress</text>
<polygon points="356.10,418.50 365.70,418.50 360.90,435.60" fill="#ff8a1c" />
<text transform="translate(503.60,407.66) scale(0.96,1)" font-size="9.66" fill="#22bb22" stroke="#22bb22" stroke-width="0.12" text-anchor="middle" >Social interaction test</text>
<polygon points="498.60,409.80 509.00,409.80 503.80,427.60" fill="#10b010" />
<text transform="translate(578.20,392.86) scale(0.96,1)" font-size="9.66" fill="#231f20" stroke="#231f20" stroke-width="0.12" text-anchor="start" >Group plot</text>
<line x1="578.2" y1="405.7" x2="601.6" y2="405.7" stroke="#33dd33" stroke-width="1.3" />
<circle cx="590.0" cy="405.7" r="2.4" fill="#14b814" />
<text transform="translate(606.00,409.16) scale(0.96,1)" font-size="9.66" fill="#22bb22" stroke="#22bb22" stroke-width="0.12" text-anchor="start" >Control</text>
<line x1="578.2" y1="420.2" x2="601.6" y2="420.2" stroke="#ffae6a" stroke-width="1.3" />
<circle cx="590.0" cy="420.2" r="2.4" fill="#ff8010" />
<text transform="translate(606.00,423.66) scale(0.96,1)" font-size="9.66" fill="#ff8a1c" stroke="#ff8a1c" stroke-width="0.12" text-anchor="start" >Stress</text>
<line x1="578.2" y1="434.7" x2="601.6" y2="434.7" stroke="#7c7cff" stroke-width="1.3" />
<circle cx="590.0" cy="434.7" r="2.4" fill="#0000f0" />
<text transform="translate(606.00,438.16) scale(0.96,1)" font-size="9.66" fill="#1a1ae6" stroke="#1a1ae6" stroke-width="0.12" text-anchor="start" >Stress + Sleep dep</text>
<rect x="36.20" y="529.30" width="65.59" height="5.80" fill="#fdea8e" stroke="none" stroke-width="0" />
<rect x="101.79" y="529.30" width="65.59" height="5.80" fill="#a3a3a3" stroke="none" stroke-width="0" />
<rect x="167.38" y="529.30" width="65.59" height="5.80" fill="#fdea8e" stroke="none" stroke-width="0" />
<rect x="232.98" y="529.30" width="65.59" height="5.80" fill="#a3a3a3" stroke="none" stroke-width="0" />
<rect x="298.57" y="529.30" width="65.59" height="5.80" fill="#fdea8e" stroke="none" stroke-width="0" />
<rect x="364.16" y="529.30" width="65.59" height="5.80" fill="#a3a3a3" stroke="none" stroke-width="0" />
<rect x="429.75" y="529.30" width="65.59" height="5.80" fill="#fdea8e" stroke="none" stroke-width="0" />
<rect x="495.34" y="529.30" width="65.59" height="5.80" fill="#a3a3a3" stroke="none" stroke-width="0" />
<line x1="101.8" y1="425.8" x2="101.8" y2="529.3" stroke="#444444" stroke-width="1.1" stroke-dasharray="1.2,1.5"/>
<line x1="233.0" y1="425.8" x2="233.0" y2="529.3" stroke="#444444" stroke-width="1.1" stroke-dasharray="1.2,1.5"/>
<line x1="364.2" y1="425.8" x2="364.2" y2="529.3" stroke="#444444" stroke-width="1.1" stroke-dasharray="1.2,1.5"/>
<line x1="495.3" y1="425.8" x2="495.3" y2="529.3" stroke="#444444" stroke-width="1.1" stroke-dasharray="1.2,1.5"/>
<line x1="167.4" y1="425.8" x2="167.4" y2="529.3" stroke="#8a8a8a" stroke-width="1.1" />
<line x1="298.6" y1="425.8" x2="298.6" y2="529.3" stroke="#8a8a8a" stroke-width="1.1" />
<line x1="429.8" y1="425.8" x2="429.8" y2="529.3" stroke="#8a8a8a" stroke-width="1.1" />
<line x1="36.2" y1="425.2" x2="36.2" y2="535.7" stroke="#151213" stroke-width="1.3" />
<line x1="35.6" y1="535.1" x2="561.5" y2="535.1" stroke="#151213" stroke-width="1.3" />
<line x1="30.8" y1="535.1" x2="36.2" y2="535.1" stroke="#151213" stroke-width="1.3" />
<text transform="translate(27.80,538.56) scale(0.96,1)" font-size="9.66" fill="#231f20" stroke="#231f20" stroke-width="0.12" text-anchor="end" >35</text>
<line x1="30.8" y1="507.8" x2="36.2" y2="507.8" stroke="#151213" stroke-width="1.3" />
<text transform="translate(27.80,511.24) scale(0.96,1)" font-size="9.66" fill="#231f20" stroke="#231f20" stroke-width="0.12" text-anchor="end" >36</text>
<line x1="30.8" y1="480.5" x2="36.2" y2="480.5" stroke="#151213" stroke-width="1.3" />
<text transform="translate(27.80,483.92) scale(0.96,1)" font-size="9.66" fill="#231f20" stroke="#231f20" stroke-width="0.12" text-anchor="end" >37</text>
<line x1="30.8" y1="453.1" x2="36.2" y2="453.1" stroke="#151213" stroke-width="1.3" />
<text transform="translate(27.80,456.60) scale(0.96,1)" font-size="9.66" fill="#231f20" stroke="#231f20" stroke-width="0.12" text-anchor="end" >38</text>
<line x1="30.8" y1="425.8" x2="36.2" y2="425.8" stroke="#151213" stroke-width="1.3" />
<text transform="translate(27.80,429.28) scale(0.96,1)" font-size="9.66" fill="#231f20" stroke="#231f20" stroke-width="0.12" text-anchor="end" >39</text>
<line x1="36.2" y1="535.1" x2="36.2" y2="540.7" stroke="#151213" stroke-width="1.3" />
<text transform="translate(36.20,551.36) scale(0.96,1)" font-size="9.66" fill="#231f20" stroke="#231f20" stroke-width="0.12" text-anchor="middle" >0</text>
<line x1="58.1" y1="535.1" x2="58.1" y2="540.7" stroke="#151213" stroke-width="1.3" />
<text transform="translate(58.06,551.36) scale(0.96,1)" font-size="9.66" fill="#231f20" stroke="#231f20" stroke-width="0.12" text-anchor="middle" >4</text>
<line x1="79.9" y1="535.1" x2="79.9" y2="540.7" stroke="#151213" stroke-width="1.3" />
<text transform="translate(79.93,551.36) scale(0.96,1)" font-size="9.66" fill="#231f20" stroke="#231f20" stroke-width="0.12" text-anchor="middle" >8</text>
<line x1="101.8" y1="535.1" x2="101.8" y2="540.7" stroke="#151213" stroke-width="1.3" />
<text transform="translate(101.79,551.36) scale(0.96,1)" font-size="9.66" fill="#231f20" stroke="#231f20" stroke-width="0.12" text-anchor="middle" >12</text>
<line x1="123.7" y1="535.1" x2="123.7" y2="540.7" stroke="#151213" stroke-width="1.3" />
<text transform="translate(123.66,551.36) scale(0.96,1)" font-size="9.66" fill="#231f20" stroke="#231f20" stroke-width="0.12" text-anchor="middle" >16</text>
<line x1="145.5" y1="535.1" x2="145.5" y2="540.7" stroke="#151213" stroke-width="1.3" />
<text transform="translate(145.52,551.36) scale(0.96,1)" font-size="9.66" fill="#231f20" stroke="#231f20" stroke-width="0.12" text-anchor="middle" >20</text>
<line x1="167.4" y1="535.1" x2="167.4" y2="540.7" stroke="#151213" stroke-width="1.3" />
<text transform="translate(167.38,551.36) scale(0.96,1)" font-size="9.66" fill="#231f20" stroke="#231f20" stroke-width="0.12" text-anchor="middle" >24</text>
<line x1="189.2" y1="535.1" x2="189.2" y2="540.7" stroke="#151213" stroke-width="1.3" />
<text transform="translate(189.25,551.36) scale(0.96,1)" font-size="9.66" fill="#231f20" stroke="#231f20" stroke-width="0.12" text-anchor="middle" >4</text>
<line x1="211.1" y1="535.1" x2="211.1" y2="540.7" stroke="#151213" stroke-width="1.3" />
<text transform="translate(211.11,551.36) scale(0.96,1)" font-size="9.66" fill="#231f20" stroke="#231f20" stroke-width="0.12" text-anchor="middle" >8</text>
<line x1="233.0" y1="535.1" x2="233.0" y2="540.7" stroke="#151213" stroke-width="1.3" />
<text transform="translate(232.98,551.36) scale(0.96,1)" font-size="9.66" fill="#231f20" stroke="#231f20" stroke-width="0.12" text-anchor="middle" >12</text>
<line x1="254.8" y1="535.1" x2="254.8" y2="540.7" stroke="#151213" stroke-width="1.3" />
<text transform="translate(254.84,551.36) scale(0.96,1)" font-size="9.66" fill="#231f20" stroke="#231f20" stroke-width="0.12" text-anchor="middle" >16</text>
<line x1="276.7" y1="535.1" x2="276.7" y2="540.7" stroke="#151213" stroke-width="1.3" />
<text transform="translate(276.70,551.36) scale(0.96,1)" font-size="9.66" fill="#231f20" stroke="#231f20" stroke-width="0.12" text-anchor="middle" >20</text>
<line x1="298.6" y1="535.1" x2="298.6" y2="540.7" stroke="#151213" stroke-width="1.3" />
<text transform="translate(298.57,551.36) scale(0.96,1)" font-size="9.66" fill="#231f20" stroke="#231f20" stroke-width="0.12" text-anchor="middle" >24</text>
<line x1="320.4" y1="535.1" x2="320.4" y2="540.7" stroke="#151213" stroke-width="1.3" />
<text transform="translate(320.43,551.36) scale(0.96,1)" font-size="9.66" fill="#231f20" stroke="#231f20" stroke-width="0.12" text-anchor="middle" >4</text>
<line x1="342.3" y1="535.1" x2="342.3" y2="540.7" stroke="#151213" stroke-width="1.3" />
<text transform="translate(342.30,551.36) scale(0.96,1)" font-size="9.66" fill="#231f20" stroke="#231f20" stroke-width="0.12" text-anchor="middle" >8</text>
<line x1="364.2" y1="535.1" x2="364.2" y2="540.7" stroke="#151213" stroke-width="1.3" />
<text transform="translate(364.16,551.36) scale(0.96,1)" font-size="9.66" fill="#231f20" stroke="#231f20" stroke-width="0.12" text-anchor="middle" >12</text>
<line x1="386.0" y1="535.1" x2="386.0" y2="540.7" stroke="#151213" stroke-width="1.3" />
<text transform="translate(386.02,551.36) scale(0.96,1)" font-size="9.66" fill="#231f20" stroke="#231f20" stroke-width="0.12" text-anchor="middle" >16</text>
<line x1="407.9" y1="535.1" x2="407.9" y2="540.7" stroke="#151213" stroke-width="1.3" />
<text transform="translate(407.89,551.36) scale(0.96,1)" font-size="9.66" fill="#231f20" stroke="#231f20" stroke-width="0.12" text-anchor="middle" >20</text>
<line x1="429.8" y1="535.1" x2="429.8" y2="540.7" stroke="#151213" stroke-width="1.3" />
<text transform="translate(429.75,551.36) scale(0.96,1)" font-size="9.66" fill="#231f20" stroke="#231f20" stroke-width="0.12" text-anchor="middle" >24</text>
<line x1="451.6" y1="535.1" x2="451.6" y2="540.7" stroke="#151213" stroke-width="1.3" />
<text transform="translate(451.62,551.36) scale(0.96,1)" font-size="9.66" fill="#231f20" stroke="#231f20" stroke-width="0.12" text-anchor="middle" >4</text>
<line x1="473.5" y1="535.1" x2="473.5" y2="540.7" stroke="#151213" stroke-width="1.3" />
<text transform="translate(473.48,551.36) scale(0.96,1)" font-size="9.66" fill="#231f20" stroke="#231f20" stroke-width="0.12" text-anchor="middle" >8</text>
<line x1="495.3" y1="535.1" x2="495.3" y2="540.7" stroke="#151213" stroke-width="1.3" />
<text transform="translate(495.34,551.36) scale(0.96,1)" font-size="9.66" fill="#231f20" stroke="#231f20" stroke-width="0.12" text-anchor="middle" >12</text>
<line x1="517.2" y1="535.1" x2="517.2" y2="540.7" stroke="#151213" stroke-width="1.3" />
<text transform="translate(517.21,551.36) scale(0.96,1)" font-size="9.66" fill="#231f20" stroke="#231f20" stroke-width="0.12" text-anchor="middle" >16</text>
<line x1="539.1" y1="535.1" x2="539.1" y2="540.7" stroke="#151213" stroke-width="1.3" />
<text transform="translate(539.07,551.36) scale(0.96,1)" font-size="9.66" fill="#231f20" stroke="#231f20" stroke-width="0.12" text-anchor="middle" >20</text>
<line x1="560.9" y1="535.1" x2="560.9" y2="540.7" stroke="#151213" stroke-width="1.3" />
<text transform="translate(560.94,551.36) scale(0.96,1)" font-size="9.66" fill="#231f20" stroke="#231f20" stroke-width="0.12" text-anchor="middle" >24</text>
<text transform="translate(300.90,563.56) scale(0.96,1)" font-size="9.66" fill="#231f20" stroke="#231f20" stroke-width="0.12" text-anchor="middle" >Time (ZT)</text>
<text transform="translate(8.90,481.00) rotate(-90) scale(0.96,1)" font-size="9.66" fill="#231f20" stroke="#231f20" stroke-width="0.12" text-anchor="middle">Body temperature (°C)</text>
<polyline points="41.7,501.0 47.1,512.7 52.6,512.2 58.1,519.8 63.5,520.3 69.0,517.3 74.5,511.6 79.9,522.3 85.4,512.2 90.9,509.1 96.3,502.9 101.8,495.2 107.3,472.8 112.7,461.3 118.2,455.3 123.7,459.7 129.1,469.0 134.6,485.7 140.1,481.0 145.5,496.3 151.0,490.3 156.5,494.1 161.9,486.2 167.4,485.1 172.9,488.7 178.3,501.0 183.8,508.1 189.2,507.5 194.7,520.3 200.2,514.1 205.6,505.6 211.1,510.5 216.6,516.2 222.0,512.7 227.5,505.6 233.0,504.5 238.4,473.9 243.9,472.3 249.4,463.2 254.8,472.3 260.3,464.6 265.8,473.4 271.2,472.8 276.7,491.7 282.2,492.8 287.6,492.2 293.1,484.6 298.6,488.9 304.0,494.4 309.5,512.7 315.0,510.5 320.4,522.3 325.9,519.8 331.4,518.7 336.8,525.8 342.3,524.4 347.8,520.3 353.2,518.2 358.7,512.7 364.2,479.6 369.6,479.9 375.1,468.2 380.6,455.3 386.0,450.4 391.5,446.6 397.0,446.3 402.4,460.8 407.9,464.6 413.4,479.4 418.8,485.1 424.3,485.7 429.8,479.9 435.2,486.2 440.7,491.7 446.1,496.3 451.6,502.9 457.1,502.9 462.5,509.1 468.0,508.6 473.5,509.1 478.9,509.7 484.4,507.0 489.9,504.2 495.3,497.9 500.8,485.7 506.3,481.0 511.7,478.8" fill="none" stroke="#8080ff" stroke-width="1.2" stroke-linejoin="round" />
<path d="M41.7 498.5V503.4M39.7 498.5h4M39.7 503.4h4M47.1 509.8V515.6M45.1 509.8h4M45.1 515.6h4M52.6 508.6V515.7M50.6 508.6h4M50.6 515.7h4M58.1 516.4V523.2M56.1 516.4h4M56.1 523.2h4M63.5 516.6V524.1M61.5 516.6h4M61.5 524.1h4M69.0 514.7V520.0M67.0 514.7h4M67.0 520.0h4M74.5 508.5V514.7M72.5 508.5h4M72.5 514.7h4M79.9 520.2V524.3M77.9 520.2h4M77.9 524.3h4M85.4 508.9V515.4M83.4 508.9h4M83.4 515.4h4M90.9 505.7V512.6M88.9 505.7h4M88.9 512.6h4M96.3 499.8V505.9M94.3 499.8h4M94.3 505.9h4M101.8 492.0V498.4M99.8 492.0h4M99.8 498.4h4M107.3 470.7V474.9M105.3 470.7h4M105.3 474.9h4M112.7 457.7V464.9M110.7 457.7h4M110.7 464.9h4M118.2 451.5V459.1M116.2 451.5h4M116.2 459.1h4M123.7 455.9V463.5M121.7 455.9h4M121.7 463.5h4M129.1 466.2V471.8M127.1 466.2h4M127.1 471.8h4M134.6 482.3V489.0M132.6 482.3h4M132.6 489.0h4M140.1 478.7V483.3M138.1 478.7h4M138.1 483.3h4M145.5 492.7V499.9M143.5 492.7h4M143.5 499.9h4M151.0 486.8V493.8M149.0 486.8h4M149.0 493.8h4M156.5 491.7V496.5M154.5 491.7h4M154.5 496.5h4M161.9 484.4V488.0M159.9 484.4h4M159.9 488.0h4M167.4 482.5V487.7M165.4 482.5h4M165.4 487.7h4M172.9 485.8V491.5M170.9 485.8h4M170.9 491.5h4M178.3 497.6V504.3M176.3 497.6h4M176.3 504.3h4M183.8 505.3V510.8M181.8 505.3h4M181.8 510.8h4M189.2 505.8V509.2M187.2 505.8h4M187.2 509.2h4M194.7 516.9V523.8M192.7 516.9h4M192.7 523.8h4M200.2 512.3V515.8M198.2 512.3h4M198.2 515.8h4M205.6 502.2V509.0M203.6 502.2h4M203.6 509.0h4M211.1 508.5V512.5M209.1 508.5h4M209.1 512.5h4M216.6 513.9V518.6M214.6 513.9h4M214.6 518.6h4M222.0 509.3V516.1M220.0 509.3h4M220.0 516.1h4M227.5 503.6V507.5M225.5 503.6h4M225.5 507.5h4M233.0 502.5V506.5M231.0 502.5h4M231.0 506.5h4M238.4 471.1V476.7M236.4 471.1h4M236.4 476.7h4M243.9 469.0V475.5M241.9 469.0h4M241.9 475.5h4M249.4 459.8V466.7M247.4 459.8h4M247.4 466.7h4M254.8 469.1V475.4M252.8 469.1h4M252.8 475.4h4M260.3 460.9V468.3M258.3 460.9h4M258.3 468.3h4M265.8 470.6V476.1M263.8 470.6h4M263.8 476.1h4M271.2 469.1V476.5M269.2 469.1h4M269.2 476.5h4M276.7 489.8V493.5M274.7 489.8h4M274.7 493.5h4M282.2 490.6V494.9M280.2 490.6h4M280.2 494.9h4M287.6 489.4V495.0M285.6 489.4h4M285.6 495.0h4M293.1 482.3V486.8M291.1 482.3h4M291.1 486.8h4M298.6 485.7V492.2M296.6 485.7h4M296.6 492.2h4M304.0 491.4V497.4M302.0 491.4h4M302.0 497.4h4M309.5 509.9V515.5M307.5 509.9h4M307.5 515.5h4M315.0 507.0V514.0M313.0 507.0h4M313.0 514.0h4M320.4 519.4V525.1M318.4 519.4h4M318.4 525.1h4M325.9 517.5V522.1M323.9 517.5h4M323.9 522.1h4M331.4 516.2V521.2M329.4 516.2h4M329.4 521.2h4M336.8 522.3V529.3M334.8 522.3h4M334.8 529.3h4M342.3 520.8V528.1M340.3 520.8h4M340.3 528.1h4M347.8 518.3V522.4M345.8 518.3h4M345.8 522.4h4M353.2 514.7V521.7M351.2 514.7h4M351.2 521.7h4M358.7 508.9V516.5M356.7 508.9h4M356.7 516.5h4M364.2 476.9V482.4M362.2 476.9h4M362.2 482.4h4M369.6 477.0V482.8M367.6 477.0h4M367.6 482.8h4M375.1 466.1V470.2M373.1 466.1h4M373.1 470.2h4M380.6 452.5V458.1M378.6 452.5h4M378.6 458.1h4M386.0 447.7V453.1M384.0 447.7h4M384.0 453.1h4M391.5 443.6V449.5M389.5 443.6h4M389.5 449.5h4M397.0 444.6V448.0M395.0 444.6h4M395.0 448.0h4M402.4 457.0V464.5M400.4 457.0h4M400.4 464.5h4M407.9 461.8V467.4M405.9 461.8h4M405.9 467.4h4M413.4 476.9V481.9M411.4 476.9h4M411.4 481.9h4M418.8 481.7V488.5M416.8 481.7h4M416.8 488.5h4M424.3 482.8V488.5M422.3 482.8h4M422.3 488.5h4M429.8 477.2V482.6M427.8 477.2h4M427.8 482.6h4M435.2 483.0V489.3M433.2 483.0h4M433.2 489.3h4M440.7 489.9V493.4M438.7 489.9h4M438.7 493.4h4M446.1 493.5V499.1M444.1 493.5h4M444.1 499.1h4M451.6 500.3V505.4M449.6 500.3h4M449.6 505.4h4M457.1 499.1V506.6M455.1 499.1h4M455.1 506.6h4M462.5 505.5V512.8M460.5 505.5h4M460.5 512.8h4M468.0 506.4V510.8M466.0 506.4h4M466.0 510.8h4M473.5 506.5V511.8M471.5 506.5h4M471.5 511.8h4M478.9 507.8V511.6M476.9 507.8h4M476.9 511.6h4M484.4 504.4V509.5M482.4 504.4h4M482.4 509.5h4M489.9 500.8V507.7M487.9 500.8h4M487.9 507.7h4M495.3 494.3V501.6M493.3 494.3h4M493.3 501.6h4M500.8 483.0V488.3M498.8 483.0h4M498.8 488.3h4M506.3 478.7V483.3M504.3 478.7h4M504.3 483.3h4M511.7 476.8V480.9M509.7 476.8h4M509.7 480.9h4" stroke="#1a1aff" stroke-width="1.2" fill="none"/>
<circle cx="41.7" cy="501.0" r="2.6" fill="#0000ff" />
<circle cx="47.1" cy="512.7" r="2.6" fill="#0000ff" />
<circle cx="52.6" cy="512.2" r="2.6" fill="#0000ff" />
<circle cx="58.1" cy="519.8" r="2.6" fill="#0000ff" />
<circle cx="63.5" cy="520.3" r="2.6" fill="#0000ff" />
<circle cx="69.0" cy="517.3" r="2.6" fill="#0000ff" />
<circle cx="74.5" cy="511.6" r="2.6" fill="#0000ff" />
<circle cx="79.9" cy="522.3" r="2.6" fill="#0000ff" />
<circle cx="85.4" cy="512.2" r="2.6" fill="#0000ff" />
<circle cx="90.9" cy="509.1" r="2.6" fill="#0000ff" />
<circle cx="96.3" cy="502.9" r="2.6" fill="#0000ff" />
<circle cx="101.8" cy="495.2" r="2.6" fill="#0000ff" />
<circle cx="107.3" cy="472.8" r="2.6" fill="#0000ff" />
<circle cx="112.7" cy="461.3" r="2.6" fill="#0000ff" />
<circle cx="118.2" cy="455.3" r="2.6" fill="#0000ff" />
<circle cx="123.7" cy="459.7" r="2.6" fill="#0000ff" />
<circle cx="129.1" cy="469.0" r="2.6" fill="#0000ff" />
<circle cx="134.6" cy="485.7" r="2.6" fill="#0000ff" />
<circle cx="140.1" cy="481.0" r="2.6" fill="#0000ff" />
<circle cx="145.5" cy="496.3" r="2.6" fill="#0000ff" />
<circle cx="151.0" cy="490.3" r="2.6" fill="#0000ff" />
<circle cx="156.5" cy="494.1" r="2.6" fill="#0000ff" />
<circle cx="161.9" cy="486.2" r="2.6" fill="#0000ff" />
<circle cx="167.4" cy="485.1" r="2.6" fill="#0000ff" />
<circle cx="172.9" cy="488.7" r="2.6" fill="#0000ff" />
<circle cx="178.3" cy="501.0" r="2.6" fill="#0000ff" />
<circle cx="183.8" cy="508.1" r="2.6" fill="#0000ff" />
<circle cx="189.2" cy="507.5" r="2.6" fill="#0000ff" />
<circle cx="194.7" cy="520.3" r="2.6" fill="#0000ff" />
<circle cx="200.2" cy="514.1" r="2.6" fill="#0000ff" />
<circle cx="205.6" cy="505.6" r="2.6" fill="#0000ff" />
<circle cx="211.1" cy="510.5" r="2.6" fill="#0000ff" />
<circle cx="216.6" cy="516.2" r="2.6" fill="#0000ff" />
<circle cx="222.0" cy="512.7" r="2.6" fill="#0000ff" />
<circle cx="227.5" cy="505.6" r="2.6" fill="#0000ff" />
<circle cx="233.0" cy="504.5" r="2.6" fill="#0000ff" />
<circle cx="238.4" cy="473.9" r="2.6" fill="#0000ff" />
<circle cx="243.9" cy="472.3" r="2.6" fill="#0000ff" />
<circle cx="249.4" cy="463.2" r="2.6" fill="#0000ff" />
<circle cx="254.8" cy="472.3" r="2.6" fill="#0000ff" />
<circle cx="260.3" cy="464.6" r="2.6" fill="#0000ff" />
<circle cx="265.8" cy="473.4" r="2.6" fill="#0000ff" />
<circle cx="271.2" cy="472.8" r="2.6" fill="#0000ff" />
<circle cx="276.7" cy="491.7" r="2.6" fill="#0000ff" />
<circle cx="282.2" cy="492.8" r="2.6" fill="#0000ff" />
<circle cx="287.6" cy="492.2" r="2.6" fill="#0000ff" />
<circle cx="293.1" cy="484.6" r="2.6" fill="#0000ff" />
<circle cx="298.6" cy="488.9" r="2.6" fill="#0000ff" />
<circle cx="304.0" cy="494.4" r="2.6" fill="#0000ff" />
<circle cx="309.5" cy="512.7" r="2.6" fill="#0000ff" />
<circle cx="315.0" cy="510.5" r="2.6" fill="#0000ff" />
<circle cx="320.4" cy="522.3" r="2.6" fill="#0000ff" />
<circle cx="325.9" cy="519.8" r="2.6" fill="#0000ff" />
<circle cx="331.4" cy="518.7" r="2.6" fill="#0000ff" />
<circle cx="336.8" cy="525.8" r="2.6" fill="#0000ff" />
<circle cx="342.3" cy="524.4" r="2.6" fill="#0000ff" />
<circle cx="347.8" cy="520.3" r="2.6" fill="#0000ff" />
<circle cx="353.2" cy="518.2" r="2.6" fill="#0000ff" />
<circle cx="358.7" cy="512.7" r="2.6" fill="#0000ff" />
<circle cx="364.2" cy="479.6" r="2.6" fill="#0000ff" />
<circle cx="369.6" cy="479.9" r="2.6" fill="#0000ff" />
<circle cx="375.1" cy="468.2" r="2.6" fill="#0000ff" />
<circle cx="380.6" cy="455.3" r="2.6" fill="#0000ff" />
<circle cx="386.0" cy="450.4" r="2.6" fill="#0000ff" />
<circle cx="391.5" cy="446.6" r="2.6" fill="#0000ff" />
<circle cx="397.0" cy="446.3" r="2.6" fill="#0000ff" />
<circle cx="402.4" cy="460.8" r="2.6" fill="#0000ff" />
<circle cx="407.9" cy="464.6" r="2.6" fill="#0000ff" />
<circle cx="413.4" cy="479.4" r="2.6" fill="#0000ff" />
<circle cx="418.8" cy="485.1" r="2.6" fill="#0000ff" />
<circle cx="424.3" cy="485.7" r="2.6" fill="#0000ff" />
<circle cx="429.8" cy="479.9" r="2.6" fill="#0000ff" />
<circle cx="435.2" cy="486.2" r="2.6" fill="#0000ff" />
<circle cx="440.7" cy="491.7" r="2.6" fill="#0000ff" />
<circle cx="446.1" cy="496.3" r="2.6" fill="#0000ff" />
<circle cx="451.6" cy="502.9" r="2.6" fill="#0000ff" />
<circle cx="457.1" cy="502.9" r="2.6" fill="#0000ff" />
<circle cx="462.5" cy="509.1" r="2.6" fill="#0000ff" />
<circle cx="468.0" cy="508.6" r="2.6" fill="#0000ff" />
<circle cx="473.5" cy="509.1" r="2.6" fill="#0000ff" />
<circle cx="478.9" cy="509.7" r="2.6" fill="#0000ff" />
<circle cx="484.4" cy="507.0" r="2.6" fill="#0000ff" />
<circle cx="489.9" cy="504.2" r="2.6" fill="#0000ff" />
<circle cx="495.3" cy="497.9" r="2.6" fill="#0000ff" />
<circle cx="500.8" cy="485.7" r="2.6" fill="#0000ff" />
<circle cx="506.3" cy="481.0" r="2.6" fill="#0000ff" />
<circle cx="511.7" cy="478.8" r="2.6" fill="#0000ff" />
<polyline points="41.7,498.8 47.1,505.6 52.6,509.1 58.1,515.7 63.5,510.5 69.0,507.5 74.5,509.7 79.9,512.7 85.4,514.6 90.9,513.2 96.3,511.1 101.8,504.5 107.3,485.7 112.7,466.8 118.2,462.2 123.7,476.9 129.1,483.5 134.6,479.4 140.1,486.2 145.5,494.9 151.0,492.8 156.5,490.3 161.9,483.5 167.4,481.0 172.9,496.3 178.3,505.6 183.8,514.1 189.2,509.1 194.7,515.2 200.2,514.1 205.6,511.1 211.1,515.7 216.6,512.7 222.0,515.2 227.5,512.7 233.0,507.0 238.4,483.5 243.9,476.4 249.4,469.3 254.8,473.9 260.3,473.9 265.8,482.1 271.2,485.7 276.7,489.2 282.2,495.2 287.6,490.3 293.1,482.1 298.6,486.5 304.0,505.6 309.5,505.6 315.0,515.2 320.4,516.2 325.9,514.1 331.4,514.6 336.8,517.3 342.3,519.8 347.8,515.7 353.2,515.7 358.7,514.1 364.2,485.7 369.6,498.8 375.1,495.2 380.6,494.9 386.0,492.5 391.5,491.1 397.0,491.7 402.4,497.9 407.9,501.5 413.4,502.0 418.8,502.0 424.3,492.5 429.8,482.1 435.2,489.7 440.7,504.5 446.1,507.0 451.6,505.6 457.1,508.1 462.5,511.1 468.0,507.0 473.5,508.6 478.9,508.1 484.4,504.0 489.9,497.9 495.3,490.3 500.8,476.4 506.3,472.5 511.7,470.4 517.2,465.2 522.7,463.2 528.1,469.8 533.6,485.7 539.1,496.9 544.5,495.8 550.0,483.5 555.5,482.6 560.9,481.0" fill="none" stroke="#ffaa66" stroke-width="1.2" stroke-linejoin="round" />
<path d="M41.7 496.1V501.5M39.7 496.1h4M39.7 501.5h4M47.1 502.3V508.9M45.1 502.3h4M45.1 508.9h4M52.6 507.0V511.3M50.6 507.0h4M50.6 511.3h4M58.1 512.2V519.2M56.1 512.2h4M56.1 519.2h4M63.5 508.3V512.7M61.5 508.3h4M61.5 512.7h4M69.0 504.5V510.5M67.0 504.5h4M67.0 510.5h4M74.5 507.2V512.2M72.5 507.2h4M72.5 512.2h4M79.9 510.4V515.0M77.9 510.4h4M77.9 515.0h4M85.4 511.5V517.7M83.4 511.5h4M83.4 517.7h4M90.9 510.4V516.1M88.9 510.4h4M88.9 516.1h4M96.3 508.3V513.8M94.3 508.3h4M94.3 513.8h4M101.8 501.7V507.3M99.8 501.7h4M99.8 507.3h4M107.3 482.6V488.7M105.3 482.6h4M105.3 488.7h4M112.7 464.5V469.1M110.7 464.5h4M110.7 469.1h4M118.2 459.8V464.5M116.2 459.8h4M116.2 464.5h4M123.7 473.6V480.2M121.7 473.6h4M121.7 480.2h4M129.1 480.2V486.8M127.1 480.2h4M127.1 486.8h4M134.6 476.3V482.4M132.6 476.3h4M132.6 482.4h4M140.1 482.4V490.0M138.1 482.4h4M138.1 490.0h4M145.5 491.7V498.2M143.5 491.7h4M143.5 498.2h4M151.0 489.0V496.5M149.0 489.0h4M149.0 496.5h4M156.5 487.9V492.7M154.5 487.9h4M154.5 492.7h4M161.9 479.9V487.0M159.9 479.9h4M159.9 487.0h4M167.4 477.3V484.7M165.4 477.3h4M165.4 484.7h4M172.9 492.4V500.2M170.9 492.4h4M170.9 500.2h4M178.3 503.0V508.2M176.3 503.0h4M176.3 508.2h4M183.8 511.5V516.7M181.8 511.5h4M181.8 516.7h4M189.2 505.2V513.1M187.2 505.2h4M187.2 513.1h4M194.7 512.8V517.5M192.7 512.8h4M192.7 517.5h4M200.2 510.0V518.2M198.2 510.0h4M198.2 518.2h4M205.6 507.2V514.9M203.6 507.2h4M203.6 514.9h4M211.1 513.5V517.9M209.1 513.5h4M209.1 517.9h4M216.6 510.3V515.1M214.6 510.3h4M214.6 515.1h4M222.0 511.7V518.7M220.0 511.7h4M220.0 518.7h4M227.5 510.2V515.2M225.5 510.2h4M225.5 515.2h4M233.0 504.8V509.1M231.0 504.8h4M231.0 509.1h4M238.4 479.7V487.2M236.4 479.7h4M236.4 487.2h4M243.9 473.5V479.2M241.9 473.5h4M241.9 479.2h4M249.4 465.6V472.9M247.4 465.6h4M247.4 472.9h4M254.8 471.7V476.1M252.8 471.7h4M252.8 476.1h4M260.3 471.1V476.7M258.3 471.1h4M258.3 476.7h4M265.8 478.7V485.5M263.8 478.7h4M263.8 485.5h4M271.2 483.7V487.6M269.2 483.7h4M269.2 487.6h4M276.7 486.9V491.6M274.7 486.9h4M274.7 491.6h4M282.2 491.8V498.6M280.2 491.8h4M280.2 498.6h4M287.6 486.4V494.2M285.6 486.4h4M285.6 494.2h4M293.1 478.1V486.1M291.1 478.1h4M291.1 486.1h4M298.6 484.3V488.6M296.6 484.3h4M296.6 488.6h4M304.0 502.6V508.6M302.0 502.6h4M302.0 508.6h4M309.5 502.0V509.2M307.5 502.0h4M307.5 509.2h4M315.0 512.1V518.2M313.0 512.1h4M313.0 518.2h4M320.4 512.8V519.7M318.4 512.8h4M318.4 519.7h4M325.9 511.7V516.4M323.9 511.7h4M323.9 516.4h4M331.4 512.5V516.7M329.4 512.5h4M329.4 516.7h4M336.8 515.2V519.5M334.8 515.2h4M334.8 519.5h4M342.3 517.8V521.8M340.3 517.8h4M340.3 521.8h4M347.8 512.6V518.8M345.8 512.6h4M345.8 518.8h4M353.2 512.7V518.7M351.2 512.7h4M351.2 518.7h4M358.7 510.9V517.2M356.7 510.9h4M356.7 517.2h4M364.2 483.4V487.9M362.2 483.4h4M362.2 487.9h4M369.6 491.1V506.5M367.6 491.1h4M367.6 506.5h4M375.1 487.4V503.0M373.1 487.4h4M373.1 503.0h4M380.6 484.2V505.7M378.6 484.2h4M378.6 505.7h4M386.0 481.1V503.9M384.0 481.1h4M384.0 503.9h4M391.5 480.0V502.2M389.5 480.0h4M389.5 502.2h4M397.0 484.4V498.9M395.0 484.4h4M395.0 498.9h4M402.4 490.8V505.1M400.4 490.8h4M400.4 505.1h4M407.9 490.2V512.7M405.9 490.2h4M405.9 512.7h4M413.4 493.1V511.0M411.4 493.1h4M411.4 511.0h4M418.8 491.7V512.4M416.8 491.7h4M416.8 512.4h4M424.3 489.9V495.1M422.3 489.9h4M422.3 495.1h4M429.8 479.2V485.0M427.8 479.2h4M427.8 485.0h4M435.2 486.7V492.8M433.2 486.7h4M433.2 492.8h4M440.7 501.6V507.4M438.7 501.6h4M438.7 507.4h4M446.1 503.7V510.2M444.1 503.7h4M444.1 510.2h4M451.6 503.7V507.5M449.6 503.7h4M449.6 507.5h4M457.1 504.6V511.5M455.1 504.6h4M455.1 511.5h4M462.5 507.3V514.8M460.5 507.3h4M460.5 514.8h4M468.0 504.7V509.3M466.0 504.7h4M466.0 509.3h4M473.5 505.7V511.5M471.5 505.7h4M471.5 511.5h4M478.9 504.5V511.6M476.9 504.5h4M476.9 511.6h4M484.4 501.2V506.8M482.4 501.2h4M482.4 506.8h4M489.9 495.6V500.3M487.9 495.6h4M487.9 500.3h4M495.3 488.0V492.6M493.3 488.0h4M493.3 492.6h4M500.8 473.3V479.4M498.8 473.3h4M498.8 479.4h4M506.3 470.6V474.5M504.3 470.6h4M504.3 474.5h4M511.7 466.5V474.2M509.7 466.5h4M509.7 474.2h4M517.2 461.5V468.8M515.2 461.5h4M515.2 468.8h4M522.7 459.8V466.7M520.7 459.8h4M520.7 466.7h4M528.1 466.0V473.6M526.1 466.0h4M526.1 473.6h4M533.6 482.4V488.9M531.6 482.4h4M531.6 488.9h4M539.1 494.1V499.6M537.1 494.1h4M537.1 499.6h4M544.5 492.5V499.0M542.5 492.5h4M542.5 499.0h4M550.0 480.5V486.5M548.0 480.5h4M548.0 486.5h4M555.5 478.6V486.7M553.5 478.6h4M553.5 486.7h4M560.9 477.3V484.7M558.9 477.3h4M558.9 484.7h4" stroke="#ff9030" stroke-width="1.2" fill="none"/>
<circle cx="41.7" cy="498.8" r="2.6" fill="#ff8010" />
<circle cx="47.1" cy="505.6" r="2.6" fill="#ff8010" />
<circle cx="52.6" cy="509.1" r="2.6" fill="#ff8010" />
<circle cx="58.1" cy="515.7" r="2.6" fill="#ff8010" />
<circle cx="63.5" cy="510.5" r="2.6" fill="#ff8010" />
<circle cx="69.0" cy="507.5" r="2.6" fill="#ff8010" />
<circle cx="74.5" cy="509.7" r="2.6" fill="#ff8010" />
<circle cx="79.9" cy="512.7" r="2.6" fill="#ff8010" />
<circle cx="85.4" cy="514.6" r="2.6" fill="#ff8010" />
<circle cx="90.9" cy="513.2" r="2.6" fill="#ff8010" />
<circle cx="96.3" cy="511.1" r="2.6" fill="#ff8010" />
<circle cx="101.8" cy="504.5" r="2.6" fill="#ff8010" />
<circle cx="107.3" cy="485.7" r="2.6" fill="#ff8010" />
<circle cx="112.7" cy="466.8" r="2.6" fill="#ff8010" />
<circle cx="118.2" cy="462.2" r="2.6" fill="#ff8010" />
<circle cx="123.7" cy="476.9" r="2.6" fill="#ff8010" />
<circle cx="129.1" cy="483.5" r="2.6" fill="#ff8010" />
<circle cx="134.6" cy="479.4" r="2.6" fill="#ff8010" />
<circle cx="140.1" cy="486.2" r="2.6" fill="#ff8010" />
<circle cx="145.5" cy="494.9" r="2.6" fill="#ff8010" />
<circle cx="151.0" cy="492.8" r="2.6" fill="#ff8010" />
<circle cx="156.5" cy="490.3" r="2.6" fill="#ff8010" />
<circle cx="161.9" cy="483.5" r="2.6" fill="#ff8010" />
<circle cx="167.4" cy="481.0" r="2.6" fill="#ff8010" />
<circle cx="172.9" cy="496.3" r="2.6" fill="#ff8010" />
<circle cx="178.3" cy="505.6" r="2.6" fill="#ff8010" />
<circle cx="183.8" cy="514.1" r="2.6" fill="#ff8010" />
<circle cx="189.2" cy="509.1" r="2.6" fill="#ff8010" />
<circle cx="194.7" cy="515.2" r="2.6" fill="#ff8010" />
<circle cx="200.2" cy="514.1" r="2.6" fill="#ff8010" />
<circle cx="205.6" cy="511.1" r="2.6" fill="#ff8010" />
<circle cx="211.1" cy="515.7" r="2.6" fill="#ff8010" />
<circle cx="216.6" cy="512.7" r="2.6" fill="#ff8010" />
<circle cx="222.0" cy="515.2" r="2.6" fill="#ff8010" />
<circle cx="227.5" cy="512.7" r="2.6" fill="#ff8010" />
<circle cx="233.0" cy="507.0" r="2.6" fill="#ff8010" />
<circle cx="238.4" cy="483.5" r="2.6" fill="#ff8010" />
<circle cx="243.9" cy="476.4" r="2.6" fill="#ff8010" />
<circle cx="249.4" cy="469.3" r="2.6" fill="#ff8010" />
<circle cx="254.8" cy="473.9" r="2.6" fill="#ff8010" />
<circle cx="260.3" cy="473.9" r="2.6" fill="#ff8010" />
<circle cx="265.8" cy="482.1" r="2.6" fill="#ff8010" />
<circle cx="271.2" cy="485.7" r="2.6" fill="#ff8010" />
<circle cx="276.7" cy="489.2" r="2.6" fill="#ff8010" />
<circle cx="282.2" cy="495.2" r="2.6" fill="#ff8010" />
<circle cx="287.6" cy="490.3" r="2.6" fill="#ff8010" />
<circle cx="293.1" cy="482.1" r="2.6" fill="#ff8010" />
<circle cx="298.6" cy="486.5" r="2.6" fill="#ff8010" />
<circle cx="304.0" cy="505.6" r="2.6" fill="#ff8010" />
<circle cx="309.5" cy="505.6" r="2.6" fill="#ff8010" />
<circle cx="315.0" cy="515.2" r="2.6" fill="#ff8010" />
<circle cx="320.4" cy="516.2" r="2.6" fill="#ff8010" />
<circle cx="325.9" cy="514.1" r="2.6" fill="#ff8010" />
<circle cx="331.4" cy="514.6" r="2.6" fill="#ff8010" />
<circle cx="336.8" cy="517.3" r="2.6" fill="#ff8010" />
<circle cx="342.3" cy="519.8" r="2.6" fill="#ff8010" />
<circle cx="347.8" cy="515.7" r="2.6" fill="#ff8010" />
<circle cx="353.2" cy="515.7" r="2.6" fill="#ff8010" />
<circle cx="358.7" cy="514.1" r="2.6" fill="#ff8010" />
<circle cx="364.2" cy="485.7" r="2.6" fill="#ff8010" />
<circle cx="369.6" cy="498.8" r="2.6" fill="#ff8010" />
<circle cx="375.1" cy="495.2" r="2.6" fill="#ff8010" />
<circle cx="380.6" cy="494.9" r="2.6" fill="#ff8010" />
<circle cx="386.0" cy="492.5" r="2.6" fill="#ff8010" />
<circle cx="391.5" cy="491.1" r="2.6" fill="#ff8010" />
<circle cx="397.0" cy="491.7" r="2.6" fill="#ff8010" />
<circle cx="402.4" cy="497.9" r="2.6" fill="#ff8010" />
<circle cx="407.9" cy="501.5" r="2.6" fill="#ff8010" />
<circle cx="413.4" cy="502.0" r="2.6" fill="#ff8010" />
<circle cx="418.8" cy="502.0" r="2.6" fill="#ff8010" />
<circle cx="424.3" cy="492.5" r="2.6" fill="#ff8010" />
<circle cx="429.8" cy="482.1" r="2.6" fill="#ff8010" />
<circle cx="435.2" cy="489.7" r="2.6" fill="#ff8010" />
<circle cx="440.7" cy="504.5" r="2.6" fill="#ff8010" />
<circle cx="446.1" cy="507.0" r="2.6" fill="#ff8010" />
<circle cx="451.6" cy="505.6" r="2.6" fill="#ff8010" />
<circle cx="457.1" cy="508.1" r="2.6" fill="#ff8010" />
<circle cx="462.5" cy="511.1" r="2.6" fill="#ff8010" />
<circle cx="468.0" cy="507.0" r="2.6" fill="#ff8010" />
<circle cx="473.5" cy="508.6" r="2.6" fill="#ff8010" />
<circle cx="478.9" cy="508.1" r="2.6" fill="#ff8010" />
<circle cx="484.4" cy="504.0" r="2.6" fill="#ff8010" />
<circle cx="489.9" cy="497.9" r="2.6" fill="#ff8010" />
<circle cx="495.3" cy="490.3" r="2.6" fill="#ff8010" />
<circle cx="500.8" cy="476.4" r="2.6" fill="#ff8010" />
<circle cx="506.3" cy="472.5" r="2.6" fill="#ff8010" />
<circle cx="511.7" cy="470.4" r="2.6" fill="#ff8010" />
<circle cx="517.2" cy="465.2" r="2.6" fill="#ff8010" />
<circle cx="522.7" cy="463.2" r="2.6" fill="#ff8010" />
<circle cx="528.1" cy="469.8" r="2.6" fill="#ff8010" />
<circle cx="533.6" cy="485.7" r="2.6" fill="#ff8010" />
<circle cx="539.1" cy="496.9" r="2.6" fill="#ff8010" />
<circle cx="544.5" cy="495.8" r="2.6" fill="#ff8010" />
<circle cx="550.0" cy="483.5" r="2.6" fill="#ff8010" />
<circle cx="555.5" cy="482.6" r="2.6" fill="#ff8010" />
<circle cx="560.9" cy="481.0" r="2.6" fill="#ff8010" />
<polyline points="41.7,500.4 47.1,511.1 52.6,512.7 58.1,511.6 63.5,514.1 69.0,513.2 74.5,508.3 79.9,514.6 85.4,513.0 90.9,508.1 96.3,509.1 101.8,499.9 107.3,488.1 112.7,477.2 118.2,465.2 123.7,464.6 129.1,478.5 134.6,486.2 140.1,470.1 145.5,484.3 151.0,496.3 156.5,482.6 161.9,486.2 167.4,487.0 172.9,495.5 178.3,507.5 183.8,507.0 189.2,515.7 194.7,507.0 200.2,515.2 205.6,512.2 211.1,508.1 216.6,514.6 222.0,511.6 227.5,508.3 233.0,502.9 238.4,481.6 243.9,475.0 249.4,469.5 254.8,475.8 260.3,468.2 265.8,470.9 271.2,484.0 276.7,497.4 282.2,491.7 287.6,489.7 293.1,488.7 298.6,478.8 304.0,507.0 309.5,510.5 315.0,511.6 320.4,520.3 325.9,515.7 331.4,519.8 336.8,519.8 342.3,516.2 347.8,514.6 353.2,514.1 358.7,511.1 364.2,478.5 369.6,488.7 375.1,472.8 380.6,465.2 386.0,464.6 391.5,466.8 397.0,479.6 402.4,478.5 407.9,486.2 413.4,490.3 418.8,491.9 424.3,481.8 429.8,492.8 435.2,495.8 440.7,512.7 446.1,514.6 451.6,511.1 457.1,518.2 462.5,510.5 468.0,508.3 473.5,514.1 478.9,511.1 484.4,510.5 489.9,509.1 495.3,507.5 500.8,488.1 506.3,477.5 511.7,470.6 517.2,468.7 522.7,463.5 528.1,465.7 533.6,491.4 539.1,499.3 544.5,482.6 550.0,491.4 555.5,478.0 560.9,480.2" fill="none" stroke="#30ec30" stroke-width="1.5" stroke-linejoin="round" />
<path d="M41.7 496.6V504.2M39.7 496.6h4M39.7 504.2h4M47.1 504.6V517.5M45.1 504.6h4M45.1 517.5h4M52.6 506.9V518.5M50.6 506.9h4M50.6 518.5h4M58.1 505.7V517.5M56.1 505.7h4M56.1 517.5h4M63.5 508.0V520.1M61.5 508.0h4M61.5 520.1h4M69.0 508.8V517.6M67.0 508.8h4M67.0 517.6h4M74.5 501.9V514.7M72.5 501.9h4M72.5 514.7h4M79.9 508.3V520.9M77.9 508.3h4M77.9 520.9h4M85.4 507.4V518.6M83.4 507.4h4M83.4 518.6h4M90.9 502.2V513.9M88.9 502.2h4M88.9 513.9h4M96.3 503.3V515.0M94.3 503.3h4M94.3 515.0h4M101.8 495.5V504.3M99.8 495.5h4M99.8 504.3h4M107.3 482.4V493.8M105.3 482.4h4M105.3 493.8h4M112.7 474.2V480.2M110.7 474.2h4M110.7 480.2h4M118.2 461.0V469.3M116.2 461.0h4M116.2 469.3h4M123.7 460.0V469.3M121.7 460.0h4M121.7 469.3h4M129.1 475.8V481.3M127.1 475.8h4M127.1 481.3h4M134.6 482.0V490.4M132.6 482.0h4M132.6 490.4h4M140.1 464.7V475.4M138.1 464.7h4M138.1 475.4h4M145.5 479.0V489.6M143.5 479.0h4M143.5 489.6h4M151.0 492.6V500.0M149.0 492.6h4M149.0 500.0h4M156.5 476.0V489.2M154.5 476.0h4M154.5 489.2h4M161.9 480.7V491.7M159.9 480.7h4M159.9 491.7h4M167.4 482.9V491.1M165.4 482.9h4M165.4 491.1h4M172.9 490.1V500.9M170.9 490.1h4M170.9 500.9h4M178.3 502.4V512.6M176.3 502.4h4M176.3 512.6h4M183.8 502.0V511.9M181.8 502.0h4M181.8 511.9h4M189.2 511.4V520.0M187.2 511.4h4M187.2 520.0h4M194.7 500.1V513.8M192.7 500.1h4M192.7 513.8h4M200.2 509.8V520.5M198.2 509.8h4M198.2 520.5h4M205.6 506.5V517.8M203.6 506.5h4M203.6 517.8h4M211.1 502.2V513.9M209.1 502.2h4M209.1 513.9h4M216.6 507.9V521.4M214.6 507.9h4M214.6 521.4h4M222.0 508.8V514.4M220.0 508.8h4M220.0 514.4h4M227.5 503.1V513.6M225.5 503.1h4M225.5 513.6h4M233.0 497.1V508.6M231.0 497.1h4M231.0 508.6h4M238.4 477.8V485.3M236.4 477.8h4M236.4 485.3h4M243.9 470.6V479.4M241.9 470.6h4M241.9 479.4h4M249.4 466.6V472.5M247.4 466.6h4M247.4 472.5h4M254.8 472.3V479.3M252.8 472.3h4M252.8 479.3h4M260.3 463.9V472.4M258.3 463.9h4M258.3 472.4h4M265.8 467.8V474.0M263.8 467.8h4M263.8 474.0h4M271.2 480.3V487.8M269.2 480.3h4M269.2 487.8h4M276.7 491.0V503.8M274.7 491.0h4M274.7 503.8h4M282.2 486.7V496.6M280.2 486.7h4M280.2 496.6h4M287.6 484.9V494.6M285.6 484.9h4M285.6 494.6h4M293.1 482.0V495.4M291.1 482.0h4M291.1 495.4h4M298.6 473.8V483.9M296.6 473.8h4M296.6 483.9h4M304.0 500.2V513.8M302.0 500.2h4M302.0 513.8h4M309.5 505.2V515.9M307.5 505.2h4M307.5 515.9h4M315.0 505.6V517.7M313.0 505.6h4M313.0 517.7h4M320.4 517.3V523.4M318.4 517.3h4M318.4 523.4h4M325.9 510.5V520.9M323.9 510.5h4M323.9 520.9h4M331.4 514.0V525.6M329.4 514.0h4M329.4 525.6h4M336.8 516.9V522.7M334.8 516.9h4M334.8 522.7h4M342.3 509.7V522.8M340.3 509.7h4M340.3 522.8h4M347.8 511.2V518.0M345.8 511.2h4M345.8 518.0h4M353.2 509.4V518.7M351.2 509.4h4M351.2 518.7h4M358.7 507.6V514.5M356.7 507.6h4M356.7 514.5h4M364.2 473.8V483.3M362.2 473.8h4M362.2 483.3h4M369.6 483.4V493.9M367.6 483.4h4M367.6 493.9h4M375.1 469.8V475.8M373.1 469.8h4M373.1 475.8h4M380.6 458.6V471.8M378.6 458.6h4M378.6 471.8h4M386.0 460.2V469.1M384.0 460.2h4M384.0 469.1h4M391.5 461.9V471.7M389.5 461.9h4M389.5 471.7h4M397.0 474.5V484.8M395.0 474.5h4M395.0 484.8h4M402.4 474.3V482.8M400.4 474.3h4M400.4 482.8h4M407.9 482.3V490.1M405.9 482.3h4M405.9 490.1h4M413.4 484.9V495.7M411.4 484.9h4M411.4 495.7h4M418.8 486.9V497.0M416.8 486.9h4M416.8 497.0h4M424.3 477.9V485.7M422.3 477.9h4M422.3 485.7h4M429.8 487.1V498.4M427.8 487.1h4M427.8 498.4h4M435.2 491.8V499.7M433.2 491.8h4M433.2 499.7h4M440.7 509.9V515.5M438.7 509.9h4M438.7 515.5h4M446.1 510.9V518.3M444.1 510.9h4M444.1 518.3h4M451.6 508.2V514.0M449.6 508.2h4M449.6 514.0h4M457.1 514.8V521.5M455.1 514.8h4M455.1 521.5h4M462.5 504.7V516.3M460.5 504.7h4M460.5 516.3h4M468.0 504.0V512.7M466.0 504.0h4M466.0 512.7h4M473.5 507.7V520.5M471.5 507.7h4M471.5 520.5h4M478.9 505.3V516.9M476.9 505.3h4M476.9 516.9h4M484.4 507.6V513.4M482.4 507.6h4M482.4 513.4h4M489.9 502.4V515.9M487.9 502.4h4M487.9 515.9h4M495.3 500.9V514.1M493.3 500.9h4M493.3 514.1h4M500.8 485.1V491.1M498.8 485.1h4M498.8 491.1h4M506.3 471.0V483.9M504.3 471.0h4M504.3 483.9h4M511.7 466.1V475.1M509.7 466.1h4M509.7 475.1h4M517.2 464.0V473.4M515.2 464.0h4M515.2 473.4h4M522.7 456.8V470.2M520.7 456.8h4M520.7 470.2h4M528.1 462.0V469.4M526.1 462.0h4M526.1 469.4h4M533.6 486.5V496.3M531.6 486.5h4M531.6 496.3h4M539.1 492.7V505.9M537.1 492.7h4M537.1 505.9h4M544.5 477.0V488.3M542.5 477.0h4M542.5 488.3h4M550.0 486.7V496.0M548.0 486.7h4M548.0 496.0h4M555.5 471.3V484.7M553.5 471.3h4M553.5 484.7h4M560.9 474.1V486.3M558.9 474.1h4M558.9 486.3h4" stroke="#28c828" stroke-width="1.2" fill="none"/>
<circle cx="41.7" cy="500.4" r="2.6" fill="#12b012" />
<circle cx="47.1" cy="511.1" r="2.6" fill="#12b012" />
<circle cx="52.6" cy="512.7" r="2.6" fill="#12b012" />
<circle cx="58.1" cy="511.6" r="2.6" fill="#12b012" />
<circle cx="63.5" cy="514.1" r="2.6" fill="#12b012" />
<circle cx="69.0" cy="513.2" r="2.6" fill="#12b012" />
<circle cx="74.5" cy="508.3" r="2.6" fill="#12b012" />
<circle cx="79.9" cy="514.6" r="2.6" fill="#12b012" />
<circle cx="85.4" cy="513.0" r="2.6" fill="#12b012" />
<circle cx="90.9" cy="508.1" r="2.6" fill="#12b012" />
<circle cx="96.3" cy="509.1" r="2.6" fill="#12b012" />
<circle cx="101.8" cy="499.9" r="2.6" fill="#12b012" />
<circle cx="107.3" cy="488.1" r="2.6" fill="#12b012" />
<circle cx="112.7" cy="477.2" r="2.6" fill="#12b012" />
<circle cx="118.2" cy="465.2" r="2.6" fill="#12b012" />
<circle cx="123.7" cy="464.6" r="2.6" fill="#12b012" />
<circle cx="129.1" cy="478.5" r="2.6" fill="#12b012" />
<circle cx="134.6" cy="486.2" r="2.6" fill="#12b012" />
<circle cx="140.1" cy="470.1" r="2.6" fill="#12b012" />
<circle cx="145.5" cy="484.3" r="2.6" fill="#12b012" />
<circle cx="151.0" cy="496.3" r="2.6" fill="#12b012" />
<circle cx="156.5" cy="482.6" r="2.6" fill="#12b012" />
<circle cx="161.9" cy="486.2" r="2.6" fill="#12b012" />
<circle cx="167.4" cy="487.0" r="2.6" fill="#12b012" />
<circle cx="172.9" cy="495.5" r="2.6" fill="#12b012" />
<circle cx="178.3" cy="507.5" r="2.6" fill="#12b012" />
<circle cx="183.8" cy="507.0" r="2.6" fill="#12b012" />
<circle cx="189.2" cy="515.7" r="2.6" fill="#12b012" />
<circle cx="194.7" cy="507.0" r="2.6" fill="#12b012" />
<circle cx="200.2" cy="515.2" r="2.6" fill="#12b012" />
<circle cx="205.6" cy="512.2" r="2.6" fill="#12b012" />
<circle cx="211.1" cy="508.1" r="2.6" fill="#12b012" />
<circle cx="216.6" cy="514.6" r="2.6" fill="#12b012" />
<circle cx="222.0" cy="511.6" r="2.6" fill="#12b012" />
<circle cx="227.5" cy="508.3" r="2.6" fill="#12b012" />
<circle cx="233.0" cy="502.9" r="2.6" fill="#12b012" />
<circle cx="238.4" cy="481.6" r="2.6" fill="#12b012" />
<circle cx="243.9" cy="475.0" r="2.6" fill="#12b012" />
<circle cx="249.4" cy="469.5" r="2.6" fill="#12b012" />
<circle cx="254.8" cy="475.8" r="2.6" fill="#12b012" />
<circle cx="260.3" cy="468.2" r="2.6" fill="#12b012" />
<circle cx="265.8" cy="470.9" r="2.6" fill="#12b012" />
<circle cx="271.2" cy="484.0" r="2.6" fill="#12b012" />
<circle cx="276.7" cy="497.4" r="2.6" fill="#12b012" />
<circle cx="282.2" cy="491.7" r="2.6" fill="#12b012" />
<circle cx="287.6" cy="489.7" r="2.6" fill="#12b012" />
<circle cx="293.1" cy="488.7" r="2.6" fill="#12b012" />
<circle cx="298.6" cy="478.8" r="2.6" fill="#12b012" />
<circle cx="304.0" cy="507.0" r="2.6" fill="#12b012" />
<circle cx="309.5" cy="510.5" r="2.6" fill="#12b012" />
<circle cx="315.0" cy="511.6" r="2.6" fill="#12b012" />
<circle cx="320.4" cy="520.3" r="2.6" fill="#12b012" />
<circle cx="325.9" cy="515.7" r="2.6" fill="#12b012" />
<circle cx="331.4" cy="519.8" r="2.6" fill="#12b012" />
<circle cx="336.8" cy="519.8" r="2.6" fill="#12b012" />
<circle cx="342.3" cy="516.2" r="2.6" fill="#12b012" />
<circle cx="347.8" cy="514.6" r="2.6" fill="#12b012" />
<circle cx="353.2" cy="514.1" r="2.6" fill="#12b012" />
<circle cx="358.7" cy="511.1" r="2.6" fill="#12b012" />
<circle cx="364.2" cy="478.5" r="2.6" fill="#12b012" />
<circle cx="369.6" cy="488.7" r="2.6" fill="#12b012" />
<circle cx="375.1" cy="472.8" r="2.6" fill="#12b012" />
<circle cx="380.6" cy="465.2" r="2.6" fill="#12b012" />
<circle cx="386.0" cy="464.6" r="2.6" fill="#12b012" />
<circle cx="391.5" cy="466.8" r="2.6" fill="#12b012" />
<circle cx="397.0" cy="479.6" r="2.6" fill="#12b012" />
<circle cx="402.4" cy="478.5" r="2.6" fill="#12b012" />
<circle cx="407.9" cy="486.2" r="2.6" fill="#12b012" />
<circle cx="413.4" cy="490.3" r="2.6" fill="#12b012" />
<circle cx="418.8" cy="491.9" r="2.6" fill="#12b012" />
<circle cx="424.3" cy="481.8" r="2.6" fill="#12b012" />
<circle cx="429.8" cy="492.8" r="2.6" fill="#12b012" />
<circle cx="435.2" cy="495.8" r="2.6" fill="#12b012" />
<circle cx="440.7" cy="512.7" r="2.6" fill="#12b012" />
<circle cx="446.1" cy="514.6" r="2.6" fill="#12b012" />
<circle cx="451.6" cy="511.1" r="2.6" fill="#12b012" />
<circle cx="457.1" cy="518.2" r="2.6" fill="#12b012" />
<circle cx="462.5" cy="510.5" r="2.6" fill="#12b012" />
<circle cx="468.0" cy="508.3" r="2.6" fill="#12b012" />
<circle cx="473.5" cy="514.1" r="2.6" fill="#12b012" />
<circle cx="478.9" cy="511.1" r="2.6" fill="#12b012" />
<circle cx="484.4" cy="510.5" r="2.6" fill="#12b012" />
<circle cx="489.9" cy="509.1" r="2.6" fill="#12b012" />
<circle cx="495.3" cy="507.5" r="2.6" fill="#12b012" />
<circle cx="500.8" cy="488.1" r="2.6" fill="#12b012" />
<circle cx="506.3" cy="477.5" r="2.6" fill="#12b012" />
<circle cx="511.7" cy="470.6" r="2.6" fill="#12b012" />
<circle cx="517.2" cy="468.7" r="2.6" fill="#12b012" />
<circle cx="522.7" cy="463.5" r="2.6" fill="#12b012" />
<circle cx="528.1" cy="465.7" r="2.6" fill="#12b012" />
<circle cx="533.6" cy="491.4" r="2.6" fill="#12b012" />
<circle cx="539.1" cy="499.3" r="2.6" fill="#12b012" />
<circle cx="544.5" cy="482.6" r="2.6" fill="#12b012" />
<circle cx="550.0" cy="491.4" r="2.6" fill="#12b012" />
<circle cx="555.5" cy="478.0" r="2.6" fill="#12b012" />
<circle cx="560.9" cy="480.2" r="2.6" fill="#12b012" />
<text transform="translate(1.20,584.80) scale(1.05,1)" font-size="17" fill="#231f20" stroke="#231f20" stroke-width="0.12">d</text>
<text transform="translate(101.30,586.06) scale(0.96,1)" font-size="9.66" fill="#231f20" stroke="#231f20" stroke-width="0.12" text-anchor="middle" >Stress day (ZT13-15)</text>
<line x1="35.0" y1="589.9" x2="167.3" y2="589.9" stroke="#2b1d1d" stroke-width="1.6" />
<line x1="35.6" y1="615.3" x2="35.6" y2="724.6" stroke="#151213" stroke-width="1.3" />
<line x1="35.6" y1="724.6" x2="166.8" y2="724.6" stroke="#151213" stroke-width="1.3" />
<line x1="30.2" y1="724.6" x2="35.6" y2="724.6" stroke="#151213" stroke-width="1.3" />
<text transform="translate(27.20,728.06) scale(0.96,1)" font-size="9.66" fill="#231f20" stroke="#231f20" stroke-width="0.12" text-anchor="end" >0</text>
<line x1="30.2" y1="702.9" x2="35.6" y2="702.9" stroke="#151213" stroke-width="1.3" />
<text transform="translate(27.20,706.32) scale(0.96,1)" font-size="9.66" fill="#231f20" stroke="#231f20" stroke-width="0.12" text-anchor="end" >20</text>
<line x1="30.2" y1="681.1" x2="35.6" y2="681.1" stroke="#151213" stroke-width="1.3" />
<text transform="translate(27.20,684.58) scale(0.96,1)" font-size="9.66" fill="#231f20" stroke="#231f20" stroke-width="0.12" text-anchor="end" >40</text>
<line x1="30.2" y1="659.4" x2="35.6" y2="659.4" stroke="#151213" stroke-width="1.3" />
<text transform="translate(27.20,662.84) scale(0.96,1)" font-size="9.66" fill="#231f20" stroke="#231f20" stroke-width="0.12" text-anchor="end" >60</text>
<line x1="30.2" y1="637.6" x2="35.6" y2="637.6" stroke="#151213" stroke-width="1.3" />
<text transform="translate(27.20,641.10) scale(0.96,1)" font-size="9.66" fill="#231f20" stroke="#231f20" stroke-width="0.12" text-anchor="end" >80</text>
<line x1="30.2" y1="615.9" x2="35.6" y2="615.9" stroke="#151213" stroke-width="1.3" />
<text transform="translate(27.20,619.36) scale(0.96,1)" font-size="9.66" fill="#231f20" stroke="#231f20" stroke-width="0.12" text-anchor="end" >100</text>
<line x1="61.4" y1="724.6" x2="61.4" y2="730.2" stroke="#151213" stroke-width="1.3" />
<line x1="101.1" y1="724.6" x2="101.1" y2="730.2" stroke="#151213" stroke-width="1.3" />
<line x1="140.6" y1="724.6" x2="140.6" y2="730.2" stroke="#151213" stroke-width="1.3" />
<text transform="translate(61.40,739.96) scale(0.96,1)" font-size="9.66" fill="#231f20" stroke="#231f20" stroke-width="0.12" text-anchor="middle" >Control</text>
<text transform="translate(101.10,739.96) scale(0.96,1)" font-size="9.66" fill="#231f20" stroke="#231f20" stroke-width="0.12" text-anchor="middle" >Stress</text>
<text transform="translate(140.60,739.96) scale(0.96,1)" font-size="9.66" fill="#231f20" stroke="#231f20" stroke-width="0.12" text-anchor="middle" >Stress +</text>
<text transform="translate(140.60,748.56) scale(0.96,1)" font-size="9.66" fill="#231f20" stroke="#231f20" stroke-width="0.12" text-anchor="middle" >Sleep dep</text>
<text transform="translate(8.90,670.50) rotate(-90) scale(0.96,1)" font-size="9.66" fill="#231f20" stroke="#231f20" stroke-width="0.12" text-anchor="middle">Active periods (%)</text>
<circle cx="61.4" cy="633.2" r="2.4" fill="#14b814" />
<circle cx="61.4" cy="638.7" r="2.4" fill="#14b814" />
<circle cx="61.4" cy="645.0" r="2.4" fill="#14b814" />
<circle cx="61.4" cy="650.9" r="2.4" fill="#14b814" />
<circle cx="61.4" cy="656.9" r="2.4" fill="#14b814" />
<circle cx="61.4" cy="670.6" r="2.4" fill="#14b814" />
<line x1="48.5" y1="649.2" x2="74.5" y2="649.2" stroke="#22cc22" stroke-width="1.4" />
<line x1="61.4" y1="643.5" x2="61.4" y2="654.7" stroke="#22cc22" stroke-width="1.4" />
<line x1="55.2" y1="643.5" x2="67.9" y2="643.5" stroke="#22cc22" stroke-width="1.4" />
<line x1="55.2" y1="654.7" x2="67.9" y2="654.7" stroke="#22cc22" stroke-width="1.4" />
<circle cx="101.1" cy="652.6" r="2.4" fill="#ff8010" />
<circle cx="90.3" cy="671.4" r="2.4" fill="#ff8010" />
<circle cx="97.5" cy="669.3" r="2.4" fill="#ff8010" />
<circle cx="104.5" cy="673.3" r="2.4" fill="#ff8010" />
<circle cx="111.7" cy="672.1" r="2.4" fill="#ff8010" />
<circle cx="104.5" cy="677.8" r="2.4" fill="#ff8010" />
<circle cx="97.5" cy="679.7" r="2.4" fill="#ff8010" />
<circle cx="90.3" cy="692.4" r="2.4" fill="#ff8010" />
<circle cx="104.5" cy="690.1" r="2.4" fill="#ff8010" />
<circle cx="111.7" cy="688.6" r="2.4" fill="#ff8010" />
<circle cx="90.3" cy="697.9" r="2.4" fill="#ff8010" />
<circle cx="104.5" cy="694.5" r="2.4" fill="#ff8010" />
<circle cx="111.7" cy="694.5" r="2.4" fill="#ff8010" />
<line x1="88.0" y1="681.2" x2="114.0" y2="681.2" stroke="#ff8a1c" stroke-width="1.4" />
<line x1="101.1" y1="677.8" x2="101.1" y2="684.8" stroke="#ff8a1c" stroke-width="1.4" />
<line x1="94.7" y1="677.8" x2="107.6" y2="677.8" stroke="#ff8a1c" stroke-width="1.4" />
<line x1="94.7" y1="684.8" x2="107.6" y2="684.8" stroke="#ff8a1c" stroke-width="1.4" />
<circle cx="129.2" cy="619.5" r="2.4" fill="#0000f0" />
<circle cx="134.9" cy="617.7" r="2.4" fill="#0000f0" />
<circle cx="137.7" cy="616.1" r="2.4" fill="#0000f0" />
<circle cx="140.2" cy="615.6" r="2.4" fill="#0000f0" />
<circle cx="140.6" cy="620.9" r="2.4" fill="#0000f0" />
<circle cx="142.9" cy="617.1" r="2.4" fill="#0000f0" />
<circle cx="145.3" cy="619.5" r="2.4" fill="#0000f0" />
<circle cx="148.6" cy="618.4" r="2.4" fill="#0000f0" />
<circle cx="151.6" cy="619.9" r="2.4" fill="#0000f0" />
<polyline points="61.4,622.8 61.4,614.2 101.1,614.2 101.1,643.3" fill="none" stroke="#5a5050" stroke-width="1.1" stroke-linejoin="round" stroke-linejoin="miter"/>
<polygon points="73.60,606.30 74.60,608.52 77.02,608.79 75.22,610.43 75.72,612.81 73.60,611.60 71.48,612.81 71.98,610.43 70.18,608.79 72.60,608.52" fill="#231f20" />
<polygon points="80.80,606.30 81.80,608.52 84.22,608.79 82.42,610.43 82.92,612.81 80.80,611.60 78.68,612.81 79.18,610.43 77.38,608.79 79.80,608.52" fill="#231f20" />
<polygon points="88.00,606.30 89.00,608.52 91.42,608.79 89.62,610.43 90.12,612.81 88.00,611.60 85.88,612.81 86.38,610.43 84.58,608.79 87.00,608.52" fill="#231f20" />
<text transform="translate(285.70,586.06) scale(0.96,1)" font-size="9.66" fill="#231f20" stroke="#231f20" stroke-width="0.12" text-anchor="middle" >Stress day (ZT13-15)</text>
<line x1="220.0" y1="590.2" x2="351.4" y2="590.2" stroke="#2b1d1d" stroke-width="1.6" />
<line x1="220.0" y1="614.8" x2="220.0" y2="724.3" stroke="#151213" stroke-width="1.3" />
<line x1="220.0" y1="724.3" x2="351.4" y2="724.3" stroke="#151213" stroke-width="1.3" />
<line x1="214.6" y1="715.9" x2="220.0" y2="715.9" stroke="#151213" stroke-width="1.3" />
<text transform="translate(211.60,719.36) scale(0.96,1)" font-size="9.66" fill="#231f20" stroke="#231f20" stroke-width="0.12" text-anchor="end" >33</text>
<line x1="214.6" y1="699.1" x2="220.0" y2="699.1" stroke="#151213" stroke-width="1.3" />
<text transform="translate(211.60,702.61) scale(0.96,1)" font-size="9.66" fill="#231f20" stroke="#231f20" stroke-width="0.12" text-anchor="end" >34</text>
<line x1="214.6" y1="682.4" x2="220.0" y2="682.4" stroke="#151213" stroke-width="1.3" />
<text transform="translate(211.60,685.86) scale(0.96,1)" font-size="9.66" fill="#231f20" stroke="#231f20" stroke-width="0.12" text-anchor="end" >35</text>
<line x1="214.6" y1="665.6" x2="220.0" y2="665.6" stroke="#151213" stroke-width="1.3" />
<text transform="translate(211.60,669.11) scale(0.96,1)" font-size="9.66" fill="#231f20" stroke="#231f20" stroke-width="0.12" text-anchor="end" >36</text>
<line x1="214.6" y1="648.9" x2="220.0" y2="648.9" stroke="#151213" stroke-width="1.3" />
<text transform="translate(211.60,652.36) scale(0.96,1)" font-size="9.66" fill="#231f20" stroke="#231f20" stroke-width="0.12" text-anchor="end" >37</text>
<line x1="214.6" y1="632.1" x2="220.0" y2="632.1" stroke="#151213" stroke-width="1.3" />
<text transform="translate(211.60,635.61) scale(0.96,1)" font-size="9.66" fill="#231f20" stroke="#231f20" stroke-width="0.12" text-anchor="end" >38</text>
<line x1="214.6" y1="615.4" x2="220.0" y2="615.4" stroke="#151213" stroke-width="1.3" />
<text transform="translate(211.60,618.86) scale(0.96,1)" font-size="9.66" fill="#231f20" stroke="#231f20" stroke-width="0.12" text-anchor="end" >39</text>
<line x1="246.3" y1="724.3" x2="246.3" y2="729.9" stroke="#151213" stroke-width="1.3" />
<line x1="285.7" y1="724.3" x2="285.7" y2="729.9" stroke="#151213" stroke-width="1.3" />
<line x1="325.1" y1="724.3" x2="325.1" y2="729.9" stroke="#151213" stroke-width="1.3" />
<text transform="translate(246.30,739.96) scale(0.96,1)" font-size="9.66" fill="#231f20" stroke="#231f20" stroke-width="0.12" text-anchor="middle" >Control</text>
<text transform="translate(285.70,739.96) scale(0.96,1)" font-size="9.66" fill="#231f20" stroke="#231f20" stroke-width="0.12" text-anchor="middle" >Stress</text>
<text transform="translate(325.10,739.96) scale(0.96,1)" font-size="9.66" fill="#231f20" stroke="#231f20" stroke-width="0.12" text-anchor="middle" >Stress +</text>
<text transform="translate(325.10,748.56) scale(0.96,1)" font-size="9.66" fill="#231f20" stroke="#231f20" stroke-width="0.12" text-anchor="middle" >Sleep dep</text>
<text transform="translate(192.60,669.00) rotate(-90) scale(0.96,1)" font-size="9.66" fill="#231f20" stroke="#231f20" stroke-width="0.12" text-anchor="middle">Body temperature (°C)</text>
<circle cx="235.4" cy="636.4" r="2.4" fill="#14b814" />
<circle cx="246.3" cy="638.3" r="2.4" fill="#14b814" />
<circle cx="257.3" cy="637.1" r="2.4" fill="#14b814" />
<circle cx="235.4" cy="645.3" r="2.4" fill="#14b814" />
<circle cx="246.3" cy="644.7" r="2.4" fill="#14b814" />
<circle cx="257.3" cy="644.7" r="2.4" fill="#14b814" />
<line x1="233.2" y1="641.1" x2="259.5" y2="641.1" stroke="#22cc22" stroke-width="1.4" />
<line x1="241.1" y1="639.6" x2="252.5" y2="639.6" stroke="#22cc22" stroke-width="1.2" />
<line x1="241.1" y1="642.4" x2="252.5" y2="642.4" stroke="#22cc22" stroke-width="1.2" />
<circle cx="283.5" cy="644.3" r="2.4" fill="#ff8010" />
<circle cx="288.6" cy="643.8" r="2.4" fill="#ff8010" />
<circle cx="292.8" cy="644.0" r="2.4" fill="#ff8010" />
<circle cx="274.7" cy="657.6" r="2.4" fill="#ff8010" />
<circle cx="280.0" cy="653.5" r="2.4" fill="#ff8010" />
<circle cx="283.5" cy="657.3" r="2.4" fill="#ff8010" />
<circle cx="285.4" cy="664.3" r="2.4" fill="#ff8010" />
<circle cx="288.6" cy="652.9" r="2.4" fill="#ff8010" />
<circle cx="291.8" cy="651.0" r="2.4" fill="#ff8010" />
<circle cx="291.8" cy="656.7" r="2.4" fill="#ff8010" />
<circle cx="296.7" cy="654.8" r="2.4" fill="#ff8010" />
<circle cx="282.0" cy="651.9" r="2.4" fill="#ff8010" />
<circle cx="286.7" cy="653.8" r="2.4" fill="#ff8010" />
<line x1="272.4" y1="652.5" x2="298.5" y2="652.5" stroke="#ff8a1c" stroke-width="1.4" />
<circle cx="285.4" cy="715.1" r="2.3" fill="#a0a0a0" />
<polygon points="290.90,711.80 296.60,704.10 297.10,708.30 300.10,710.50" fill="#231f20" />
<circle cx="325.0" cy="621.6" r="2.4" fill="#0000f0" />
<circle cx="325.0" cy="629.7" r="2.4" fill="#0000f0" />
<circle cx="336.0" cy="631.4" r="2.4" fill="#0000f0" />
<circle cx="325.0" cy="634.9" r="2.4" fill="#0000f0" />
<circle cx="336.4" cy="636.8" r="2.4" fill="#0000f0" />
<circle cx="314.2" cy="640.9" r="2.4" fill="#0000f0" />
<circle cx="325.0" cy="641.5" r="2.4" fill="#0000f0" />
<circle cx="336.4" cy="641.5" r="2.4" fill="#0000f0" />
<circle cx="325.0" cy="650.0" r="2.4" fill="#0000f0" />
<line x1="311.9" y1="636.4" x2="338.9" y2="636.4" stroke="#1a1aff" stroke-width="1.4" />
<line x1="325.1" y1="633.9" x2="325.1" y2="639.0" stroke="#1a1aff" stroke-width="1.4" />
<line x1="319.9" y1="633.9" x2="331.3" y2="633.9" stroke="#1a1aff" stroke-width="1.4" />
<line x1="319.9" y1="639.0" x2="331.3" y2="639.0" stroke="#1a1aff" stroke-width="1.4" />
<polyline points="245.9,609.8 245.9,603.5 324.6,603.5 324.6,609.8" fill="none" stroke="#5a5050" stroke-width="1.1" stroke-linejoin="round" stroke-linejoin="miter"/>
<text transform="translate(285.40,602.26) scale(0.96,1)" font-size="9.66" fill="#231f20" stroke="#231f20" stroke-width="0.12" text-anchor="middle" >ns</text>
<polyline points="245.9,617.8 245.9,612.7 283.5,612.7 283.5,630.7" fill="none" stroke="#5a5050" stroke-width="1.1" stroke-linejoin="round" stroke-linejoin="miter"/>
<polygon points="262.80,605.50 263.80,607.72 266.22,607.99 264.42,609.63 264.92,612.01 262.80,610.80 260.68,612.01 261.18,609.63 259.38,607.99 261.80,607.72" fill="#231f20" />
<polygon points="270.00,605.50 271.00,607.72 273.42,607.99 271.62,609.63 272.12,612.01 270.00,610.80 267.88,612.01 268.38,609.63 266.58,607.99 269.00,607.72" fill="#231f20" />
<polyline points="287.3,630.7 287.3,612.7 324.6,612.7 324.6,617.8" fill="none" stroke="#5a5050" stroke-width="1.1" stroke-linejoin="round" stroke-linejoin="miter"/>
<polygon points="297.50,605.50 298.50,607.72 300.92,607.99 299.12,609.63 299.62,612.01 297.50,610.80 295.38,612.01 295.88,609.63 294.08,607.99 296.50,607.72" fill="#231f20" />
<polygon points="304.70,605.50 305.70,607.72 308.12,607.99 306.32,609.63 306.82,612.01 304.70,610.80 302.58,612.01 303.08,609.63 301.28,607.99 303.70,607.72" fill="#231f20" />
<polygon points="311.90,605.50 312.90,607.72 315.32,607.99 313.52,609.63 314.02,612.01 311.90,610.80 309.78,612.01 310.28,609.63 308.48,607.99 310.90,607.72" fill="#231f20" />
<text transform="translate(375.40,584.60) scale(1.22,1)" font-size="17.5" fill="#231f20" stroke="#231f20" stroke-width="0.12">e</text>
<line x1="413.3" y1="614.2" x2="413.3" y2="724.6" stroke="#151213" stroke-width="1.3" />
<line x1="413.3" y1="724.6" x2="522.7" y2="724.6" stroke="#151213" stroke-width="1.3" />
<line x1="404.7" y1="715.8" x2="413.3" y2="715.8" stroke="#151213" stroke-width="1.3" />
<text transform="translate(401.90,719.26) scale(0.96,1)" font-size="9.66" fill="#231f20" stroke="#231f20" stroke-width="0.12" text-anchor="end" >33</text>
<line x1="404.7" y1="699.0" x2="413.3" y2="699.0" stroke="#151213" stroke-width="1.3" />
<text transform="translate(401.90,702.43) scale(0.96,1)" font-size="9.66" fill="#231f20" stroke="#231f20" stroke-width="0.12" text-anchor="end" >34</text>
<line x1="404.7" y1="682.1" x2="413.3" y2="682.1" stroke="#151213" stroke-width="1.3" />
<text transform="translate(401.90,685.60) scale(0.96,1)" font-size="9.66" fill="#231f20" stroke="#231f20" stroke-width="0.12" text-anchor="end" >35</text>
<line x1="404.7" y1="665.3" x2="413.3" y2="665.3" stroke="#151213" stroke-width="1.3" />
<text transform="translate(401.90,668.77) scale(0.96,1)" font-size="9.66" fill="#231f20" stroke="#231f20" stroke-width="0.12" text-anchor="end" >36</text>
<line x1="404.7" y1="648.5" x2="413.3" y2="648.5" stroke="#151213" stroke-width="1.3" />
<text transform="translate(401.90,651.94) scale(0.96,1)" font-size="9.66" fill="#231f20" stroke="#231f20" stroke-width="0.12" text-anchor="end" >37</text>
<line x1="404.7" y1="631.6" x2="413.3" y2="631.6" stroke="#151213" stroke-width="1.3" />
<text transform="translate(401.90,635.11) scale(0.96,1)" font-size="9.66" fill="#231f20" stroke="#231f20" stroke-width="0.12" text-anchor="end" >38</text>
<line x1="404.7" y1="614.8" x2="413.3" y2="614.8" stroke="#151213" stroke-width="1.3" />
<text transform="translate(401.90,618.28) scale(0.96,1)" font-size="9.66" fill="#231f20" stroke="#231f20" stroke-width="0.12" text-anchor="end" >39</text>
<line x1="413.3" y1="724.6" x2="413.3" y2="733.0" stroke="#151213" stroke-width="1.3" />
<text transform="translate(413.30,746.06) scale(0.96,1)" font-size="9.66" fill="#231f20" stroke="#231f20" stroke-width="0.12" text-anchor="middle" >0</text>
<line x1="435.1" y1="724.6" x2="435.1" y2="733.0" stroke="#151213" stroke-width="1.3" />
<text transform="translate(435.06,746.06) scale(0.96,1)" font-size="9.66" fill="#231f20" stroke="#231f20" stroke-width="0.12" text-anchor="middle" >20</text>
<line x1="456.8" y1="724.6" x2="456.8" y2="733.0" stroke="#151213" stroke-width="1.3" />
<text transform="translate(456.82,746.06) scale(0.96,1)" font-size="9.66" fill="#231f20" stroke="#231f20" stroke-width="0.12" text-anchor="middle" >40</text>
<line x1="478.6" y1="724.6" x2="478.6" y2="733.0" stroke="#151213" stroke-width="1.3" />
<text transform="translate(478.58,746.06) scale(0.96,1)" font-size="9.66" fill="#231f20" stroke="#231f20" stroke-width="0.12" text-anchor="middle" >60</text>
<line x1="500.3" y1="724.6" x2="500.3" y2="733.0" stroke="#151213" stroke-width="1.3" />
<text transform="translate(500.34,746.06) scale(0.96,1)" font-size="9.66" fill="#231f20" stroke="#231f20" stroke-width="0.12" text-anchor="middle" >80</text>
<line x1="522.1" y1="724.6" x2="522.1" y2="733.0" stroke="#151213" stroke-width="1.3" />
<text transform="translate(522.10,746.06) scale(0.96,1)" font-size="9.66" fill="#231f20" stroke="#231f20" stroke-width="0.12" text-anchor="middle" >100</text>
<text transform="translate(467.80,758.36) scale(0.96,1)" font-size="9.66" fill="#231f20" stroke="#231f20" stroke-width="0.12" text-anchor="middle" >Active periods (%)</text>
<text transform="translate(382.20,669.00) rotate(-90) scale(0.96,1)" font-size="9.66" fill="#231f20" stroke="#231f20" stroke-width="0.12" text-anchor="middle">Body temperature (°C)</text>
<line x1="450.3" y1="651.2" x2="484.5" y2="637.0" stroke="#f89a48" stroke-width="1.1" stroke-dasharray="1.3,1.6"/>
<line x1="439.9" y1="663.6" x2="484.5" y2="652.2" stroke="#f89a48" stroke-width="1.1" stroke-dasharray="1.3,1.6"/>
<line x1="447.4" y1="655.0" x2="477.8" y2="645.5" stroke="#f89a48" stroke-width="1.1" />
<line x1="467.4" y1="640.8" x2="503.4" y2="632.3" stroke="#44dd44" stroke-width="1.1" stroke-dasharray="1.3,1.6"/>
<line x1="470.2" y1="649.3" x2="503.4" y2="640.8" stroke="#44dd44" stroke-width="1.1" stroke-dasharray="1.3,1.6"/>
<line x1="467.4" y1="645.5" x2="504.4" y2="636.1" stroke="#44dd44" stroke-width="1.1" />
<circle cx="439.9" cy="650.9" r="2.4" fill="#f89a48" />
<circle cx="448.0" cy="651.6" r="2.4" fill="#f89a48" />
<circle cx="442.7" cy="656.9" r="2.4" fill="#f89a48" />
<circle cx="445.5" cy="656.9" r="2.4" fill="#f89a48" />
<circle cx="449.3" cy="663.2" r="2.4" fill="#f89a48" />
<circle cx="457.9" cy="654.1" r="2.4" fill="#f89a48" />
<circle cx="460.4" cy="656.0" r="2.4" fill="#f89a48" />
<circle cx="464.5" cy="653.1" r="2.4" fill="#f89a48" />
<circle cx="468.7" cy="653.7" r="2.4" fill="#f89a48" />
<circle cx="465.5" cy="643.3" r="2.4" fill="#f89a48" />
<circle cx="484.8" cy="643.3" r="2.4" fill="#f89a48" />
<circle cx="467.4" cy="644.6" r="2.4" fill="#14b814" />
<circle cx="480.7" cy="645.2" r="2.4" fill="#14b814" />
<circle cx="487.3" cy="644.2" r="2.4" fill="#14b814" />
<circle cx="493.0" cy="638.3" r="2.4" fill="#14b814" />
<circle cx="499.1" cy="636.1" r="2.4" fill="#14b814" />
<circle cx="504.8" cy="637.0" r="2.4" fill="#14b814" />
<circle cx="521.5" cy="621.3" r="2.4" fill="#0000f0" />
<circle cx="518.0" cy="629.4" r="2.4" fill="#0000f0" />
<circle cx="521.8" cy="630.9" r="2.4" fill="#0000f0" />
<circle cx="519.9" cy="634.2" r="2.4" fill="#0000f0" />
<circle cx="519.9" cy="636.6" r="2.4" fill="#0000f0" />
<circle cx="517.1" cy="640.8" r="2.4" fill="#0000f0" />
<circle cx="520.5" cy="642.1" r="2.4" fill="#0000f0" />
<circle cx="518.0" cy="649.7" r="2.4" fill="#0000f0" />
<circle cx="443.3" cy="714.8" r="2.3" fill="#a0a0a0" />
<polygon points="448.40,712.40 453.90,704.90 454.40,709.00 457.60,711.00" fill="#231f20" />
<line x1="539.4" y1="615.3" x2="562.3" y2="615.3" stroke="#33dd33" stroke-width="1.3" />
<circle cx="550.8" cy="615.3" r="2.4" fill="#14b814" />
<text transform="translate(566.60,618.76) scale(0.96,1)" font-size="9.66" fill="#22bb22" stroke="#22bb22" stroke-width="0.12" text-anchor="start" >Control</text>
<line x1="539.4" y1="630.4" x2="562.3" y2="630.4" stroke="#ffbb88" stroke-width="1.3" />
<circle cx="550.8" cy="630.4" r="2.4" fill="#f89a48" />
<text transform="translate(566.60,633.86) scale(0.96,1)" font-size="9.66" fill="#f99a46" stroke="#f99a46" stroke-width="0.12" text-anchor="start" >Stress</text>
<circle cx="550.8" cy="645.5" r="2.4" fill="#a8a8a8" />
<text transform="translate(566.60,648.96) scale(0.96,1)" font-size="9.66" fill="#b0b0b0" stroke="#b0b0b0" stroke-width="0.12" text-anchor="start" >Stress hypothermic mouse</text>
<line x1="539.4" y1="660.1" x2="562.3" y2="660.1" stroke="#7c7cff" stroke-width="1.3" />
<circle cx="550.8" cy="660.1" r="2.4" fill="#0000f0" />
<text transform="translate(566.60,663.56) scale(0.96,1)" font-size="9.66" fill="#1a1ae6" stroke="#1a1ae6" stroke-width="0.12" text-anchor="start" >Stress + Sleep dep</text>
<text transform="translate(1.00,791.20) scale(1.05,1)" font-size="17" fill="#231f20" stroke="#231f20" stroke-width="0.12">f</text>
<line x1="48.5" y1="803.7" x2="157.0" y2="803.7" stroke="#2b1d1d" stroke-width="1.6" />
<text transform="translate(102.75,800.16) scale(0.96,1)" font-size="9.66" fill="#231f20" stroke="#231f20" stroke-width="0.12" text-anchor="middle" >Baseline day</text>
<line x1="178.4" y1="803.7" x2="288.8" y2="803.7" stroke="#2b1d1d" stroke-width="1.6" />
<text transform="translate(233.60,800.16) scale(0.96,1)" font-size="9.66" fill="#231f20" stroke="#231f20" stroke-width="0.12" text-anchor="middle" >Prestress day</text>
<line x1="310.0" y1="803.7" x2="418.8" y2="803.7" stroke="#2b1d1d" stroke-width="1.6" />
<text transform="translate(364.40,800.16) scale(0.96,1)" font-size="9.66" fill="#231f20" stroke="#231f20" stroke-width="0.12" text-anchor="middle" >Stress day</text>
<line x1="440.8" y1="803.7" x2="549.8" y2="803.7" stroke="#2b1d1d" stroke-width="1.6" />
<text transform="translate(495.30,800.16) scale(0.96,1)" font-size="9.66" fill="#231f20" stroke="#231f20" stroke-width="0.12" text-anchor="middle" >Poststress day</text>
<text transform="translate(240.70,814.46) scale(0.96,1)" font-size="9.66" fill="#29a1dc" stroke="#29a1dc" stroke-width="0.12" text-anchor="middle" >Habituation</text>
<polygon points="235.65,816.80 245.95,816.80 240.80,833.50" fill="#29a1dc" />
<text transform="translate(380.10,814.46) scale(0.96,1)" font-size="9.66" fill="#1a1ae6" stroke="#1a1ae6" stroke-width="0.12" text-anchor="middle" >Sleep deprivation</text>
<rect x="363.60" y="817.20" width="32.70" height="6.20" fill="#0000ee" stroke="none" stroke-width="0" />
<text transform="translate(354.20,836.66) scale(0.96,1)" font-size="9.66" fill="#f7a052" stroke="#f7a052" stroke-width="0.12" text-anchor="end" >Stress</text>
<polygon points="356.10,825.40 365.70,825.40 360.90,842.50" fill="#ff8a1c" />
<text transform="translate(503.60,814.56) scale(0.96,1)" font-size="9.66" fill="#22d822" stroke="#22d822" stroke-width="0.12" text-anchor="middle" >Social interaction test</text>
<polygon points="498.60,816.70 509.00,816.70 503.80,834.50" fill="#10b010" />
<text transform="translate(578.20,799.76) scale(0.96,1)" font-size="9.66" fill="#231f20" stroke="#231f20" stroke-width="0.12" text-anchor="start" >Individual plot</text>
<line x1="578.2" y1="812.6" x2="601.6" y2="812.6" stroke="#22ee22" stroke-width="1.5" />
<text transform="translate(606.00,816.06) scale(0.96,1)" font-size="9.66" fill="#22cc22" stroke="#22cc22" stroke-width="0.12" text-anchor="start" >Control</text>
<line x1="578.2" y1="827.1" x2="601.6" y2="827.1" stroke="#f7a860" stroke-width="1.5" />
<text transform="translate(606.00,830.56) scale(0.96,1)" font-size="9.66" fill="#f79a45" stroke="#f79a45" stroke-width="0.12" text-anchor="start" >Stress</text>
<line x1="578.2" y1="841.6" x2="601.6" y2="841.6" stroke="#6464f0" stroke-width="1.5" />
<text transform="translate(606.00,845.06) scale(0.96,1)" font-size="9.66" fill="#1a1ae6" stroke="#1a1ae6" stroke-width="0.12" text-anchor="start" >Stress + Sleep dep</text>
<rect x="36.20" y="938.60" width="65.59" height="6.80" fill="#fdea8e" stroke="none" stroke-width="0" />
<rect x="101.79" y="938.60" width="65.59" height="6.80" fill="#a3a3a3" stroke="none" stroke-width="0" />
<rect x="167.38" y="938.60" width="65.59" height="6.80" fill="#fdea8e" stroke="none" stroke-width="0" />
<rect x="232.98" y="938.60" width="65.59" height="6.80" fill="#a3a3a3" stroke="none" stroke-width="0" />
<rect x="298.57" y="938.60" width="65.59" height="6.80" fill="#fdea8e" stroke="none" stroke-width="0" />
<rect x="364.16" y="938.60" width="65.59" height="6.80" fill="#a3a3a3" stroke="none" stroke-width="0" />
<rect x="429.75" y="938.60" width="65.59" height="6.80" fill="#fdea8e" stroke="none" stroke-width="0" />
<rect x="495.34" y="938.60" width="65.59" height="6.80" fill="#a3a3a3" stroke="none" stroke-width="0" />
<line x1="101.8" y1="836.2" x2="101.8" y2="938.6" stroke="#444444" stroke-width="1.1" stroke-dasharray="1.2,1.5"/>
<line x1="233.0" y1="836.2" x2="233.0" y2="938.6" stroke="#444444" stroke-width="1.1" stroke-dasharray="1.2,1.5"/>
<line x1="364.2" y1="836.2" x2="364.2" y2="938.6" stroke="#444444" stroke-width="1.1" stroke-dasharray="1.2,1.5"/>
<line x1="495.3" y1="836.2" x2="495.3" y2="938.6" stroke="#444444" stroke-width="1.1" stroke-dasharray="1.2,1.5"/>
<line x1="167.4" y1="836.2" x2="167.4" y2="938.6" stroke="#8a8a8a" stroke-width="1.1" />
<line x1="298.6" y1="836.2" x2="298.6" y2="938.6" stroke="#8a8a8a" stroke-width="1.1" />
<line x1="429.8" y1="836.2" x2="429.8" y2="938.6" stroke="#8a8a8a" stroke-width="1.1" />
<line x1="36.2" y1="835.6" x2="36.2" y2="946.0" stroke="#151213" stroke-width="1.3" />
<line x1="35.6" y1="945.4" x2="561.5" y2="945.4" stroke="#151213" stroke-width="1.3" />
<line x1="30.8" y1="945.4" x2="36.2" y2="945.4" stroke="#151213" stroke-width="1.3" />
<text transform="translate(27.80,948.86) scale(0.96,1)" font-size="9.66" fill="#231f20" stroke="#231f20" stroke-width="0.12" text-anchor="end" >0</text>
<line x1="30.8" y1="923.6" x2="36.2" y2="923.6" stroke="#151213" stroke-width="1.3" />
<text transform="translate(27.80,927.02) scale(0.96,1)" font-size="9.66" fill="#231f20" stroke="#231f20" stroke-width="0.12" text-anchor="end" >20</text>
<line x1="30.8" y1="901.7" x2="36.2" y2="901.7" stroke="#151213" stroke-width="1.3" />
<text transform="translate(27.80,905.18) scale(0.96,1)" font-size="9.66" fill="#231f20" stroke="#231f20" stroke-width="0.12" text-anchor="end" >40</text>
<line x1="30.8" y1="879.9" x2="36.2" y2="879.9" stroke="#151213" stroke-width="1.3" />
<text transform="translate(27.80,883.34) scale(0.96,1)" font-size="9.66" fill="#231f20" stroke="#231f20" stroke-width="0.12" text-anchor="end" >60</text>
<line x1="30.8" y1="858.0" x2="36.2" y2="858.0" stroke="#151213" stroke-width="1.3" />
<text transform="translate(27.80,861.50) scale(0.96,1)" font-size="9.66" fill="#231f20" stroke="#231f20" stroke-width="0.12" text-anchor="end" >80</text>
<line x1="30.8" y1="836.2" x2="36.2" y2="836.2" stroke="#151213" stroke-width="1.3" />
<text transform="translate(27.80,839.66) scale(0.96,1)" font-size="9.66" fill="#231f20" stroke="#231f20" stroke-width="0.12" text-anchor="end" >100</text>
<line x1="36.2" y1="945.4" x2="36.2" y2="951.0" stroke="#151213" stroke-width="1.3" />
<text transform="translate(36.20,961.66) scale(0.96,1)" font-size="9.66" fill="#231f20" stroke="#231f20" stroke-width="0.12" text-anchor="middle" >0</text>
<line x1="58.1" y1="945.4" x2="58.1" y2="951.0" stroke="#151213" stroke-width="1.3" />
<text transform="translate(58.06,961.66) scale(0.96,1)" font-size="9.66" fill="#231f20" stroke="#231f20" stroke-width="0.12" text-anchor="middle" >4</text>
<line x1="79.9" y1="945.4" x2="79.9" y2="951.0" stroke="#151213" stroke-width="1.3" />
<text transform="translate(79.93,961.66) scale(0.96,1)" font-size="9.66" fill="#231f20" stroke="#231f20" stroke-width="0.12" text-anchor="middle" >8</text>
<line x1="101.8" y1="945.4" x2="101.8" y2="951.0" stroke="#151213" stroke-width="1.3" />
<text transform="translate(101.79,961.66) scale(0.96,1)" font-size="9.66" fill="#231f20" stroke="#231f20" stroke-width="0.12" text-anchor="middle" >12</text>
<line x1="123.7" y1="945.4" x2="123.7" y2="951.0" stroke="#151213" stroke-width="1.3" />
<text transform="translate(123.66,961.66) scale(0.96,1)" font-size="9.66" fill="#231f20" stroke="#231f20" stroke-width="0.12" text-anchor="middle" >16</text>
<line x1="145.5" y1="945.4" x2="145.5" y2="951.0" stroke="#151213" stroke-width="1.3" />
<text transform="translate(145.52,961.66) scale(0.96,1)" font-size="9.66" fill="#231f20" stroke="#231f20" stroke-width="0.12" text-anchor="middle" >20</text>
<line x1="167.4" y1="945.4" x2="167.4" y2="951.0" stroke="#151213" stroke-width="1.3" />
<text transform="translate(167.38,961.66) scale(0.96,1)" font-size="9.66" fill="#231f20" stroke="#231f20" stroke-width="0.12" text-anchor="middle" >24</text>
<line x1="189.2" y1="945.4" x2="189.2" y2="951.0" stroke="#151213" stroke-width="1.3" />
<text transform="translate(189.25,961.66) scale(0.96,1)" font-size="9.66" fill="#231f20" stroke="#231f20" stroke-width="0.12" text-anchor="middle" >4</text>
<line x1="211.1" y1="945.4" x2="211.1" y2="951.0" stroke="#151213" stroke-width="1.3" />
<text transform="translate(211.11,961.66) scale(0.96,1)" font-size="9.66" fill="#231f20" stroke="#231f20" stroke-width="0.12" text-anchor="middle" >8</text>
<line x1="233.0" y1="945.4" x2="233.0" y2="951.0" stroke="#151213" stroke-width="1.3" />
<text transform="translate(232.98,961.66) scale(0.96,1)" font-size="9.66" fill="#231f20" stroke="#231f20" stroke-width="0.12" text-anchor="middle" >12</text>
<line x1="254.8" y1="945.4" x2="254.8" y2="951.0" stroke="#151213" stroke-width="1.3" />
<text transform="translate(254.84,961.66) scale(0.96,1)" font-size="9.66" fill="#231f20" stroke="#231f20" stroke-width="0.12" text-anchor="middle" >16</text>
<line x1="276.7" y1="945.4" x2="276.7" y2="951.0" stroke="#151213" stroke-width="1.3" />
<text transform="translate(276.70,961.66) scale(0.96,1)" font-size="9.66" fill="#231f20" stroke="#231f20" stroke-width="0.12" text-anchor="middle" >20</text>
<line x1="298.6" y1="945.4" x2="298.6" y2="951.0" stroke="#151213" stroke-width="1.3" />
<text transform="translate(298.57,961.66) scale(0.96,1)" font-size="9.66" fill="#231f20" stroke="#231f20" stroke-width="0.12" text-anchor="middle" >24</text>
<line x1="320.4" y1="945.4" x2="320.4" y2="951.0" stroke="#151213" stroke-width="1.3" />
<text transform="translate(320.43,961.66) scale(0.96,1)" font-size="9.66" fill="#231f20" stroke="#231f20" stroke-width="0.12" text-anchor="middle" >4</text>
<line x1="342.3" y1="945.4" x2="342.3" y2="951.0" stroke="#151213" stroke-width="1.3" />
<text transform="translate(342.30,961.66) scale(0.96,1)" font-size="9.66" fill="#231f20" stroke="#231f20" stroke-width="0.12" text-anchor="middle" >8</text>
<line x1="364.2" y1="945.4" x2="364.2" y2="951.0" stroke="#151213" stroke-width="1.3" />
<text transform="translate(364.16,961.66) scale(0.96,1)" font-size="9.66" fill="#231f20" stroke="#231f20" stroke-width="0.12" text-anchor="middle" >12</text>
<line x1="386.0" y1="945.4" x2="386.0" y2="951.0" stroke="#151213" stroke-width="1.3" />
<text transform="translate(386.02,961.66) scale(0.96,1)" font-size="9.66" fill="#231f20" stroke="#231f20" stroke-width="0.12" text-anchor="middle" >16</text>
<line x1="407.9" y1="945.4" x2="407.9" y2="951.0" stroke="#151213" stroke-width="1.3" />
<text transform="translate(407.89,961.66) scale(0.96,1)" font-size="9.66" fill="#231f20" stroke="#231f20" stroke-width="0.12" text-anchor="middle" >20</text>
<line x1="429.8" y1="945.4" x2="429.8" y2="951.0" stroke="#151213" stroke-width="1.3" />
<text transform="translate(429.75,961.66) scale(0.96,1)" font-size="9.66" fill="#231f20" stroke="#231f20" stroke-width="0.12" text-anchor="middle" >24</text>
<line x1="451.6" y1="945.4" x2="451.6" y2="951.0" stroke="#151213" stroke-width="1.3" />
<text transform="translate(451.62,961.66) scale(0.96,1)" font-size="9.66" fill="#231f20" stroke="#231f20" stroke-width="0.12" text-anchor="middle" >4</text>
<line x1="473.5" y1="945.4" x2="473.5" y2="951.0" stroke="#151213" stroke-width="1.3" />
<text transform="translate(473.48,961.66) scale(0.96,1)" font-size="9.66" fill="#231f20" stroke="#231f20" stroke-width="0.12" text-anchor="middle" >8</text>
<line x1="495.3" y1="945.4" x2="495.3" y2="951.0" stroke="#151213" stroke-width="1.3" />
<text transform="translate(495.34,961.66) scale(0.96,1)" font-size="9.66" fill="#231f20" stroke="#231f20" stroke-width="0.12" text-anchor="middle" >12</text>
<line x1="517.2" y1="945.4" x2="517.2" y2="951.0" stroke="#151213" stroke-width="1.3" />
<text transform="translate(517.21,961.66) scale(0.96,1)" font-size="9.66" fill="#231f20" stroke="#231f20" stroke-width="0.12" text-anchor="middle" >16</text>
<line x1="539.1" y1="945.4" x2="539.1" y2="951.0" stroke="#151213" stroke-width="1.3" />
<text transform="translate(539.07,961.66) scale(0.96,1)" font-size="9.66" fill="#231f20" stroke="#231f20" stroke-width="0.12" text-anchor="middle" >20</text>
<line x1="560.9" y1="945.4" x2="560.9" y2="951.0" stroke="#151213" stroke-width="1.3" />
<text transform="translate(560.94,961.66) scale(0.96,1)" font-size="9.66" fill="#231f20" stroke="#231f20" stroke-width="0.12" text-anchor="middle" >24</text>
<text transform="translate(300.90,973.86) scale(0.96,1)" font-size="9.66" fill="#231f20" stroke="#231f20" stroke-width="0.12" text-anchor="middle" >Time (ZT)</text>
<text transform="translate(8.90,890.50) rotate(-90) scale(0.96,1)" font-size="9.66" fill="#231f20" stroke="#231f20" stroke-width="0.12" text-anchor="middle">Active periods (%)</text>
<polyline points="41.7,909.0 47.1,856.3 52.6,914.8 58.1,941.6 63.5,919.5 69.0,919.2 74.5,892.3 79.9,938.2 85.4,858.0 90.9,900.2 96.3,836.2 101.8,862.9 107.3,855.5 112.7,836.2 118.2,836.2 123.7,858.9 129.1,850.9 134.6,895.6 140.1,850.8 145.5,912.1 151.0,883.2 156.5,915.3 161.9,867.8 167.4,841.9 172.9,842.8 178.3,914.7 183.8,939.0 189.2,899.4 194.7,935.9 200.2,931.4 205.6,887.2 211.1,935.3 216.6,908.6 222.0,884.5 227.5,907.3 233.0,928.8 238.4,860.4 243.9,836.2 249.4,851.3 254.8,846.3 260.3,863.8 265.8,868.9 271.2,862.3 276.7,896.9 282.2,890.5 287.6,879.9 293.1,846.2 298.6,883.1 304.0,919.8 309.5,922.7 315.0,930.4 320.4,938.1 325.9,916.8 331.4,930.6 336.8,903.6 342.3,929.2 347.8,941.9 353.2,915.7 358.7,908.0 364.2,842.4 369.6,839.1 375.1,836.9 380.6,836.2 386.0,836.2 391.5,838.6 397.0,838.0 402.4,907.4 407.9,883.6 413.4,938.9 418.8,911.6 424.3,892.3 429.8,872.9 435.2,941.2 440.7,887.0 446.1,922.0 451.6,915.0 457.1,918.1 462.5,886.4 468.0,927.1 473.5,925.3 478.9,923.4 484.4,938.5 489.9,931.2 495.3,919.7 500.8,874.9 506.3,881.2 511.7,836.2" fill="none" stroke="#5858f4" stroke-width="1.15" stroke-linejoin="round" />
<polyline points="41.7,868.6 47.1,903.2 52.6,894.2 58.1,886.1 63.5,891.1 69.0,908.1 74.5,917.0 79.9,926.5 85.4,872.2 90.9,910.5 96.3,904.1 101.8,928.5 107.3,891.2 112.7,873.4 118.2,845.2 123.7,847.1 129.1,879.9 134.6,887.8 140.1,844.6 145.5,927.0 151.0,907.9 156.5,929.7 161.9,836.2 167.4,884.2 172.9,840.3 178.3,879.5 183.8,921.2 189.2,899.2 194.7,925.4 200.2,907.6 205.6,895.9 211.1,898.8 216.6,909.0 222.0,923.8 227.5,895.8 233.0,924.9 238.4,876.9 243.9,875.2 249.4,871.9 254.8,902.5 260.3,892.2 265.8,855.5 271.2,847.2 276.7,914.7 282.2,865.5 287.6,901.1 293.1,902.0 298.6,913.0 304.0,881.6 309.5,906.6 315.0,903.1 320.4,885.3 325.9,888.6 331.4,916.1 336.8,940.0 342.3,931.1 347.8,931.3 353.2,930.8 358.7,935.4 364.2,857.9 369.6,843.2 375.1,839.9 380.6,837.8 386.0,836.2 391.5,838.0 397.0,837.9 402.4,866.6 407.9,886.0 413.4,913.0 418.8,907.7 424.3,938.8 429.8,851.2 435.2,890.8 440.7,905.4 446.1,878.7 451.6,933.8 457.1,934.3 462.5,918.8 468.0,934.8 473.5,924.2 478.9,934.2 484.4,912.2 489.9,937.7 495.3,918.0 500.8,862.4 506.3,863.6 511.7,836.2" fill="none" stroke="#5858f4" stroke-width="1.15" stroke-linejoin="round" />
<polyline points="41.7,890.3 47.1,900.4 52.6,896.7 58.1,922.3 63.5,941.8 69.0,940.2 74.5,939.0 79.9,939.5 85.4,896.4 90.9,906.1 96.3,873.3 101.8,899.6 107.3,902.6 112.7,866.7 118.2,849.1 123.7,875.9 129.1,896.2 134.6,914.6 140.1,836.2 145.5,868.6 151.0,911.3 156.5,910.9 161.9,874.5 167.4,874.1 172.9,869.7 178.3,931.8 183.8,933.8 189.2,886.6 194.7,928.0 200.2,899.4 205.6,901.3 211.1,907.7 216.6,915.5 222.0,915.2 227.5,886.7 233.0,891.1 238.4,855.6 243.9,862.4 249.4,836.2 254.8,904.3 260.3,852.7 265.8,845.1 271.2,836.2 276.7,860.2 282.2,916.6 287.6,883.9 293.1,889.7 298.6,860.9 304.0,883.8 309.5,884.0 315.0,921.4 320.4,923.8 325.9,902.3 331.4,906.6 336.8,913.9 342.3,897.1 347.8,931.4 353.2,919.9 358.7,941.2 364.2,849.4 369.6,838.1 375.1,838.5 380.6,836.2 386.0,836.2 391.5,836.2 397.0,836.2 402.4,836.2 407.9,871.3 413.4,924.3 418.8,921.4 424.3,926.3 429.8,871.6 435.2,937.0 440.7,936.3 446.1,938.0 451.6,920.8 457.1,917.4 462.5,922.7 468.0,928.0 473.5,930.1 478.9,937.9 484.4,903.2 489.9,925.7 495.3,910.0 500.8,883.6 506.3,872.6 511.7,889.4" fill="none" stroke="#5858f4" stroke-width="1.15" stroke-linejoin="round" />
<polyline points="41.7,848.1 47.1,875.4 52.6,940.4 58.1,914.1 63.5,900.1 69.0,912.9 74.5,940.5 79.9,939.6 85.4,836.2 90.9,913.5 96.3,939.3 101.8,899.6 107.3,845.0 112.7,851.2 118.2,861.2 123.7,881.0 129.1,867.8 134.6,926.3 140.1,863.1 145.5,869.0 151.0,879.1 156.5,893.7 161.9,878.0 167.4,887.3 172.9,893.7 178.3,928.7 183.8,933.0 189.2,882.2 194.7,906.2 200.2,913.3 205.6,889.0 211.1,918.0 216.6,918.5 222.0,880.7 227.5,887.2 233.0,887.4 238.4,843.2 243.9,847.5 249.4,867.3 254.8,863.8 260.3,902.9 265.8,872.0 271.2,860.0 276.7,889.8 282.2,939.6 287.6,883.9 293.1,914.3 298.6,937.4 304.0,904.1 309.5,908.9 315.0,940.9 320.4,923.8 325.9,916.3 331.4,918.7 336.8,941.7 342.3,915.3 347.8,917.4 353.2,924.0 358.7,935.1 364.2,870.4 369.6,843.9 375.1,846.5 380.6,844.2 386.0,840.9 391.5,843.1 397.0,841.1 402.4,895.4 407.9,873.0 413.4,878.4 418.8,884.2 424.3,912.3 429.8,867.3 435.2,883.9 440.7,905.7 446.1,898.0 451.6,910.9 457.1,893.0 462.5,914.6 468.0,930.3 473.5,920.6 478.9,931.5 484.4,906.4 489.9,900.5 495.3,895.8 500.8,877.8 506.3,864.1 511.7,870.7" fill="none" stroke="#5858f4" stroke-width="1.15" stroke-linejoin="round" />
<polyline points="41.7,910.6 47.1,916.4 52.6,937.2 58.1,923.3 63.5,892.2 69.0,929.9 74.5,874.9 79.9,941.1 85.4,911.6 90.9,893.8 96.3,924.5 101.8,907.8 107.3,841.9 112.7,855.0 118.2,838.5 123.7,836.2 129.1,881.9 134.6,850.4 140.1,836.2 145.5,896.7 151.0,897.0 156.5,870.5 161.9,856.7 167.4,837.6 172.9,902.2 178.3,905.6 183.8,887.8 189.2,897.1 194.7,931.5 200.2,903.3 205.6,885.4 211.1,927.9 216.6,939.2 222.0,911.3 227.5,913.0 233.0,906.1 238.4,848.4 243.9,880.9 249.4,867.6 254.8,850.9 260.3,879.3 265.8,900.4 271.2,890.0 276.7,889.3 282.2,845.4 287.6,868.1 293.1,917.0 298.6,883.3 304.0,909.6 309.5,886.0 315.0,900.4 320.4,926.6 325.9,925.9 331.4,895.0 336.8,941.8 342.3,931.2 347.8,937.8 353.2,905.0 358.7,875.3 364.2,845.6 369.6,838.3 375.1,838.9 380.6,838.6 386.0,837.6 391.5,837.2 397.0,836.7 402.4,846.2 407.9,898.7 413.4,898.5 418.8,869.6 424.3,891.6 429.8,937.8 435.2,907.4 440.7,924.6 446.1,890.0 451.6,913.9 457.1,912.4 462.5,914.1 468.0,937.6 473.5,927.1 478.9,918.0 484.4,894.7 489.9,893.9 495.3,897.4 500.8,836.2 506.3,887.1 511.7,894.7" fill="none" stroke="#5858f4" stroke-width="1.15" stroke-linejoin="round" />
<polyline points="41.7,933.7 47.1,899.5 52.6,916.2 58.1,922.5 63.5,925.3 69.0,915.9 74.5,886.2 79.9,937.5 85.4,877.8 90.9,941.1 96.3,923.0 101.8,922.0 107.3,853.3 112.7,850.6 118.2,855.3 123.7,848.6 129.1,866.2 134.6,914.3 140.1,850.3 145.5,895.6 151.0,866.5 156.5,854.3 161.9,836.2 167.4,865.7 172.9,880.2 178.3,916.9 183.8,914.2 189.2,897.8 194.7,927.1 200.2,923.1 205.6,932.3 211.1,920.8 216.6,900.4 222.0,890.2 227.5,899.5 233.0,878.3 238.4,837.0 243.9,885.9 249.4,841.9 254.8,893.9 260.3,850.5 265.8,886.8 271.2,875.5 276.7,941.5 282.2,917.1 287.6,889.6 293.1,872.7 298.6,850.5 304.0,883.4 309.5,883.2 315.0,890.3 320.4,915.6 325.9,891.6 331.4,920.9 336.8,906.0 342.3,907.9 347.8,937.6 353.2,937.3 358.7,903.5 364.2,847.1 369.6,841.0 375.1,837.7 380.6,836.2 386.0,836.2 391.5,836.2 397.0,836.2 402.4,887.1 407.9,892.1 413.4,924.4 418.8,895.3 424.3,936.0 429.8,860.0 435.2,851.0 440.7,898.6 446.1,915.7 451.6,911.8 457.1,908.3 462.5,932.4 468.0,941.6 473.5,895.8 478.9,935.7 484.4,902.7 489.9,912.9 495.3,897.8 500.8,865.6 506.3,892.9 511.7,878.9" fill="none" stroke="#5858f4" stroke-width="1.15" stroke-linejoin="round" />
<polyline points="41.7,932.5 47.1,893.8 52.6,940.1 58.1,921.7 63.5,939.8 69.0,939.3 74.5,895.7 79.9,940.4 85.4,891.3 90.9,897.3 96.3,929.7 101.8,893.0 107.3,839.1 112.7,858.5 118.2,846.2 123.7,839.2 129.1,851.2 134.6,840.2 140.1,896.8 145.5,848.7 151.0,864.8 156.5,897.5 161.9,906.8 167.4,861.0 172.9,872.1 178.3,916.5 183.8,890.6 189.2,889.3 194.7,916.2 200.2,934.2 205.6,927.8 211.1,939.5 216.6,921.5 222.0,879.9 227.5,882.7 233.0,880.8 238.4,875.8 243.9,866.3 249.4,869.0 254.8,886.6 260.3,862.0 265.8,862.2 271.2,905.5 276.7,874.7 282.2,910.6 287.6,889.2 293.1,930.6 298.6,880.6 304.0,883.4 309.5,861.0 315.0,941.2 320.4,931.4 325.9,940.2 331.4,940.5 336.8,913.3 342.3,923.7 347.8,914.1 353.2,917.7 358.7,915.8 364.2,861.9 369.6,844.3 375.1,842.9 380.6,839.0 386.0,838.6 391.5,838.3 397.0,836.8 402.4,885.6 407.9,874.5 413.4,884.0 418.8,919.6 424.3,892.6 429.8,861.3 435.2,911.0 440.7,884.0 446.1,883.1 451.6,941.6 457.1,899.8 462.5,928.7 468.0,938.8 473.5,919.5 478.9,934.4 484.4,903.8 489.9,931.4 495.3,939.3 500.8,880.8 506.3,884.9 511.7,895.9" fill="none" stroke="#5858f4" stroke-width="1.15" stroke-linejoin="round" />
<polyline points="41.7,895.6 47.1,909.6 52.6,887.2 58.1,928.1 63.5,917.3 69.0,935.0 74.5,937.1 79.9,932.8 85.4,902.0 90.9,912.6 96.3,876.8 101.8,923.7 107.3,879.9 112.7,868.7 118.2,855.9 123.7,836.2 129.1,861.9 134.6,873.2 140.1,904.8 145.5,901.9 151.0,901.2 156.5,852.5 161.9,883.1 167.4,856.4 172.9,883.8 178.3,908.1 183.8,925.9 189.2,901.8 194.7,931.5 200.2,903.5 205.6,899.8 211.1,924.7 216.6,938.0 222.0,900.7 227.5,939.0 233.0,904.2 238.4,891.5 243.9,861.4 249.4,853.8 254.8,885.1 260.3,857.6 265.8,906.4 271.2,880.5 276.7,890.8 282.2,870.8 287.6,899.8 293.1,876.8 298.6,884.6 304.0,868.1 309.5,926.8 315.0,934.8 320.4,914.6 325.9,902.3 331.4,939.9 336.8,924.1 342.3,903.2 347.8,884.4 353.2,920.0 358.7,881.1 364.2,871.5 369.6,842.6 375.1,841.2 380.6,839.9 386.0,840.9 391.5,839.9 397.0,836.7 402.4,836.2 407.9,857.9 413.4,906.5 418.8,860.4 424.3,903.4 429.8,940.0 435.2,912.9 440.7,888.4 446.1,898.0 451.6,937.0 457.1,910.1 462.5,938.1 468.0,890.9 473.5,939.6 478.9,938.0 484.4,905.0 489.9,930.0 495.3,894.2 500.8,896.2 506.3,865.6 511.7,877.0" fill="none" stroke="#5858f4" stroke-width="1.15" stroke-linejoin="round" />
<polyline points="41.7,941.5 47.1,924.0 52.6,913.3 58.1,942.0 63.5,936.1 69.0,938.7 74.5,911.1 79.9,905.8 85.4,912.9 90.9,910.4 96.3,890.1 101.8,936.2 107.3,926.0 112.7,899.5 118.2,863.7 123.7,897.5 129.1,878.4 134.6,908.7 140.1,892.0 145.5,897.6 151.0,916.8 156.5,891.5 161.9,863.0 167.4,912.0 172.9,907.0 178.3,915.8 183.8,917.3 189.2,879.0 194.7,937.7 200.2,921.7 205.6,920.6 211.1,917.8 216.6,912.6 222.0,915.6 227.5,918.2 233.0,888.9 238.4,864.1 243.9,874.6 249.4,888.7 254.8,863.5 260.3,876.0 265.8,899.1 271.2,905.5 276.7,916.0 282.2,849.8 287.6,863.4 293.1,881.3 298.6,884.5 304.0,912.0 309.5,894.4 315.0,897.1 320.4,939.8 325.9,926.2 331.4,927.4 336.8,920.2 342.3,936.3 347.8,920.3 353.2,941.0 358.7,881.3 364.2,864.9 369.6,899.6 375.1,883.8 380.6,891.4 386.0,905.2 391.5,878.7 397.0,864.5 402.4,879.6 407.9,882.3 413.4,875.7 418.8,905.3 424.3,936.4 429.8,899.6 435.2,883.8 440.7,900.2 446.1,919.4 451.6,906.4 457.1,899.6 462.5,924.1 468.0,904.2 473.5,917.9 478.9,922.9 484.4,927.8 489.9,935.7 495.3,910.4 500.8,878.3 506.3,858.3 511.7,863.0 517.2,869.0 522.7,866.0 528.1,844.4 533.6,874.8 539.1,882.3 544.5,903.0 550.0,873.8 555.5,879.4 560.9,894.1" fill="none" stroke="#fb9a48" stroke-width="1.15" stroke-linejoin="round" />
<polyline points="41.7,909.8 47.1,885.2 52.6,895.8 58.1,924.0 63.5,919.3 69.0,937.8 74.5,920.5 79.9,933.6 85.4,929.8 90.9,935.1 96.3,920.7 101.8,907.9 107.3,924.8 112.7,859.1 118.2,854.5 123.7,854.0 129.1,856.5 134.6,870.4 140.1,860.1 145.5,906.8 151.0,938.3 156.5,899.5 161.9,892.4 167.4,897.0 172.9,942.0 178.3,892.1 183.8,935.8 189.2,922.8 194.7,929.0 200.2,914.8 205.6,905.7 211.1,893.4 216.6,941.1 222.0,930.9 227.5,932.8 233.0,895.5 238.4,891.8 243.9,887.7 249.4,845.9 254.8,888.5 260.3,884.2 265.8,859.5 271.2,849.9 276.7,939.4 282.2,920.8 287.6,938.5 293.1,880.1 298.6,900.8 304.0,935.2 309.5,892.3 315.0,890.6 320.4,913.4 325.9,940.8 331.4,932.7 336.8,940.8 342.3,896.6 347.8,910.0 353.2,941.7 358.7,913.7 364.2,836.2 369.6,874.2 375.1,893.1 380.6,891.8 386.0,883.2 391.5,868.4 397.0,853.0 402.4,911.3 407.9,903.8 413.4,918.2 418.8,934.4 424.3,903.9 429.8,867.1 435.2,898.4 440.7,913.7 446.1,899.8 451.6,913.6 457.1,905.7 462.5,925.8 468.0,907.5 473.5,940.3 478.9,923.2 484.4,910.9 489.9,900.8 495.3,891.1 500.8,895.2 506.3,858.3 511.7,868.0 517.2,859.3 522.7,883.6 528.1,879.8 533.6,903.1 539.1,924.9 544.5,900.3 550.0,936.4 555.5,917.8 560.9,862.3" fill="none" stroke="#fb9a48" stroke-width="1.15" stroke-linejoin="round" />
<polyline points="41.7,881.7 47.1,905.9 52.6,931.7 58.1,920.2 63.5,937.1 69.0,902.8 74.5,937.9 79.9,909.9 85.4,928.3 90.9,933.9 96.3,888.1 101.8,869.9 107.3,899.4 112.7,869.1 118.2,875.7 123.7,902.3 129.1,875.4 134.6,884.1 140.1,909.8 145.5,941.9 151.0,903.3 156.5,913.4 161.9,865.7 167.4,844.4 172.9,913.6 178.3,927.2 183.8,925.3 189.2,912.5 194.7,936.5 200.2,930.2 205.6,935.7 211.1,914.8 216.6,930.9 222.0,904.5 227.5,923.8 233.0,898.7 238.4,870.3 243.9,878.8 249.4,846.3 254.8,882.4 260.3,875.4 265.8,879.0 271.2,892.0 276.7,886.0 282.2,923.6 287.6,877.6 293.1,925.9 298.6,891.6 304.0,933.6 309.5,921.8 315.0,917.7 320.4,922.3 325.9,918.7 331.4,941.9 336.8,906.7 342.3,924.3 347.8,919.2 353.2,931.9 358.7,902.7 364.2,885.5 369.6,915.2 375.1,914.8 380.6,916.6 386.0,916.7 391.5,911.8 397.0,902.3 402.4,915.9 407.9,899.8 413.4,895.2 418.8,883.0 424.3,935.5 429.8,869.5 435.2,931.6 440.7,935.7 446.1,936.6 451.6,923.7 457.1,902.4 462.5,919.9 468.0,894.7 473.5,940.4 478.9,902.6 484.4,908.4 489.9,902.4 495.3,892.9 500.8,870.9 506.3,918.1 511.7,892.7 517.2,934.2 522.7,883.2 528.1,902.2 533.6,892.5 539.1,900.1 544.5,907.2 550.0,891.7 555.5,894.5 560.9,850.6" fill="none" stroke="#fb9a48" stroke-width="1.15" stroke-linejoin="round" />
<polyline points="41.7,908.4 47.1,939.5 52.6,914.5 58.1,927.2 63.5,925.4 69.0,915.8 74.5,912.8 79.9,927.5 85.4,917.0 90.9,889.2 96.3,879.3 101.8,864.8 107.3,904.1 112.7,847.8 118.2,852.5 123.7,897.8 129.1,893.3 134.6,854.4 140.1,900.6 145.5,918.8 151.0,925.1 156.5,883.2 161.9,902.6 167.4,886.2 172.9,913.1 178.3,917.2 183.8,937.4 189.2,933.5 194.7,923.3 200.2,909.3 205.6,912.6 211.1,926.1 216.6,938.0 222.0,925.4 227.5,906.3 233.0,879.9 238.4,865.1 243.9,910.6 249.4,877.9 254.8,850.1 260.3,860.0 265.8,887.1 271.2,891.5 276.7,914.9 282.2,901.3 287.6,876.4 293.1,914.3 298.6,899.5 304.0,923.6 309.5,935.7 315.0,926.9 320.4,928.6 325.9,923.2 331.4,913.9 336.8,919.5 342.3,925.3 347.8,901.2 353.2,933.7 358.7,906.8 364.2,879.8 369.6,897.4 375.1,907.1 380.6,905.1 386.0,902.1 391.5,891.3 397.0,891.2 402.4,921.4 407.9,924.4 413.4,910.7 418.8,896.1 424.3,903.9 429.8,857.2 435.2,916.1 440.7,919.5 446.1,935.5 451.6,913.6 457.1,886.9 462.5,940.6 468.0,915.0 473.5,918.2 478.9,935.3 484.4,913.8 489.9,891.1 495.3,915.0 500.8,857.9 506.3,839.1 511.7,853.2 517.2,905.1 522.7,874.8 528.1,871.0 533.6,900.3 539.1,921.9 544.5,902.6 550.0,907.4 555.5,892.7 560.9,882.6" fill="none" stroke="#fb9a48" stroke-width="1.15" stroke-linejoin="round" />
<polyline points="41.7,922.5 47.1,871.0 52.6,903.3 58.1,927.6 63.5,941.8 69.0,930.5 74.5,909.6 79.9,931.7 85.4,925.1 90.9,921.1 96.3,921.6 101.8,890.6 107.3,867.4 112.7,884.9 118.2,859.2 123.7,898.9 129.1,930.6 134.6,918.6 140.1,879.2 145.5,925.8 151.0,917.6 156.5,881.9 161.9,841.4 167.4,836.2 172.9,895.0 178.3,940.7 183.8,932.4 189.2,904.4 194.7,936.2 200.2,927.9 205.6,932.9 211.1,930.6 216.6,890.1 222.0,938.3 227.5,898.3 233.0,887.4 238.4,874.7 243.9,861.5 249.4,899.7 254.8,887.2 260.3,906.1 265.8,874.9 271.2,861.4 276.7,931.4 282.2,905.6 287.6,859.6 293.1,883.4 298.6,890.3 304.0,941.9 309.5,855.3 315.0,882.3 320.4,938.7 325.9,905.5 331.4,911.4 336.8,932.8 342.3,941.7 347.8,931.5 353.2,927.1 358.7,930.9 364.2,862.9 369.6,892.4 375.1,911.6 380.6,894.0 386.0,900.4 391.5,883.4 397.0,878.0 402.4,904.8 407.9,933.1 413.4,904.4 418.8,919.8 424.3,859.3 429.8,867.3 435.2,933.9 440.7,902.5 446.1,906.9 451.6,902.6 457.1,928.4 462.5,920.9 468.0,875.8 473.5,922.3 478.9,905.7 484.4,903.5 489.9,941.3 495.3,911.8 500.8,892.6 506.3,917.2 511.7,905.2 517.2,879.5 522.7,836.9 528.1,836.2 533.6,929.0 539.1,941.2 544.5,906.5 550.0,857.0 555.5,885.8 560.9,894.9" fill="none" stroke="#fb9a48" stroke-width="1.15" stroke-linejoin="round" />
<polyline points="41.7,882.1 47.1,888.1 52.6,895.3 58.1,927.5 63.5,910.2 69.0,938.9 74.5,910.0 79.9,918.4 85.4,940.5 90.9,925.3 96.3,901.6 101.8,876.1 107.3,890.3 112.7,858.9 118.2,859.5 123.7,936.8 129.1,853.8 134.6,882.5 140.1,886.0 145.5,934.0 151.0,910.3 156.5,864.6 161.9,869.2 167.4,848.5 172.9,899.3 178.3,936.3 183.8,917.6 189.2,909.8 194.7,931.9 200.2,940.5 205.6,929.9 211.1,925.5 216.6,915.4 222.0,900.8 227.5,910.9 233.0,873.3 238.4,875.0 243.9,890.5 249.4,873.9 254.8,901.1 260.3,854.0 265.8,924.2 271.2,900.3 276.7,936.4 282.2,859.1 287.6,903.6 293.1,865.9 298.6,838.5 304.0,904.8 309.5,891.2 315.0,903.6 320.4,933.0 325.9,921.1 331.4,932.5 336.8,923.8 342.3,922.3 347.8,882.6 353.2,939.9 358.7,899.4 364.2,869.8 369.6,901.6 375.1,913.8 380.6,907.6 386.0,896.8 391.5,895.2 397.0,896.0 402.4,899.1 407.9,899.2 413.4,909.1 418.8,905.1 424.3,868.1 429.8,872.6 435.2,876.0 440.7,911.5 446.1,925.5 451.6,893.1 457.1,899.3 462.5,930.0 468.0,874.3 473.5,919.6 478.9,934.2 484.4,940.1 489.9,906.1 495.3,936.7 500.8,877.1 506.3,903.7 511.7,868.9 517.2,868.5 522.7,882.5 528.1,866.4 533.6,916.0 539.1,907.1 544.5,909.7 550.0,912.7 555.5,894.2 560.9,876.6" fill="none" stroke="#fb9a48" stroke-width="1.15" stroke-linejoin="round" />
<polyline points="41.7,939.5 47.1,904.6 52.6,932.2 58.1,916.4 63.5,942.1 69.0,938.1 74.5,913.7 79.9,917.7 85.4,912.8 90.9,906.8 96.3,925.1 101.8,884.7 107.3,846.8 112.7,864.7 118.2,850.4 123.7,901.9 129.1,870.4 134.6,884.0 140.1,907.9 145.5,863.3 151.0,917.7 156.5,897.1 161.9,855.8 167.4,865.9 172.9,912.8 178.3,919.9 183.8,912.4 189.2,938.1 194.7,940.5 200.2,942.0 205.6,921.4 211.1,891.8 216.6,912.6 222.0,914.6 227.5,905.1 233.0,922.1 238.4,898.7 243.9,871.0 249.4,862.4 254.8,836.2 260.3,847.2 265.8,855.9 271.2,890.8 276.7,907.7 282.2,936.0 287.6,893.3 293.1,885.2 298.6,864.1 304.0,887.7 309.5,887.6 315.0,926.7 320.4,910.4 325.9,915.7 331.4,938.5 336.8,937.4 342.3,915.2 347.8,906.4 353.2,918.8 358.7,907.9 364.2,880.9 369.6,898.5 375.1,905.4 380.6,900.6 386.0,894.2 391.5,884.2 397.0,887.2 402.4,875.5 407.9,901.8 413.4,904.5 418.8,909.9 424.3,919.0 429.8,900.5 435.2,922.7 440.7,934.1 446.1,897.2 451.6,917.4 457.1,942.1 462.5,932.0 468.0,928.1 473.5,929.1 478.9,918.8 484.4,923.1 489.9,902.2 495.3,895.6 500.8,869.3 506.3,902.3 511.7,870.2 517.2,901.2 522.7,853.8 528.1,860.2 533.6,850.1 539.1,921.0 544.5,891.4 550.0,862.3 555.5,883.7 560.9,913.4" fill="none" stroke="#fb9a48" stroke-width="1.15" stroke-linejoin="round" />
<polyline points="41.7,898.4 47.1,884.6 52.6,901.1 58.1,926.0 63.5,934.0 69.0,911.2 74.5,891.9 79.9,906.9 85.4,905.8 90.9,892.3 96.3,879.0 101.8,871.7 107.3,900.2 112.7,873.7 118.2,873.2 123.7,877.2 129.1,856.7 134.6,872.2 140.1,892.6 145.5,870.1 151.0,902.9 156.5,893.4 161.9,888.6 167.4,865.9 172.9,900.4 178.3,933.4 183.8,941.9 189.2,893.3 194.7,903.5 200.2,939.3 205.6,911.4 211.1,922.0 216.6,940.7 222.0,923.8 227.5,918.2 233.0,921.9 238.4,863.4 243.9,856.2 249.4,836.2 254.8,931.1 260.3,881.9 265.8,894.7 271.2,903.0 276.7,927.0 282.2,880.5 287.6,938.6 293.1,934.0 298.6,893.4 304.0,898.5 309.5,931.9 315.0,903.0 320.4,923.9 325.9,942.1 331.4,900.4 336.8,913.3 342.3,928.0 347.8,889.2 353.2,927.3 358.7,888.3 364.2,848.2 369.6,885.8 375.1,905.8 380.6,910.5 386.0,906.4 391.5,890.7 397.0,882.0 402.4,907.4 407.9,896.0 413.4,899.5 418.8,882.7 424.3,867.2 429.8,905.7 435.2,917.6 440.7,912.8 446.1,906.4 451.6,913.9 457.1,902.5 462.5,940.5 468.0,940.2 473.5,920.4 478.9,915.0 484.4,936.1 489.9,934.9 495.3,938.8 500.8,885.8 506.3,877.0 511.7,873.3 517.2,874.0 522.7,848.8 528.1,869.6 533.6,842.1 539.1,941.5 544.5,922.2 550.0,890.5 555.5,870.6 560.9,837.4" fill="none" stroke="#fb9a48" stroke-width="1.15" stroke-linejoin="round" />
<polyline points="41.7,910.3 47.1,925.3 52.6,916.9 58.1,903.8 63.5,936.9 69.0,896.1 74.5,923.9 79.9,925.8 85.4,933.2 90.9,925.5 96.3,926.7 101.8,878.3 107.3,845.2 112.7,872.9 118.2,846.0 123.7,891.3 129.1,862.3 134.6,857.5 140.1,860.7 145.5,891.6 151.0,905.6 156.5,915.2 161.9,870.1 167.4,884.6 172.9,872.4 178.3,931.9 183.8,930.1 189.2,902.4 194.7,912.1 200.2,913.1 205.6,922.1 211.1,929.1 216.6,928.9 222.0,920.4 227.5,891.3 233.0,918.7 238.4,871.2 243.9,893.1 249.4,891.6 254.8,865.4 260.3,869.1 265.8,865.9 271.2,895.3 276.7,921.3 282.2,877.6 287.6,940.9 293.1,889.8 298.6,898.3 304.0,914.5 309.5,891.3 315.0,926.5 320.4,922.8 325.9,917.7 331.4,927.4 336.8,924.9 342.3,906.7 347.8,918.3 353.2,929.5 358.7,913.3 364.2,847.7 369.6,885.7 375.1,898.1 380.6,894.6 386.0,900.9 391.5,879.2 397.0,887.5 402.4,898.3 407.9,904.5 413.4,918.2 418.8,900.2 424.3,867.4 429.8,849.0 435.2,898.8 440.7,938.9 446.1,917.8 451.6,922.7 457.1,920.1 462.5,941.5 468.0,917.0 473.5,924.1 478.9,914.9 484.4,901.2 489.9,897.8 495.3,937.2 500.8,852.7 506.3,871.7 511.7,862.3 517.2,898.1 522.7,870.6 528.1,874.2 533.6,864.2 539.1,931.5 544.5,875.0 550.0,857.2 555.5,836.2 560.9,896.4" fill="none" stroke="#fb9a48" stroke-width="1.15" stroke-linejoin="round" />
<polyline points="41.7,924.8 47.1,881.5 52.6,911.6 58.1,919.6 63.5,869.3 69.0,940.4 74.5,928.9 79.9,925.0 85.4,914.6 90.9,940.9 96.3,909.9 101.8,895.0 107.3,885.5 112.7,864.8 118.2,865.1 123.7,877.4 129.1,885.3 134.6,870.6 140.1,867.1 145.5,903.0 151.0,876.7 156.5,889.6 161.9,836.2 167.4,895.4 172.9,921.3 178.3,904.1 183.8,896.2 189.2,904.0 194.7,924.8 200.2,921.7 205.6,904.6 211.1,909.6 216.6,935.3 222.0,939.3 227.5,897.7 233.0,921.0 238.4,907.2 243.9,896.5 249.4,852.4 254.8,878.5 260.3,877.9 265.8,849.3 271.2,880.2 276.7,935.6 282.2,930.6 287.6,887.5 293.1,846.2 298.6,900.0 304.0,937.2 309.5,938.2 315.0,912.7 320.4,932.3 325.9,940.9 331.4,927.1 336.8,937.3 342.3,913.6 347.8,920.8 353.2,920.9 358.7,897.5 364.2,872.9 369.6,888.5 375.1,894.6 380.6,894.3 386.0,885.0 391.5,878.4 397.0,876.4 402.4,890.3 407.9,909.8 413.4,893.9 418.8,896.6 424.3,876.7 429.8,889.4 435.2,913.5 440.7,905.4 446.1,915.9 451.6,922.1 457.1,933.5 462.5,919.8 468.0,936.9 473.5,932.2 478.9,941.1 484.4,905.9 489.9,901.6 495.3,878.7 500.8,851.7 506.3,893.5 511.7,846.1 517.2,849.0 522.7,849.6 528.1,875.4 533.6,891.1 539.1,936.7 544.5,900.2 550.0,862.2 555.5,880.7 560.9,878.5" fill="none" stroke="#fb9a48" stroke-width="1.15" stroke-linejoin="round" />
<polyline points="41.7,899.6 47.1,879.7 52.6,931.2 58.1,933.3 63.5,924.5 69.0,926.8 74.5,909.1 79.9,936.7 85.4,914.6 90.9,923.8 96.3,935.9 101.8,920.0 107.3,918.9 112.7,870.2 118.2,858.3 123.7,836.2 129.1,897.3 134.6,889.7 140.1,869.9 145.5,895.9 151.0,922.0 156.5,895.0 161.9,842.4 167.4,837.7 172.9,897.7 178.3,921.7 183.8,914.8 189.2,937.4 194.7,918.8 200.2,937.5 205.6,914.7 211.1,927.6 216.6,936.8 222.0,925.2 227.5,919.9 233.0,866.7 238.4,901.7 243.9,890.0 249.4,893.9 254.8,907.9 260.3,849.3 265.8,883.7 271.2,858.4 276.7,924.9 282.2,905.6 287.6,886.1 293.1,910.3 298.6,847.4 304.0,888.7 309.5,887.5 315.0,931.5 320.4,914.3 325.9,906.4 331.4,913.6 336.8,911.2 342.3,935.1 347.8,892.5 353.2,898.6 358.7,889.5 364.2,853.7 369.6,886.9 375.1,900.4 380.6,906.7 386.0,899.4 391.5,882.1 397.0,871.2 402.4,891.6 407.9,919.5 413.4,921.1 418.8,921.9 424.3,888.5 429.8,875.9 435.2,876.5 440.7,907.4 446.1,914.4 451.6,890.7 457.1,904.1 462.5,931.9 468.0,892.5 473.5,919.6 478.9,913.1 484.4,921.6 489.9,939.4 495.3,914.5 500.8,836.2 506.3,873.9 511.7,875.3 517.2,874.0 522.7,872.5 528.1,877.3 533.6,896.1 539.1,918.2 544.5,869.0 550.0,925.0 555.5,893.2 560.9,886.9" fill="none" stroke="#fb9a48" stroke-width="1.15" stroke-linejoin="round" />
<polyline points="41.7,919.5 47.1,926.4 52.6,929.8 58.1,932.2 63.5,902.2 69.0,914.0 74.5,910.9 79.9,939.8 85.4,928.2 90.9,920.1 96.3,905.4 101.8,917.2 107.3,913.9 112.7,871.5 118.2,838.0 123.7,892.7 129.1,941.9 134.6,892.4 140.1,891.5 145.5,906.0 151.0,910.2 156.5,931.8 161.9,899.1 167.4,882.4 172.9,908.3 178.3,919.5 183.8,934.0 189.2,910.3 194.7,927.4 200.2,937.1 205.6,926.3 211.1,905.0 216.6,910.5 222.0,922.8 227.5,898.9 233.0,845.8 238.4,892.1 243.9,841.1 249.4,873.4 254.8,866.7 260.3,862.7 265.8,925.4 271.2,900.4 276.7,843.7 282.2,860.0 287.6,897.4 293.1,883.5 298.6,870.8 304.0,918.2 309.5,934.3 315.0,914.6 320.4,925.3 325.9,904.7 331.4,941.0 336.8,920.4 342.3,925.8 347.8,919.1 353.2,906.9 358.7,913.3 364.2,865.0 369.6,893.8 375.1,902.5 380.6,881.9 386.0,878.9 391.5,863.6 397.0,877.2 402.4,904.2 407.9,922.5 413.4,931.6 418.8,919.3 424.3,927.3 429.8,881.2 435.2,895.8 440.7,911.5 446.1,918.7 451.6,932.4 457.1,923.1 462.5,917.3 468.0,925.5 473.5,924.0 478.9,924.6 484.4,900.5 489.9,932.3 495.3,908.8 500.8,853.7 506.3,896.0 511.7,868.8 517.2,836.2 522.7,865.8 528.1,861.2 533.6,898.3 539.1,933.7 544.5,896.2 550.0,881.3 555.5,901.4 560.9,903.2" fill="none" stroke="#fb9a48" stroke-width="1.15" stroke-linejoin="round" />
<polyline points="41.7,917.9 47.1,941.3 52.6,930.5 58.1,930.2 63.5,939.9 69.0,918.8 74.5,923.5 79.9,930.0 85.4,914.8 90.9,901.1 96.3,927.9 101.8,920.7 107.3,898.1 112.7,836.2 118.2,854.8 123.7,882.0 129.1,836.2 134.6,902.9 140.1,913.0 145.5,935.7 151.0,901.2 156.5,856.8 161.9,836.4 167.4,866.6 172.9,890.4 178.3,925.6 183.8,932.4 189.2,925.7 194.7,934.1 200.2,918.2 205.6,916.3 211.1,908.7 216.6,927.9 222.0,896.2 227.5,866.8 233.0,889.8 238.4,843.3 243.9,864.3 249.4,922.5 254.8,893.9 260.3,862.9 265.8,895.3 271.2,871.3 276.7,926.0 282.2,864.1 287.6,923.7 293.1,865.6 298.6,906.1 304.0,926.0 309.5,880.1 315.0,941.8 320.4,935.0 325.9,915.9 331.4,892.6 336.8,935.0 342.3,928.6 347.8,893.3 353.2,933.5 358.7,925.4 364.2,880.1 369.6,919.9 375.1,909.8 380.6,899.6 386.0,886.6 391.5,887.1 397.0,879.7 402.4,899.1 407.9,893.8 413.4,927.4 418.8,905.1 424.3,843.6 429.8,869.3 435.2,909.6 440.7,920.2 446.1,904.3 451.6,895.7 457.1,905.9 462.5,941.2 468.0,921.7 473.5,931.6 478.9,939.3 484.4,918.0 489.9,938.5 495.3,905.6 500.8,859.7 506.3,842.2 511.7,873.6 517.2,869.1 522.7,861.9 528.1,873.6 533.6,847.9 539.1,914.3 544.5,896.8 550.0,890.1 555.5,886.7 560.9,849.8" fill="none" stroke="#fb9a48" stroke-width="1.15" stroke-linejoin="round" />
<polyline points="41.7,892.8 47.1,898.1 52.6,867.1 58.1,896.3 63.5,922.9 69.0,939.1 74.5,919.1 79.9,938.4 85.4,897.6 90.9,918.0 96.3,924.8 101.8,937.7 107.3,901.2 112.7,874.2 118.2,859.9 123.7,873.2 129.1,866.7 134.6,844.7 140.1,864.9 145.5,901.2 151.0,918.2 156.5,861.0 161.9,894.0 167.4,883.7 172.9,893.1 178.3,939.2 183.8,932.0 189.2,933.7 194.7,937.0 200.2,934.7 205.6,939.0 211.1,908.8 216.6,889.9 222.0,876.9 227.5,908.3 233.0,849.0 238.4,869.4 243.9,846.4 249.4,885.4 254.8,871.2 260.3,899.1 265.8,845.6 271.2,852.7 276.7,929.1 282.2,864.4 287.6,870.5 293.1,906.8 298.6,875.2 304.0,891.4 309.5,871.1 315.0,935.3 320.4,877.8 325.9,916.9 331.4,910.8 336.8,937.1 342.3,909.9 347.8,875.3 353.2,902.1 358.7,891.3 364.2,874.8 369.6,900.6 375.1,886.1 380.6,852.3 386.0,844.5 391.5,840.4 397.0,860.3 402.4,857.8 407.9,879.3 413.4,862.0 418.8,836.2 424.3,858.2 429.8,910.3 435.2,916.4 440.7,922.3 446.1,924.9 451.6,922.7 457.1,916.1 462.5,901.9 468.0,932.5 473.5,904.2 478.9,902.2 484.4,911.5 489.9,907.9 495.3,919.0 500.8,884.8 506.3,891.2 511.7,867.0 517.2,898.4 522.7,860.2 528.1,882.9 533.6,903.4 539.1,937.2 544.5,887.4 550.0,918.7 555.5,860.8 560.9,874.7" fill="none" stroke="#14ec14" stroke-width="1.5" stroke-linejoin="round" />
<polyline points="41.7,882.2 47.1,907.1 52.6,927.5 58.1,916.6 63.5,928.9 69.0,911.4 74.5,939.0 79.9,921.2 85.4,914.4 90.9,898.6 96.3,882.2 101.8,836.2 107.3,892.3 112.7,854.2 118.2,871.3 123.7,836.2 129.1,898.5 134.6,932.7 140.1,843.7 145.5,888.5 151.0,894.6 156.5,879.2 161.9,881.0 167.4,891.6 172.9,923.6 178.3,876.7 183.8,933.2 189.2,927.1 194.7,914.9 200.2,916.4 205.6,913.5 211.1,906.8 216.6,904.9 222.0,906.7 227.5,895.5 233.0,890.0 238.4,872.6 243.9,866.1 249.4,903.6 254.8,845.3 260.3,864.7 265.8,871.2 271.2,836.2 276.7,915.4 282.2,883.6 287.6,910.3 293.1,898.4 298.6,860.7 304.0,915.8 309.5,939.1 315.0,922.6 320.4,871.0 325.9,918.5 331.4,938.4 336.8,936.3 342.3,911.8 347.8,938.5 353.2,937.6 358.7,903.6 364.2,870.8 369.6,885.8 375.1,878.9 380.6,851.5 386.0,856.5 391.5,863.3 397.0,875.5 402.4,895.4 407.9,911.7 413.4,898.2 418.8,920.9 424.3,869.8 429.8,912.2 435.2,902.3 440.7,937.9 446.1,929.6 451.6,923.2 457.1,925.2 462.5,924.9 468.0,908.1 473.5,938.8 478.9,875.9 484.4,912.1 489.9,917.0 495.3,922.4 500.8,856.8 506.3,836.2 511.7,894.9 517.2,872.4 522.7,864.6 528.1,867.4 533.6,896.1 539.1,891.2 544.5,868.0 550.0,867.0 555.5,894.6 560.9,851.5" fill="none" stroke="#14ec14" stroke-width="1.5" stroke-linejoin="round" />
<polyline points="41.7,898.5 47.1,917.2 52.6,895.7 58.1,916.7 63.5,915.6 69.0,926.3 74.5,922.2 79.9,916.2 85.4,928.1 90.9,911.2 96.3,893.1 101.8,931.1 107.3,933.2 112.7,868.9 118.2,849.7 123.7,847.9 129.1,889.9 134.6,921.3 140.1,869.3 145.5,855.2 151.0,898.1 156.5,868.4 161.9,903.8 167.4,870.5 172.9,929.7 178.3,904.6 183.8,939.1 189.2,917.7 194.7,884.8 200.2,932.1 205.6,926.1 211.1,914.7 216.6,914.7 222.0,936.4 227.5,903.4 233.0,866.9 238.4,880.7 243.9,892.6 249.4,906.2 254.8,867.5 260.3,890.4 265.8,852.7 271.2,886.7 276.7,919.0 282.2,856.6 287.6,906.0 293.1,882.4 298.6,881.9 304.0,931.7 309.5,934.7 315.0,908.7 320.4,911.4 325.9,926.6 331.4,938.4 336.8,924.7 342.3,919.2 347.8,899.2 353.2,922.1 358.7,933.5 364.2,877.2 369.6,906.6 375.1,907.8 380.6,900.6 386.0,891.5 391.5,882.7 397.0,917.4 402.4,931.6 407.9,910.4 413.4,915.5 418.8,929.4 424.3,845.6 429.8,908.0 435.2,893.2 440.7,939.7 446.1,918.3 451.6,927.3 457.1,912.0 462.5,932.6 468.0,922.0 473.5,934.8 478.9,872.6 484.4,901.3 489.9,910.4 495.3,928.5 500.8,863.9 506.3,878.8 511.7,836.2 517.2,880.3 522.7,836.2 528.1,893.2 533.6,925.6 539.1,887.8 544.5,910.4 550.0,863.4 555.5,863.7 560.9,866.4" fill="none" stroke="#14ec14" stroke-width="1.5" stroke-linejoin="round" />
<polyline points="41.7,894.5 47.1,912.9 52.6,898.1 58.1,933.6 63.5,922.2 69.0,920.7 74.5,895.7 79.9,916.4 85.4,935.7 90.9,917.6 96.3,930.5 101.8,870.2 107.3,899.0 112.7,873.5 118.2,855.7 123.7,848.7 129.1,901.9 134.6,864.3 140.1,878.1 145.5,867.1 151.0,909.8 156.5,883.9 161.9,919.2 167.4,838.1 172.9,876.4 178.3,899.5 183.8,920.6 189.2,923.8 194.7,897.2 200.2,934.1 205.6,927.5 211.1,884.6 216.6,924.1 222.0,883.0 227.5,883.6 233.0,897.4 238.4,845.3 243.9,851.5 249.4,884.1 254.8,902.7 260.3,877.3 265.8,878.0 271.2,845.2 276.7,929.8 282.2,900.5 287.6,864.5 293.1,937.4 298.6,884.4 304.0,930.8 309.5,926.8 315.0,906.2 320.4,900.8 325.9,918.5 331.4,917.7 336.8,929.7 342.3,912.4 347.8,928.7 353.2,938.4 358.7,897.1 364.2,858.0 369.6,880.4 375.1,879.0 380.6,861.6 386.0,858.0 391.5,859.1 397.0,855.6 402.4,901.6 407.9,888.8 413.4,870.9 418.8,869.5 424.3,881.3 429.8,903.1 435.2,900.0 440.7,929.0 446.1,935.5 451.6,939.8 457.1,918.0 462.5,905.7 468.0,917.5 473.5,906.4 478.9,900.3 484.4,923.3 489.9,903.3 495.3,921.2 500.8,910.0 506.3,872.0 511.7,882.5 517.2,909.5 522.7,851.6 528.1,870.5 533.6,905.1 539.1,910.0 544.5,902.1 550.0,887.7 555.5,851.9 560.9,836.2" fill="none" stroke="#14ec14" stroke-width="1.5" stroke-linejoin="round" />
<polyline points="41.7,857.5 47.1,923.1 52.6,934.4 58.1,939.9 63.5,923.7 69.0,930.2 74.5,900.0 79.9,928.1 85.4,939.9 90.9,918.0 96.3,897.7 101.8,937.3 107.3,899.2 112.7,841.2 118.2,837.8 123.7,860.0 129.1,914.0 134.6,879.1 140.1,849.6 145.5,881.1 151.0,934.7 156.5,860.9 161.9,857.2 167.4,898.6 172.9,873.9 178.3,884.6 183.8,898.5 189.2,915.8 194.7,870.0 200.2,910.8 205.6,934.8 211.1,937.1 216.6,920.1 222.0,870.1 227.5,927.4 233.0,915.9 238.4,883.4 243.9,899.0 249.4,873.8 254.8,878.6 260.3,882.8 265.8,872.7 271.2,938.3 276.7,921.0 282.2,875.7 287.6,872.0 293.1,889.6 298.6,885.0 304.0,914.3 309.5,877.4 315.0,908.1 320.4,921.2 325.9,931.3 331.4,939.7 336.8,904.1 342.3,933.4 347.8,908.4 353.2,933.9 358.7,883.8 364.2,851.7 369.6,877.3 375.1,880.2 380.6,858.5 386.0,853.8 391.5,845.7 397.0,880.8 402.4,880.9 407.9,925.8 413.4,934.2 418.8,908.8 424.3,860.3 429.8,894.1 435.2,888.0 440.7,916.5 446.1,909.6 451.6,914.5 457.1,939.6 462.5,913.4 468.0,938.7 473.5,933.2 478.9,926.4 484.4,934.0 489.9,920.4 495.3,907.9 500.8,897.9 506.3,909.1 511.7,862.0 517.2,890.9 522.7,868.7 528.1,860.4 533.6,859.6 539.1,926.3 544.5,939.0 550.0,883.2 555.5,868.9 560.9,882.2" fill="none" stroke="#14ec14" stroke-width="1.5" stroke-linejoin="round" />
<polyline points="41.7,898.2 47.1,927.9 52.6,912.0 58.1,920.6 63.5,924.7 69.0,911.5 74.5,930.8 79.9,913.8 85.4,907.1 90.9,910.7 96.3,938.4 101.8,928.1 107.3,896.3 112.7,844.1 118.2,836.2 123.7,845.3 129.1,875.7 134.6,920.8 140.1,847.9 145.5,901.5 151.0,926.9 156.5,853.0 161.9,859.9 167.4,887.0 172.9,854.0 178.3,862.7 183.8,905.4 189.2,911.3 194.7,915.5 200.2,936.6 205.6,924.8 211.1,924.5 216.6,926.0 222.0,892.8 227.5,903.1 233.0,894.3 238.4,876.1 243.9,884.9 249.4,873.5 254.8,907.4 260.3,872.5 265.8,854.4 271.2,933.4 276.7,900.1 282.2,897.5 287.6,915.1 293.1,923.6 298.6,891.8 304.0,902.8 309.5,872.4 315.0,933.1 320.4,895.2 325.9,919.4 331.4,929.4 336.8,900.6 342.3,905.7 347.8,930.3 353.2,935.3 358.7,848.1 364.2,836.2 369.6,849.3 375.1,850.9 380.6,841.7 386.0,849.8 391.5,843.9 397.0,879.1 402.4,856.4 407.9,917.1 413.4,881.8 418.8,896.7 424.3,889.9 429.8,881.0 435.2,886.4 440.7,917.3 446.1,908.1 451.6,910.4 457.1,908.2 462.5,906.2 468.0,910.5 473.5,927.5 478.9,901.5 484.4,889.8 489.9,916.5 495.3,890.3 500.8,886.6 506.3,886.1 511.7,902.8 517.2,858.1 522.7,847.7 528.1,856.2 533.6,920.5 539.1,934.4 544.5,896.5 550.0,918.3 555.5,926.3 560.9,859.1" fill="none" stroke="#14ec14" stroke-width="1.5" stroke-linejoin="round" />
<line x1="48.5" y1="987.4" x2="157.0" y2="987.4" stroke="#2b1d1d" stroke-width="1.6" />
<text transform="translate(102.75,983.86) scale(0.96,1)" font-size="9.66" fill="#231f20" stroke="#231f20" stroke-width="0.12" text-anchor="middle" >Baseline day</text>
<line x1="178.4" y1="987.4" x2="288.8" y2="987.4" stroke="#2b1d1d" stroke-width="1.6" />
<text transform="translate(233.60,983.86) scale(0.96,1)" font-size="9.66" fill="#231f20" stroke="#231f20" stroke-width="0.12" text-anchor="middle" >Prestress day</text>
<line x1="310.0" y1="987.4" x2="418.8" y2="987.4" stroke="#2b1d1d" stroke-width="1.6" />
<text transform="translate(364.40,983.86) scale(0.96,1)" font-size="9.66" fill="#231f20" stroke="#231f20" stroke-width="0.12" text-anchor="middle" >Stress day</text>
<line x1="440.8" y1="987.4" x2="549.8" y2="987.4" stroke="#2b1d1d" stroke-width="1.6" />
<text transform="translate(495.30,983.86) scale(0.96,1)" font-size="9.66" fill="#231f20" stroke="#231f20" stroke-width="0.12" text-anchor="middle" >Poststress day</text>
<text transform="translate(240.70,998.16) scale(0.96,1)" font-size="9.66" fill="#29a1dc" stroke="#29a1dc" stroke-width="0.12" text-anchor="middle" >Habituation</text>
<polygon points="235.65,1000.50 245.95,1000.50 240.80,1017.20" fill="#29a1dc" />
<text transform="translate(380.10,998.16) scale(0.96,1)" font-size="9.66" fill="#1a1ae6" stroke="#1a1ae6" stroke-width="0.12" text-anchor="middle" >Sleep deprivation</text>
<rect x="363.60" y="1000.90" width="32.70" height="6.20" fill="#0000ee" stroke="none" stroke-width="0" />
<text transform="translate(354.20,1020.36) scale(0.96,1)" font-size="9.66" fill="#f7a052" stroke="#f7a052" stroke-width="0.12" text-anchor="end" >Stress</text>
<polygon points="356.10,1009.10 365.70,1009.10 360.90,1026.20" fill="#ff8a1c" />
<text transform="translate(503.60,998.26) scale(0.96,1)" font-size="9.66" fill="#22d822" stroke="#22d822" stroke-width="0.12" text-anchor="middle" >Social interaction test</text>
<polygon points="498.60,1000.40 509.00,1000.40 503.80,1018.20" fill="#10b010" />
<text transform="translate(578.20,983.46) scale(0.96,1)" font-size="9.66" fill="#231f20" stroke="#231f20" stroke-width="0.12" text-anchor="start" >Individual plot</text>
<line x1="578.2" y1="996.3" x2="601.6" y2="996.3" stroke="#22ee22" stroke-width="1.5" />
<text transform="translate(606.00,999.76) scale(0.96,1)" font-size="9.66" fill="#22cc22" stroke="#22cc22" stroke-width="0.12" text-anchor="start" >Control</text>
<line x1="578.2" y1="1010.8" x2="601.6" y2="1010.8" stroke="#f7a860" stroke-width="1.5" />
<text transform="translate(606.00,1014.26) scale(0.96,1)" font-size="9.66" fill="#f79a45" stroke="#f79a45" stroke-width="0.12" text-anchor="start" >Stress</text>
<line x1="578.2" y1="1025.3" x2="601.6" y2="1025.3" stroke="#6464f0" stroke-width="1.5" />
<text transform="translate(606.00,1028.76) scale(0.96,1)" font-size="9.66" fill="#1a1ae6" stroke="#1a1ae6" stroke-width="0.12" text-anchor="start" >Stress + Sleep dep</text>
<rect x="36.20" y="1119.30" width="65.59" height="6.60" fill="#fdea8e" stroke="none" stroke-width="0" />
<rect x="101.79" y="1119.30" width="65.59" height="6.60" fill="#a3a3a3" stroke="none" stroke-width="0" />
<rect x="167.38" y="1119.30" width="65.59" height="6.60" fill="#fdea8e" stroke="none" stroke-width="0" />
<rect x="232.98" y="1119.30" width="65.59" height="6.60" fill="#a3a3a3" stroke="none" stroke-width="0" />
<rect x="298.57" y="1119.30" width="65.59" height="6.60" fill="#fdea8e" stroke="none" stroke-width="0" />
<rect x="364.16" y="1119.30" width="65.59" height="6.60" fill="#a3a3a3" stroke="none" stroke-width="0" />
<rect x="429.75" y="1119.30" width="65.59" height="6.60" fill="#fdea8e" stroke="none" stroke-width="0" />
<rect x="495.34" y="1119.30" width="65.59" height="6.60" fill="#a3a3a3" stroke="none" stroke-width="0" />
<line x1="101.8" y1="1016.7" x2="101.8" y2="1119.3" stroke="#444444" stroke-width="1.1" stroke-dasharray="1.2,1.5"/>
<line x1="233.0" y1="1016.7" x2="233.0" y2="1119.3" stroke="#444444" stroke-width="1.1" stroke-dasharray="1.2,1.5"/>
<line x1="364.2" y1="1016.7" x2="364.2" y2="1119.3" stroke="#444444" stroke-width="1.1" stroke-dasharray="1.2,1.5"/>
<line x1="495.3" y1="1016.7" x2="495.3" y2="1119.3" stroke="#444444" stroke-width="1.1" stroke-dasharray="1.2,1.5"/>
<line x1="167.4" y1="1016.7" x2="167.4" y2="1119.3" stroke="#8a8a8a" stroke-width="1.1" />
<line x1="298.6" y1="1016.7" x2="298.6" y2="1119.3" stroke="#8a8a8a" stroke-width="1.1" />
<line x1="429.8" y1="1016.7" x2="429.8" y2="1119.3" stroke="#8a8a8a" stroke-width="1.1" />
<line x1="36.2" y1="1016.1" x2="36.2" y2="1126.5" stroke="#151213" stroke-width="1.3" />
<line x1="35.6" y1="1125.9" x2="561.5" y2="1125.9" stroke="#151213" stroke-width="1.3" />
<line x1="30.8" y1="1125.9" x2="36.2" y2="1125.9" stroke="#151213" stroke-width="1.3" />
<text transform="translate(27.80,1129.36) scale(0.96,1)" font-size="9.66" fill="#231f20" stroke="#231f20" stroke-width="0.12" text-anchor="end" >30</text>
<line x1="30.8" y1="1113.8" x2="36.2" y2="1113.8" stroke="#151213" stroke-width="1.3" />
<text transform="translate(27.80,1117.23) scale(0.96,1)" font-size="9.66" fill="#231f20" stroke="#231f20" stroke-width="0.12" text-anchor="end" >31</text>
<line x1="30.8" y1="1101.6" x2="36.2" y2="1101.6" stroke="#151213" stroke-width="1.3" />
<text transform="translate(27.80,1105.10) scale(0.96,1)" font-size="9.66" fill="#231f20" stroke="#231f20" stroke-width="0.12" text-anchor="end" >32</text>
<line x1="30.8" y1="1089.5" x2="36.2" y2="1089.5" stroke="#151213" stroke-width="1.3" />
<text transform="translate(27.80,1092.97) scale(0.96,1)" font-size="9.66" fill="#231f20" stroke="#231f20" stroke-width="0.12" text-anchor="end" >33</text>
<line x1="30.8" y1="1077.4" x2="36.2" y2="1077.4" stroke="#151213" stroke-width="1.3" />
<text transform="translate(27.80,1080.84) scale(0.96,1)" font-size="9.66" fill="#231f20" stroke="#231f20" stroke-width="0.12" text-anchor="end" >34</text>
<line x1="30.8" y1="1065.2" x2="36.2" y2="1065.2" stroke="#151213" stroke-width="1.3" />
<text transform="translate(27.80,1068.71) scale(0.96,1)" font-size="9.66" fill="#231f20" stroke="#231f20" stroke-width="0.12" text-anchor="end" >35</text>
<line x1="30.8" y1="1053.1" x2="36.2" y2="1053.1" stroke="#151213" stroke-width="1.3" />
<text transform="translate(27.80,1056.58) scale(0.96,1)" font-size="9.66" fill="#231f20" stroke="#231f20" stroke-width="0.12" text-anchor="end" >36</text>
<line x1="30.8" y1="1041.0" x2="36.2" y2="1041.0" stroke="#151213" stroke-width="1.3" />
<text transform="translate(27.80,1044.45) scale(0.96,1)" font-size="9.66" fill="#231f20" stroke="#231f20" stroke-width="0.12" text-anchor="end" >37</text>
<line x1="30.8" y1="1028.9" x2="36.2" y2="1028.9" stroke="#151213" stroke-width="1.3" />
<text transform="translate(27.80,1032.32) scale(0.96,1)" font-size="9.66" fill="#231f20" stroke="#231f20" stroke-width="0.12" text-anchor="end" >38</text>
<line x1="30.8" y1="1016.7" x2="36.2" y2="1016.7" stroke="#151213" stroke-width="1.3" />
<text transform="translate(27.80,1020.19) scale(0.96,1)" font-size="9.66" fill="#231f20" stroke="#231f20" stroke-width="0.12" text-anchor="end" >39</text>
<line x1="36.2" y1="1125.9" x2="36.2" y2="1131.5" stroke="#151213" stroke-width="1.3" />
<text transform="translate(36.20,1142.16) scale(0.96,1)" font-size="9.66" fill="#231f20" stroke="#231f20" stroke-width="0.12" text-anchor="middle" >0</text>
<line x1="58.1" y1="1125.9" x2="58.1" y2="1131.5" stroke="#151213" stroke-width="1.3" />
<text transform="translate(58.06,1142.16) scale(0.96,1)" font-size="9.66" fill="#231f20" stroke="#231f20" stroke-width="0.12" text-anchor="middle" >4</text>
<line x1="79.9" y1="1125.9" x2="79.9" y2="1131.5" stroke="#151213" stroke-width="1.3" />
<text transform="translate(79.93,1142.16) scale(0.96,1)" font-size="9.66" fill="#231f20" stroke="#231f20" stroke-width="0.12" text-anchor="middle" >8</text>
<line x1="101.8" y1="1125.9" x2="101.8" y2="1131.5" stroke="#151213" stroke-width="1.3" />
<text transform="translate(101.79,1142.16) scale(0.96,1)" font-size="9.66" fill="#231f20" stroke="#231f20" stroke-width="0.12" text-anchor="middle" >12</text>
<line x1="123.7" y1="1125.9" x2="123.7" y2="1131.5" stroke="#151213" stroke-width="1.3" />
<text transform="translate(123.66,1142.16) scale(0.96,1)" font-size="9.66" fill="#231f20" stroke="#231f20" stroke-width="0.12" text-anchor="middle" >16</text>
<line x1="145.5" y1="1125.9" x2="145.5" y2="1131.5" stroke="#151213" stroke-width="1.3" />
<text transform="translate(145.52,1142.16) scale(0.96,1)" font-size="9.66" fill="#231f20" stroke="#231f20" stroke-width="0.12" text-anchor="middle" >20</text>
<line x1="167.4" y1="1125.9" x2="167.4" y2="1131.5" stroke="#151213" stroke-width="1.3" />
<text transform="translate(167.38,1142.16) scale(0.96,1)" font-size="9.66" fill="#231f20" stroke="#231f20" stroke-width="0.12" text-anchor="middle" >24</text>
<line x1="189.2" y1="1125.9" x2="189.2" y2="1131.5" stroke="#151213" stroke-width="1.3" />
<text transform="translate(189.25,1142.16) scale(0.96,1)" font-size="9.66" fill="#231f20" stroke="#231f20" stroke-width="0.12" text-anchor="middle" >4</text>
<line x1="211.1" y1="1125.9" x2="211.1" y2="1131.5" stroke="#151213" stroke-width="1.3" />
<text transform="translate(211.11,1142.16) scale(0.96,1)" font-size="9.66" fill="#231f20" stroke="#231f20" stroke-width="0.12" text-anchor="middle" >8</text>
<line x1="233.0" y1="1125.9" x2="233.0" y2="1131.5" stroke="#151213" stroke-width="1.3" />
<text transform="translate(232.98,1142.16) scale(0.96,1)" font-size="9.66" fill="#231f20" stroke="#231f20" stroke-width="0.12" text-anchor="middle" >12</text>
<line x1="254.8" y1="1125.9" x2="254.8" y2="1131.5" stroke="#151213" stroke-width="1.3" />
<text transform="translate(254.84,1142.16) scale(0.96,1)" font-size="9.66" fill="#231f20" stroke="#231f20" stroke-width="0.12" text-anchor="middle" >16</text>
<line x1="276.7" y1="1125.9" x2="276.7" y2="1131.5" stroke="#151213" stroke-width="1.3" />
<text transform="translate(276.70,1142.16) scale(0.96,1)" font-size="9.66" fill="#231f20" stroke="#231f20" stroke-width="0.12" text-anchor="middle" >20</text>
<line x1="298.6" y1="1125.9" x2="298.6" y2="1131.5" stroke="#151213" stroke-width="1.3" />
<text transform="translate(298.57,1142.16) scale(0.96,1)" font-size="9.66" fill="#231f20" stroke="#231f20" stroke-width="0.12" text-anchor="middle" >24</text>
<line x1="320.4" y1="1125.9" x2="320.4" y2="1131.5" stroke="#151213" stroke-width="1.3" />
<text transform="translate(320.43,1142.16) scale(0.96,1)" font-size="9.66" fill="#231f20" stroke="#231f20" stroke-width="0.12" text-anchor="middle" >4</text>
<line x1="342.3" y1="1125.9" x2="342.3" y2="1131.5" stroke="#151213" stroke-width="1.3" />
<text transform="translate(342.30,1142.16) scale(0.96,1)" font-size="9.66" fill="#231f20" stroke="#231f20" stroke-width="0.12" text-anchor="middle" >8</text>
<line x1="364.2" y1="1125.9" x2="364.2" y2="1131.5" stroke="#151213" stroke-width="1.3" />
<text transform="translate(364.16,1142.16) scale(0.96,1)" font-size="9.66" fill="#231f20" stroke="#231f20" stroke-width="0.12" text-anchor="middle" >12</text>
<line x1="386.0" y1="1125.9" x2="386.0" y2="1131.5" stroke="#151213" stroke-width="1.3" />
<text transform="translate(386.02,1142.16) scale(0.96,1)" font-size="9.66" fill="#231f20" stroke="#231f20" stroke-width="0.12" text-anchor="middle" >16</text>
<line x1="407.9" y1="1125.9" x2="407.9" y2="1131.5" stroke="#151213" stroke-width="1.3" />
<text transform="translate(407.89,1142.16) scale(0.96,1)" font-size="9.66" fill="#231f20" stroke="#231f20" stroke-width="0.12" text-anchor="middle" >20</text>
<line x1="429.8" y1="1125.9" x2="429.8" y2="1131.5" stroke="#151213" stroke-width="1.3" />
<text transform="translate(429.75,1142.16) scale(0.96,1)" font-size="9.66" fill="#231f20" stroke="#231f20" stroke-width="0.12" text-anchor="middle" >24</text>
<line x1="451.6" y1="1125.9" x2="451.6" y2="1131.5" stroke="#151213" stroke-width="1.3" />
<text transform="translate(451.62,1142.16) scale(0.96,1)" font-size="9.66" fill="#231f20" stroke="#231f20" stroke-width="0.12" text-anchor="middle" >4</text>
<line x1="473.5" y1="1125.9" x2="473.5" y2="1131.5" stroke="#151213" stroke-width="1.3" />
<text transform="translate(473.48,1142.16) scale(0.96,1)" font-size="9.66" fill="#231f20" stroke="#231f20" stroke-width="0.12" text-anchor="middle" >8</text>
<line x1="495.3" y1="1125.9" x2="495.3" y2="1131.5" stroke="#151213" stroke-width="1.3" />
<text transform="translate(495.34,1142.16) scale(0.96,1)" font-size="9.66" fill="#231f20" stroke="#231f20" stroke-width="0.12" text-anchor="middle" >12</text>
<line x1="517.2" y1="1125.9" x2="517.2" y2="1131.5" stroke="#151213" stroke-width="1.3" />
<text transform="translate(517.21,1142.16) scale(0.96,1)" font-size="9.66" fill="#231f20" stroke="#231f20" stroke-width="0.12" text-anchor="middle" >16</text>
<line x1="539.1" y1="1125.9" x2="539.1" y2="1131.5" stroke="#151213" stroke-width="1.3" />
<text transform="translate(539.07,1142.16) scale(0.96,1)" font-size="9.66" fill="#231f20" stroke="#231f20" stroke-width="0.12" text-anchor="middle" >20</text>
<line x1="560.9" y1="1125.9" x2="560.9" y2="1131.5" stroke="#151213" stroke-width="1.3" />
<text transform="translate(560.94,1142.16) scale(0.96,1)" font-size="9.66" fill="#231f20" stroke="#231f20" stroke-width="0.12" text-anchor="middle" >24</text>
<text transform="translate(300.90,1154.36) scale(0.96,1)" font-size="9.66" fill="#231f20" stroke="#231f20" stroke-width="0.12" text-anchor="middle" >Time (ZT)</text>
<text transform="translate(8.90,1071.40) rotate(-90) scale(0.96,1)" font-size="9.66" fill="#231f20" stroke="#231f20" stroke-width="0.12" text-anchor="middle">Body temperature (°C)</text>
<polyline points="41.7,1046.9 47.1,1051.6 52.6,1052.7 58.1,1059.3 63.5,1060.2 69.0,1058.7 74.5,1053.7 79.9,1054.4 85.4,1055.6 90.9,1057.7 96.3,1051.5 101.8,1045.0 107.3,1031.5 112.7,1029.1 118.2,1029.9 123.7,1028.4 129.1,1030.4 134.6,1037.7 140.1,1035.3 145.5,1044.8 151.0,1042.1 156.5,1048.4 161.9,1037.9 167.4,1042.2 172.9,1044.2 178.3,1047.7 183.8,1051.0 189.2,1045.2 194.7,1054.9 200.2,1057.1 205.6,1054.7 211.1,1053.7 216.6,1057.3 222.0,1053.6 227.5,1057.3 233.0,1054.9 238.4,1033.3 243.9,1036.8 249.4,1027.6 254.8,1034.1 260.3,1029.4 265.8,1032.6 271.2,1034.8 276.7,1043.8 282.2,1042.0 287.6,1045.9 293.1,1042.1 298.6,1040.5 304.0,1043.7 309.5,1053.5 315.0,1052.7 320.4,1056.4 325.9,1056.5 331.4,1065.7 336.8,1064.7 342.3,1059.5 347.8,1064.8 353.2,1054.7 358.7,1055.0 364.2,1044.2 369.6,1043.1 375.1,1037.6 380.6,1021.8 386.0,1028.9 391.5,1024.7 397.0,1024.0 402.4,1029.3 407.9,1041.5 413.4,1046.4 418.8,1047.5 424.3,1043.4 429.8,1048.5 435.2,1040.9 440.7,1043.5 446.1,1042.6 451.6,1048.7 457.1,1051.8 462.5,1055.8 468.0,1053.3 473.5,1052.3 478.9,1054.1 484.4,1049.7 489.9,1046.7 495.3,1045.5 500.8,1047.5 506.3,1039.0 511.7,1040.2" fill="none" stroke="#5a5af0" stroke-width="1.1" stroke-linejoin="round" />
<polyline points="41.7,1046.0 47.1,1052.8 52.6,1057.2 58.1,1060.4 63.5,1062.5 69.0,1066.1 74.5,1059.2 79.9,1064.1 85.4,1053.6 90.9,1062.0 96.3,1052.9 101.8,1044.7 107.3,1037.3 112.7,1034.9 118.2,1029.0 123.7,1027.8 129.1,1031.0 134.6,1043.2 140.1,1042.3 145.5,1049.8 151.0,1045.6 156.5,1041.8 161.9,1043.6 167.4,1039.3 172.9,1041.9 178.3,1050.1 183.8,1059.7 189.2,1056.4 194.7,1060.2 200.2,1056.8 205.6,1052.0 211.1,1051.8 216.6,1052.9 222.0,1055.0 227.5,1053.6 233.0,1048.6 238.4,1033.1 243.9,1034.7 249.4,1034.1 254.8,1036.8 260.3,1033.3 265.8,1037.4 271.2,1036.7 276.7,1045.4 282.2,1047.9 287.6,1040.7 293.1,1043.2 298.6,1044.7 304.0,1046.0 309.5,1048.3 315.0,1043.5 320.4,1060.9 325.9,1057.6 331.4,1054.5 336.8,1060.3 342.3,1061.3 347.8,1062.3 353.2,1061.6 358.7,1057.8 364.2,1049.9 369.6,1039.6 375.1,1035.2 380.6,1033.1 386.0,1031.4 391.5,1024.9 397.0,1029.7 402.4,1031.5 407.9,1037.2 413.4,1045.4 418.8,1043.8 424.3,1044.9 429.8,1040.7 435.2,1047.6 440.7,1053.1 446.1,1049.2 451.6,1046.0 457.1,1048.4 462.5,1052.1 468.0,1050.5 473.5,1053.7 478.9,1054.6 484.4,1061.7 489.9,1058.1 495.3,1049.5 500.8,1044.4 506.3,1039.4 511.7,1034.1" fill="none" stroke="#5a5af0" stroke-width="1.1" stroke-linejoin="round" />
<polyline points="41.7,1047.9 47.1,1053.8 52.6,1050.0 58.1,1058.6 63.5,1058.6 69.0,1053.4 74.5,1050.0 79.9,1055.8 85.4,1050.6 90.9,1039.2 96.3,1049.9 101.8,1040.0 107.3,1033.3 112.7,1034.6 118.2,1039.3 123.7,1036.8 129.1,1040.8 134.6,1049.6 140.1,1044.7 145.5,1050.3 151.0,1050.1 156.5,1055.1 161.9,1049.4 167.4,1048.2 172.9,1050.4 178.3,1049.9 183.8,1055.6 189.2,1054.0 194.7,1056.9 200.2,1057.8 205.6,1053.7 211.1,1053.6 216.6,1060.2 222.0,1054.0 227.5,1048.8 233.0,1053.9 238.4,1044.1 243.9,1040.4 249.4,1035.9 254.8,1038.4 260.3,1039.1 265.8,1039.5 271.2,1042.4 276.7,1043.5 282.2,1046.3 287.6,1054.9 293.1,1047.1 298.6,1051.6 304.0,1052.4 309.5,1058.8 315.0,1063.0 320.4,1063.4 325.9,1062.7 331.4,1060.2 336.8,1059.4 342.3,1063.3 347.8,1064.5 353.2,1057.1 358.7,1056.5 364.2,1038.5 369.6,1044.1 375.1,1032.6 380.6,1024.7 386.0,1024.0 391.5,1024.1 397.0,1024.0 402.4,1034.6 407.9,1035.7 413.4,1042.1 418.8,1042.2 424.3,1047.7 429.8,1040.8 435.2,1039.8 440.7,1040.8 446.1,1048.9 451.6,1052.7 457.1,1049.6 462.5,1052.3 468.0,1052.7 473.5,1048.0 478.9,1051.8 484.4,1052.7 489.9,1048.8 495.3,1053.3 500.8,1044.6 506.3,1041.5 511.7,1037.9" fill="none" stroke="#5a5af0" stroke-width="1.1" stroke-linejoin="round" />
<polyline points="41.7,1050.0 47.1,1061.6 52.6,1060.1 58.1,1063.2 63.5,1056.5 69.0,1054.8 74.5,1052.6 79.9,1055.5 85.4,1057.0 90.9,1057.4 96.3,1051.9 101.8,1046.1 107.3,1040.6 112.7,1039.3 118.2,1030.6 123.7,1031.9 129.1,1030.7 134.6,1041.1 140.1,1032.3 145.5,1042.4 151.0,1043.6 156.5,1050.8 161.9,1044.2 167.4,1040.7 172.9,1042.9 178.3,1047.5 183.8,1050.6 189.2,1051.7 194.7,1062.1 200.2,1067.0 205.6,1061.2 211.1,1060.9 216.6,1054.0 222.0,1056.2 227.5,1048.9 233.0,1049.3 238.4,1034.7 243.9,1039.1 249.4,1031.9 254.8,1042.8 260.3,1033.8 265.8,1038.7 271.2,1037.0 276.7,1045.0 282.2,1041.8 287.6,1054.3 293.1,1039.9 298.6,1043.5 304.0,1045.7 309.5,1059.9 315.0,1059.7 320.4,1063.0 325.9,1065.3 331.4,1065.4 336.8,1066.1 342.3,1055.5 347.8,1054.7 353.2,1047.0 358.7,1053.6 364.2,1035.8 369.6,1038.0 375.1,1036.5 380.6,1026.1 386.0,1030.2 391.5,1026.5 397.0,1024.3 402.4,1032.5 407.9,1034.7 413.4,1038.9 418.8,1042.7 424.3,1039.0 429.8,1039.7 435.2,1041.2 440.7,1044.8 446.1,1051.8 451.6,1050.2 457.1,1050.8 462.5,1061.5 468.0,1058.0 473.5,1058.7 478.9,1059.3 484.4,1049.4 489.9,1051.1 495.3,1044.3 500.8,1043.8 506.3,1040.2 511.7,1035.6" fill="none" stroke="#5a5af0" stroke-width="1.1" stroke-linejoin="round" />
<polyline points="41.7,1051.9 47.1,1058.1 52.6,1062.5 58.1,1063.5 63.5,1060.7 69.0,1061.3 74.5,1053.1 79.9,1064.4 85.4,1057.7 90.9,1061.6 96.3,1056.6 101.8,1046.5 107.3,1039.0 112.7,1032.0 118.2,1032.0 123.7,1033.8 129.1,1036.8 134.6,1042.0 140.1,1043.0 145.5,1051.2 151.0,1055.3 156.5,1051.2 161.9,1048.7 167.4,1052.2 172.9,1049.5 178.3,1048.7 183.8,1049.4 189.2,1052.5 194.7,1060.7 200.2,1056.7 205.6,1051.3 211.1,1055.7 216.6,1060.5 222.0,1063.9 227.5,1055.4 233.0,1059.1 238.4,1036.7 243.9,1037.0 249.4,1029.1 254.8,1037.1 260.3,1031.8 265.8,1038.1 271.2,1039.9 276.7,1049.7 282.2,1050.8 287.6,1048.2 293.1,1042.7 298.6,1043.9 304.0,1050.9 309.5,1054.9 315.0,1058.4 320.4,1062.9 325.9,1069.6 331.4,1060.9 336.8,1066.5 342.3,1062.9 347.8,1058.6 353.2,1062.5 358.7,1062.9 364.2,1038.5 369.6,1043.9 375.1,1037.1 380.6,1026.6 386.0,1026.7 391.5,1020.1 397.0,1027.1 402.4,1031.6 407.9,1030.9 413.4,1045.0 418.8,1045.6 424.3,1041.8 429.8,1035.9 435.2,1043.8 440.7,1036.9 446.1,1043.3 451.6,1050.9 457.1,1050.9 462.5,1054.5 468.0,1055.8 473.5,1054.9 478.9,1052.3 484.4,1050.3 489.9,1052.9 495.3,1048.4 500.8,1045.4 506.3,1041.6 511.7,1045.5" fill="none" stroke="#5a5af0" stroke-width="1.1" stroke-linejoin="round" />
<polyline points="41.7,1052.5 47.1,1065.3 52.6,1061.7 58.1,1060.1 63.5,1058.8 69.0,1058.6 74.5,1051.1 79.9,1060.0 85.4,1056.7 90.9,1057.6 96.3,1044.9 101.8,1043.5 107.3,1030.8 112.7,1033.5 118.2,1026.8 123.7,1034.2 129.1,1029.7 134.6,1040.6 140.1,1043.4 145.5,1044.8 151.0,1047.1 156.5,1044.7 161.9,1047.2 167.4,1040.3 172.9,1051.8 178.3,1050.9 183.8,1049.5 189.2,1060.0 194.7,1066.2 200.2,1054.7 205.6,1057.9 211.1,1059.1 216.6,1056.1 222.0,1061.9 227.5,1054.7 233.0,1055.5 238.4,1042.8 243.9,1040.2 249.4,1028.8 254.8,1036.3 260.3,1038.4 265.8,1043.1 271.2,1037.8 276.7,1045.0 282.2,1043.7 287.6,1044.4 293.1,1050.6 298.6,1047.7 304.0,1051.6 309.5,1052.7 315.0,1052.2 320.4,1064.4 325.9,1066.9 331.4,1055.8 336.8,1056.8 342.3,1058.4 347.8,1061.8 353.2,1060.8 358.7,1061.4 364.2,1043.9 369.6,1044.8 375.1,1039.3 380.6,1039.4 386.0,1036.3 391.5,1032.1 397.0,1035.8 402.4,1040.0 407.9,1037.9 413.4,1046.5 418.8,1051.1 424.3,1052.2 429.8,1042.1 435.2,1049.6 440.7,1046.7 446.1,1050.2 451.6,1051.2 457.1,1051.0 462.5,1056.6 468.0,1060.8 473.5,1056.0 478.9,1055.6 484.4,1060.2 489.9,1048.7 495.3,1049.8 500.8,1050.3 506.3,1042.9 511.7,1037.9" fill="none" stroke="#5a5af0" stroke-width="1.1" stroke-linejoin="round" />
<polyline points="41.7,1053.1 47.1,1064.0 52.6,1059.0 58.1,1060.2 63.5,1060.9 69.0,1060.7 74.5,1063.1 79.9,1065.2 85.4,1048.3 90.9,1051.9 96.3,1043.0 101.8,1041.8 107.3,1026.1 112.7,1021.7 118.2,1029.2 123.7,1031.4 129.1,1037.6 134.6,1043.2 140.1,1039.6 145.5,1052.7 151.0,1047.1 156.5,1046.6 161.9,1046.0 167.4,1038.6 172.9,1045.2 178.3,1055.5 183.8,1057.2 189.2,1059.4 194.7,1061.6 200.2,1054.3 205.6,1054.7 211.1,1050.7 216.6,1058.8 222.0,1053.5 227.5,1052.8 233.0,1047.5 238.4,1031.3 243.9,1034.4 249.4,1031.1 254.8,1031.6 260.3,1032.0 265.8,1034.0 271.2,1032.9 276.7,1046.8 282.2,1047.0 287.6,1048.4 293.1,1041.2 298.6,1043.3 304.0,1048.4 309.5,1051.7 315.0,1052.8 320.4,1057.4 325.9,1055.8 331.4,1053.1 336.8,1057.9 342.3,1060.3 347.8,1051.6 353.2,1054.2 358.7,1053.4 364.2,1037.4 369.6,1038.1 375.1,1038.0 380.6,1025.8 386.0,1025.4 391.5,1022.7 397.0,1023.8 402.4,1028.9 407.9,1027.3 413.4,1039.6 418.8,1035.2 424.3,1036.8 429.8,1041.8 435.2,1051.8 440.7,1047.3 446.1,1046.7 451.6,1050.5 457.1,1044.3 462.5,1050.9 468.0,1048.3 473.5,1054.0 478.9,1048.9 484.4,1049.2 489.9,1051.7 495.3,1044.8 500.8,1044.5 506.3,1039.0 511.7,1040.6" fill="none" stroke="#5a5af0" stroke-width="1.1" stroke-linejoin="round" />
<polyline points="41.7,1052.5 47.1,1058.2 52.6,1053.8 58.1,1049.2 63.5,1057.4 69.0,1056.5 74.5,1055.5 79.9,1053.7 85.4,1053.0 90.9,1053.5 96.3,1054.2 101.8,1045.1 107.3,1037.2 112.7,1031.8 118.2,1034.0 123.7,1036.9 129.1,1040.2 134.6,1042.9 140.1,1049.2 145.5,1046.8 151.0,1047.2 156.5,1050.7 161.9,1044.7 167.4,1043.3 172.9,1038.8 178.3,1049.3 183.8,1048.2 189.2,1053.3 194.7,1059.7 200.2,1058.0 205.6,1058.7 211.1,1051.4 216.6,1058.8 222.0,1051.3 227.5,1060.1 233.0,1057.4 238.4,1037.7 243.9,1038.0 249.4,1039.0 254.8,1042.5 260.3,1038.1 265.8,1043.3 271.2,1043.1 276.7,1050.0 282.2,1052.4 287.6,1054.4 293.1,1045.8 298.6,1046.3 304.0,1043.2 309.5,1057.4 315.0,1060.0 320.4,1064.8 325.9,1064.7 331.4,1059.4 336.8,1065.7 342.3,1067.6 347.8,1053.1 353.2,1055.8 358.7,1056.1 364.2,1039.7 369.6,1035.5 375.1,1036.1 380.6,1028.2 386.0,1025.5 391.5,1024.0 397.0,1031.2 402.4,1039.0 407.9,1040.6 413.4,1037.7 418.8,1047.0 424.3,1047.6 429.8,1042.9 435.2,1046.8 440.7,1045.4 446.1,1049.2 451.6,1051.2 457.1,1047.6 462.5,1041.8 468.0,1045.4 473.5,1050.8 478.9,1055.5 484.4,1049.3 489.9,1050.2 495.3,1044.9 500.8,1049.0 506.3,1049.7 511.7,1044.0" fill="none" stroke="#5a5af0" stroke-width="1.1" stroke-linejoin="round" />
<polyline points="41.7,1040.3 47.1,1047.8 52.6,1044.3 58.1,1052.8 63.5,1044.4 69.0,1047.9 74.5,1051.2 79.9,1045.3 85.4,1052.0 90.9,1056.2 96.3,1050.6 101.8,1049.5 107.3,1047.2 112.7,1029.6 118.2,1037.5 123.7,1037.3 129.1,1041.1 134.6,1035.3 140.1,1039.3 145.5,1042.5 151.0,1036.3 156.5,1037.8 161.9,1048.0 167.4,1038.1 172.9,1050.4 178.3,1045.3 183.8,1051.7 189.2,1055.4 194.7,1050.9 200.2,1050.5 205.6,1053.6 211.1,1054.6 216.6,1050.4 222.0,1047.0 227.5,1046.8 233.0,1040.4 238.4,1035.4 243.9,1042.0 249.4,1039.9 254.8,1041.4 260.3,1035.9 265.8,1036.8 271.2,1039.5 276.7,1043.4 282.2,1049.0 287.6,1044.0 293.1,1039.7 298.6,1036.4 304.0,1052.6 309.5,1054.7 315.0,1059.8 320.4,1057.8 325.9,1056.0 331.4,1062.4 336.8,1052.5 342.3,1056.6 347.8,1054.4 353.2,1055.6 358.7,1053.4 364.2,1042.2 369.6,1050.3 375.1,1037.6 380.6,1042.5 386.0,1044.6 391.5,1044.2 397.0,1050.5 402.4,1049.2 407.9,1046.8 413.4,1045.4 418.8,1052.0 424.3,1040.7 429.8,1036.3 435.2,1038.3 440.7,1045.4 446.1,1051.1 451.6,1050.1 457.1,1052.3 462.5,1054.6 468.0,1051.1 473.5,1053.5 478.9,1052.4 484.4,1042.9 489.9,1037.8 495.3,1039.7 500.8,1040.6 506.3,1031.3 511.7,1030.3 517.2,1020.9 522.7,1025.8 528.1,1033.9 533.6,1040.7 539.1,1054.4 544.5,1045.7 550.0,1034.7 555.5,1039.7 560.9,1041.7" fill="none" stroke="#f79a4c" stroke-width="1.1" stroke-linejoin="round" />
<polyline points="41.7,1051.4 47.1,1058.3 52.6,1053.0 58.1,1060.5 63.5,1054.4 69.0,1051.2 74.5,1052.7 79.9,1057.4 85.4,1062.8 90.9,1062.8 96.3,1057.2 101.8,1050.3 107.3,1043.2 112.7,1034.8 118.2,1034.4 123.7,1041.0 129.1,1041.6 134.6,1037.2 140.1,1046.4 145.5,1050.2 151.0,1049.5 156.5,1043.9 161.9,1032.5 167.4,1043.0 172.9,1044.9 178.3,1048.2 183.8,1048.4 189.2,1055.0 194.7,1058.5 200.2,1064.5 205.6,1061.1 211.1,1057.7 216.6,1053.6 222.0,1054.3 227.5,1047.3 233.0,1050.7 238.4,1039.6 243.9,1038.4 249.4,1032.6 254.8,1034.9 260.3,1036.6 265.8,1039.4 271.2,1040.4 276.7,1044.9 282.2,1052.1 287.6,1041.0 293.1,1041.4 298.6,1046.3 304.0,1062.2 309.5,1061.4 315.0,1064.5 320.4,1061.8 325.9,1065.4 331.4,1066.0 336.8,1062.3 342.3,1061.4 347.8,1058.9 353.2,1063.6 358.7,1062.2 364.2,1047.0 369.6,1049.7 375.1,1052.9 380.6,1051.5 386.0,1052.5 391.5,1049.6 397.0,1042.8 402.4,1041.3 407.9,1045.1 413.4,1049.4 418.8,1047.6 424.3,1038.9 429.8,1040.0 435.2,1042.6 440.7,1055.2 446.1,1061.4 451.6,1054.5 457.1,1055.4 462.5,1053.2 468.0,1043.3 473.5,1051.0 478.9,1048.0 484.4,1053.0 489.9,1047.1 495.3,1052.2 500.8,1049.1 506.3,1037.4 511.7,1036.7 517.2,1028.6 522.7,1034.6 528.1,1037.8 533.6,1046.6 539.1,1059.5 544.5,1051.9 550.0,1041.5 555.5,1045.0 560.9,1046.3" fill="none" stroke="#f79a4c" stroke-width="1.1" stroke-linejoin="round" />
<polyline points="41.7,1050.3 47.1,1051.5 52.6,1057.9 58.1,1060.8 63.5,1054.6 69.0,1057.7 74.5,1048.8 79.9,1051.5 85.4,1055.2 90.9,1055.2 96.3,1054.5 101.8,1055.7 107.3,1042.7 112.7,1036.1 118.2,1032.9 123.7,1041.1 129.1,1039.2 134.6,1039.3 140.1,1034.2 145.5,1041.7 151.0,1047.7 156.5,1031.8 161.9,1034.8 167.4,1034.7 172.9,1040.9 178.3,1050.9 183.8,1059.3 189.2,1053.7 194.7,1053.4 200.2,1060.2 205.6,1048.3 211.1,1048.7 216.6,1049.0 222.0,1053.1 227.5,1057.1 233.0,1053.9 238.4,1036.4 243.9,1041.6 249.4,1038.2 254.8,1041.5 260.3,1043.1 265.8,1043.2 271.2,1050.3 276.7,1047.0 282.2,1043.8 287.6,1046.7 293.1,1040.2 298.6,1043.0 304.0,1052.5 309.5,1047.3 315.0,1063.0 320.4,1055.2 325.9,1051.8 331.4,1056.4 336.8,1059.5 342.3,1057.2 347.8,1056.5 353.2,1057.6 358.7,1058.0 364.2,1047.6 369.6,1047.3 375.1,1046.5 380.6,1051.6 386.0,1049.3 391.5,1043.4 397.0,1039.0 402.4,1043.5 407.9,1046.1 413.4,1043.1 418.8,1042.8 424.3,1043.0 429.8,1033.2 435.2,1039.4 440.7,1049.1 446.1,1057.5 451.6,1045.5 457.1,1051.3 462.5,1051.7 468.0,1049.2 473.5,1051.3 478.9,1048.0 484.4,1045.6 489.9,1049.9 495.3,1038.5 500.8,1040.1 506.3,1030.0 511.7,1034.1 517.2,1035.1 522.7,1032.6 528.1,1040.7 533.6,1048.0 539.1,1053.2 544.5,1055.6 550.0,1044.9 555.5,1035.7 560.9,1036.5" fill="none" stroke="#f79a4c" stroke-width="1.1" stroke-linejoin="round" />
<polyline points="41.7,1052.8 47.1,1053.0 52.6,1046.4 58.1,1052.6 63.5,1058.8 69.0,1053.4 74.5,1053.2 79.9,1051.3 85.4,1056.5 90.9,1060.9 96.3,1055.5 101.8,1049.1 107.3,1051.2 112.7,1040.7 118.2,1033.1 123.7,1038.2 129.1,1039.8 134.6,1043.8 140.1,1046.8 145.5,1051.9 151.0,1051.0 156.5,1043.4 161.9,1039.5 167.4,1032.5 172.9,1049.0 178.3,1046.2 183.8,1050.2 189.2,1048.3 194.7,1059.7 200.2,1060.4 205.6,1058.6 211.1,1059.1 216.6,1054.0 222.0,1048.7 227.5,1045.2 233.0,1047.3 238.4,1043.1 243.9,1034.0 249.4,1036.5 254.8,1040.1 260.3,1042.3 265.8,1045.6 271.2,1045.8 276.7,1044.0 282.2,1044.8 287.6,1040.8 293.1,1041.2 298.6,1041.2 304.0,1056.4 309.5,1052.2 315.0,1056.4 320.4,1056.2 325.9,1056.1 331.4,1055.1 336.8,1049.8 342.3,1058.3 347.8,1054.3 353.2,1050.7 358.7,1059.6 364.2,1045.7 369.6,1059.1 375.1,1052.6 380.6,1049.0 386.0,1046.7 391.5,1043.0 397.0,1044.8 402.4,1045.3 407.9,1054.7 413.4,1053.5 418.8,1051.7 424.3,1046.2 429.8,1039.3 435.2,1044.4 440.7,1051.8 446.1,1055.2 451.6,1055.1 457.1,1051.1 462.5,1052.7 468.0,1052.4 473.5,1050.0 478.9,1053.3 484.4,1049.3 489.9,1043.4 495.3,1039.7 500.8,1027.4 506.3,1035.3 511.7,1034.9 517.2,1034.1 522.7,1035.6 528.1,1037.5 533.6,1041.9 539.1,1040.1 544.5,1038.5 550.0,1033.9 555.5,1041.8 560.9,1041.5" fill="none" stroke="#f79a4c" stroke-width="1.1" stroke-linejoin="round" />
<polyline points="41.7,1040.9 47.1,1052.9 52.6,1062.1 58.1,1064.3 63.5,1061.2 69.0,1064.9 74.5,1060.0 79.9,1057.6 85.4,1057.8 90.9,1061.8 96.3,1058.9 101.8,1056.5 107.3,1041.3 112.7,1037.3 118.2,1034.4 123.7,1040.3 129.1,1045.4 134.6,1050.7 140.1,1042.1 145.5,1056.1 151.0,1050.9 156.5,1043.9 161.9,1041.1 167.4,1040.0 172.9,1050.3 178.3,1060.1 183.8,1060.8 189.2,1054.8 194.7,1053.7 200.2,1056.1 205.6,1052.1 211.1,1057.6 216.6,1063.4 222.0,1057.0 227.5,1051.9 233.0,1054.8 238.4,1047.2 243.9,1036.0 249.4,1036.9 254.8,1046.4 260.3,1047.9 265.8,1047.9 271.2,1044.2 276.7,1040.9 282.2,1049.7 287.6,1044.6 293.1,1043.1 298.6,1038.5 304.0,1048.5 309.5,1054.1 315.0,1061.5 320.4,1055.9 325.9,1057.5 331.4,1058.6 336.8,1061.5 342.3,1061.4 347.8,1057.7 353.2,1054.3 358.7,1054.9 364.2,1039.7 369.6,1051.0 375.1,1051.6 380.6,1049.1 386.0,1054.2 391.5,1052.8 397.0,1049.5 402.4,1051.6 407.9,1047.8 413.4,1055.9 418.8,1053.8 424.3,1046.3 429.8,1041.6 435.2,1046.0 440.7,1056.1 446.1,1049.7 451.6,1048.2 457.1,1046.1 462.5,1053.1 468.0,1048.6 473.5,1052.1 478.9,1057.9 484.4,1052.2 489.9,1048.8 495.3,1045.2 500.8,1037.0 506.3,1032.3 511.7,1042.2 517.2,1032.1 522.7,1033.8 528.1,1040.7 533.6,1040.0 539.1,1046.2 544.5,1051.0 550.0,1043.1 555.5,1039.2 560.9,1038.6" fill="none" stroke="#f79a4c" stroke-width="1.1" stroke-linejoin="round" />
<polyline points="41.7,1051.3 47.1,1049.7 52.6,1053.1 58.1,1064.1 63.5,1050.6 69.0,1055.3 74.5,1052.5 79.9,1050.9 85.4,1052.2 90.9,1051.8 96.3,1057.4 101.8,1059.7 107.3,1046.1 112.7,1028.6 118.2,1020.8 123.7,1032.7 129.1,1040.2 134.6,1046.9 140.1,1046.8 145.5,1056.6 151.0,1049.7 156.5,1037.2 161.9,1036.1 167.4,1042.5 172.9,1045.6 178.3,1052.3 183.8,1056.0 189.2,1055.0 194.7,1056.7 200.2,1058.0 205.6,1058.3 211.1,1061.7 216.6,1054.0 222.0,1056.4 227.5,1053.2 233.0,1048.9 238.4,1040.9 243.9,1039.9 249.4,1031.2 254.8,1037.7 260.3,1042.2 265.8,1040.9 271.2,1050.6 276.7,1047.6 282.2,1054.0 287.6,1051.0 293.1,1045.0 298.6,1048.0 304.0,1062.0 309.5,1055.0 315.0,1058.8 320.4,1061.9 325.9,1057.7 331.4,1056.6 336.8,1053.8 342.3,1056.3 347.8,1054.2 353.2,1064.6 358.7,1062.7 364.2,1053.0 369.6,1055.9 375.1,1047.7 380.6,1044.7 386.0,1049.2 391.5,1042.1 397.0,1041.5 402.4,1042.0 407.9,1047.9 413.4,1052.4 418.8,1055.8 424.3,1048.7 429.8,1036.1 435.2,1038.8 440.7,1049.7 446.1,1051.5 451.6,1055.6 457.1,1055.3 462.5,1053.9 468.0,1056.6 473.5,1055.5 478.9,1058.8 484.4,1057.7 489.9,1053.3 495.3,1052.3 500.8,1043.5 506.3,1044.2 511.7,1040.1 517.2,1041.6 522.7,1038.2 528.1,1033.4 533.6,1035.2 539.1,1046.6 544.5,1042.2 550.0,1038.3 555.5,1039.4 560.9,1035.1" fill="none" stroke="#f79a4c" stroke-width="1.1" stroke-linejoin="round" />
<polyline points="41.7,1057.8 47.1,1054.7 52.6,1058.9 58.1,1058.7 63.5,1057.9 69.0,1056.0 74.5,1056.3 79.9,1054.5 85.4,1057.5 90.9,1060.3 96.3,1057.2 101.8,1050.3 107.3,1040.0 112.7,1035.9 118.2,1034.8 123.7,1043.1 129.1,1045.8 134.6,1044.8 140.1,1041.0 145.5,1047.3 151.0,1049.4 156.5,1055.3 161.9,1048.0 167.4,1052.5 172.9,1056.8 178.3,1059.7 183.8,1056.2 189.2,1062.4 194.7,1061.0 200.2,1060.0 205.6,1055.0 211.1,1053.3 216.6,1054.1 222.0,1056.9 227.5,1061.8 233.0,1060.2 238.4,1053.3 243.9,1046.5 249.4,1035.0 254.8,1036.9 260.3,1038.2 265.8,1037.3 271.2,1039.9 276.7,1043.8 282.2,1053.1 287.6,1047.9 293.1,1041.3 298.6,1038.8 304.0,1050.5 309.5,1051.3 315.0,1050.1 320.4,1055.1 325.9,1052.6 331.4,1051.1 336.8,1053.5 342.3,1069.5 347.8,1067.9 353.2,1062.4 358.7,1060.0 364.2,1046.0 369.6,1048.9 375.1,1050.5 380.6,1051.5 386.0,1054.0 391.5,1057.2 397.0,1055.1 402.4,1054.3 407.9,1055.1 413.4,1054.7 418.8,1047.1 424.3,1042.4 429.8,1044.6 435.2,1049.5 440.7,1052.6 446.1,1053.5 451.6,1054.8 457.1,1051.5 462.5,1056.8 468.0,1056.5 473.5,1058.3 478.9,1060.4 484.4,1058.5 489.9,1049.4 495.3,1048.1 500.8,1046.0 506.3,1032.7 511.7,1033.2 517.2,1026.6 522.7,1035.1 528.1,1033.8 533.6,1041.4 539.1,1040.6 544.5,1051.2 550.0,1043.4 555.5,1043.2 560.9,1044.3" fill="none" stroke="#f79a4c" stroke-width="1.1" stroke-linejoin="round" />
<polyline points="41.7,1047.3 47.1,1048.6 52.6,1059.9 58.1,1055.6 63.5,1058.3 69.0,1059.5 74.5,1055.7 79.9,1050.3 85.4,1050.9 90.9,1051.2 96.3,1050.4 101.8,1047.0 107.3,1045.0 112.7,1034.0 118.2,1032.7 123.7,1034.7 129.1,1044.1 134.6,1047.6 140.1,1049.7 145.5,1051.2 151.0,1042.7 156.5,1043.7 161.9,1041.5 167.4,1037.8 172.9,1044.3 178.3,1055.7 183.8,1057.8 189.2,1046.1 194.7,1044.2 200.2,1046.1 205.6,1062.6 211.1,1059.3 216.6,1048.9 222.0,1053.0 227.5,1050.2 233.0,1053.0 238.4,1037.9 243.9,1048.1 249.4,1044.6 254.8,1039.7 260.3,1045.2 265.8,1045.6 271.2,1045.8 276.7,1051.9 282.2,1056.5 287.6,1047.3 293.1,1035.7 298.6,1045.0 304.0,1047.2 309.5,1049.2 315.0,1056.6 320.4,1055.9 325.9,1055.8 331.4,1060.1 336.8,1059.9 342.3,1065.7 347.8,1063.5 353.2,1056.4 358.7,1055.5 364.2,1038.8 369.6,1051.6 375.1,1048.6 380.6,1043.2 386.0,1045.3 391.5,1046.0 397.0,1045.2 402.4,1049.7 407.9,1042.8 413.4,1049.9 418.8,1048.1 424.3,1048.2 429.8,1043.6 435.2,1047.5 440.7,1054.5 446.1,1058.7 451.6,1053.5 457.1,1056.6 462.5,1054.1 468.0,1049.0 473.5,1051.6 478.9,1056.2 484.4,1050.1 489.9,1049.6 495.3,1039.9 500.8,1036.5 506.3,1040.4 511.7,1046.7 517.2,1040.5 522.7,1037.1 528.1,1042.8 533.6,1047.6 539.1,1051.0 544.5,1044.3 550.0,1036.7 555.5,1039.2 560.9,1033.5" fill="none" stroke="#f79a4c" stroke-width="1.1" stroke-linejoin="round" />
<polyline points="41.7,1043.2 47.1,1051.4 52.6,1053.3 58.1,1058.8 63.5,1058.8 69.0,1053.8 74.5,1057.7 79.9,1062.3 85.4,1060.9 90.9,1047.7 96.3,1048.0 101.8,1050.7 107.3,1039.1 112.7,1034.5 118.2,1033.9 123.7,1036.3 129.1,1041.4 134.6,1043.2 140.1,1042.2 145.5,1051.3 151.0,1059.6 156.5,1054.1 161.9,1042.8 167.4,1041.7 172.9,1046.9 178.3,1055.7 183.8,1051.2 189.2,1055.3 194.7,1052.6 200.2,1057.4 205.6,1063.2 211.1,1063.1 216.6,1067.2 222.0,1071.2 227.5,1066.7 233.0,1065.4 238.4,1046.7 243.9,1044.7 249.4,1039.4 254.8,1042.4 260.3,1049.3 265.8,1046.9 271.2,1044.1 276.7,1047.0 282.2,1042.6 287.6,1043.9 293.1,1043.6 298.6,1044.7 304.0,1052.1 309.5,1058.4 315.0,1058.5 320.4,1053.0 325.9,1055.4 331.4,1055.7 336.8,1053.5 342.3,1061.6 347.8,1056.5 353.2,1057.0 358.7,1055.5 364.2,1042.1 369.6,1047.3 375.1,1050.6 380.6,1041.7 386.0,1051.5 391.5,1049.1 397.0,1049.6 402.4,1048.0 407.9,1054.9 413.4,1056.2 418.8,1057.7 424.3,1051.9 429.8,1042.0 435.2,1051.4 440.7,1058.3 446.1,1059.9 451.6,1049.9 457.1,1057.4 462.5,1051.8 468.0,1053.1 473.5,1059.3 478.9,1053.5 484.4,1052.7 489.9,1051.8 495.3,1047.9 500.8,1048.3 506.3,1040.4 511.7,1035.4 517.2,1032.8 522.7,1034.4 528.1,1042.9 533.6,1049.4 539.1,1054.6 544.5,1055.5 550.0,1039.8 555.5,1041.6 560.9,1043.4" fill="none" stroke="#f79a4c" stroke-width="1.1" stroke-linejoin="round" />
<polyline points="41.7,1046.9 47.1,1054.8 52.6,1062.6 58.1,1070.7 63.5,1051.4 69.0,1053.0 74.5,1051.8 79.9,1058.5 85.4,1059.0 90.9,1058.6 96.3,1054.7 101.8,1046.4 107.3,1041.7 112.7,1032.1 118.2,1033.1 123.7,1039.7 129.1,1045.3 134.6,1040.6 140.1,1042.0 145.5,1048.8 151.0,1044.4 156.5,1046.3 161.9,1045.6 167.4,1043.9 172.9,1043.4 178.3,1048.2 183.8,1056.3 189.2,1056.3 194.7,1063.0 200.2,1057.0 205.6,1054.5 211.1,1056.4 216.6,1054.6 222.0,1062.9 227.5,1063.1 233.0,1058.1 238.4,1051.2 243.9,1043.0 249.4,1038.2 254.8,1042.2 260.3,1044.6 265.8,1046.7 271.2,1047.7 276.7,1048.7 282.2,1049.9 287.6,1046.7 293.1,1043.6 298.6,1039.4 304.0,1048.2 309.5,1050.7 315.0,1062.7 320.4,1059.6 325.9,1058.8 331.4,1056.3 336.8,1056.9 342.3,1063.4 347.8,1055.2 353.2,1055.6 358.7,1057.3 364.2,1045.4 369.6,1048.6 375.1,1050.0 380.6,1046.5 386.0,1044.6 391.5,1048.9 397.0,1048.9 402.4,1051.4 407.9,1052.6 413.4,1054.6 418.8,1049.0 424.3,1050.3 429.8,1049.0 435.2,1047.4 440.7,1054.6 446.1,1053.8 451.6,1052.9 457.1,1045.1 462.5,1058.0 468.0,1052.5 473.5,1053.2 478.9,1056.8 484.4,1053.5 489.9,1054.4 495.3,1050.3 500.8,1034.5 506.3,1039.7 511.7,1043.8 517.2,1037.5 522.7,1021.4 528.1,1030.0 533.6,1048.9 539.1,1052.9 544.5,1050.6 550.0,1046.9 555.5,1043.8 560.9,1051.2" fill="none" stroke="#f79a4c" stroke-width="1.1" stroke-linejoin="round" />
<polyline points="41.7,1051.9 47.1,1049.7 52.6,1052.7 58.1,1053.3 63.5,1060.2 69.0,1059.6 74.5,1055.9 79.9,1052.4 85.4,1052.2 90.9,1055.4 96.3,1059.5 101.8,1049.4 107.3,1046.9 112.7,1034.0 118.2,1028.7 123.7,1037.3 129.1,1042.3 134.6,1033.7 140.1,1039.2 145.5,1043.1 151.0,1044.8 156.5,1036.3 161.9,1039.3 167.4,1041.5 172.9,1050.2 178.3,1054.3 183.8,1052.3 189.2,1051.1 194.7,1055.2 200.2,1050.1 205.6,1047.9 211.1,1051.2 216.6,1048.4 222.0,1051.6 227.5,1056.9 233.0,1056.2 238.4,1042.5 243.9,1042.1 249.4,1042.7 254.8,1032.2 260.3,1033.1 265.8,1039.7 271.2,1046.0 276.7,1043.9 282.2,1050.0 287.6,1039.6 293.1,1045.4 298.6,1053.1 304.0,1058.8 309.5,1063.3 315.0,1065.5 320.4,1061.9 325.9,1060.3 331.4,1061.9 336.8,1065.7 342.3,1062.0 347.8,1052.8 353.2,1051.4 358.7,1050.7 364.2,1048.0 369.6,1050.1 375.1,1050.5 380.6,1050.4 386.0,1046.3 391.5,1050.8 397.0,1052.3 402.4,1052.7 407.9,1054.0 413.4,1050.0 418.8,1046.7 424.3,1052.5 429.8,1042.8 435.2,1047.5 440.7,1055.4 446.1,1058.7 451.6,1054.0 457.1,1051.9 462.5,1057.8 468.0,1053.0 473.5,1060.8 478.9,1062.3 484.4,1060.1 489.9,1049.4 495.3,1043.3 500.8,1043.9 506.3,1037.6 511.7,1028.9 517.2,1025.0 522.7,1025.1 528.1,1032.8 533.6,1037.0 539.1,1043.2 544.5,1040.7 550.0,1047.5 555.5,1052.1 560.9,1054.5" fill="none" stroke="#f79a4c" stroke-width="1.1" stroke-linejoin="round" />
<polyline points="41.7,1053.3 47.1,1052.3 52.6,1051.8 58.1,1058.4 63.5,1061.7 69.0,1058.0 74.5,1062.4 79.9,1056.8 85.4,1061.8 90.9,1053.2 96.3,1050.4 101.8,1048.5 107.3,1047.0 112.7,1039.3 118.2,1035.6 123.7,1039.8 129.1,1040.9 134.6,1031.5 140.1,1044.0 145.5,1048.6 151.0,1040.1 156.5,1045.2 161.9,1048.6 167.4,1046.1 172.9,1055.5 178.3,1055.5 183.8,1052.2 189.2,1050.2 194.7,1057.9 200.2,1059.5 205.6,1049.7 211.1,1055.4 216.6,1050.2 222.0,1055.6 227.5,1054.7 233.0,1051.2 238.4,1037.2 243.9,1043.2 249.4,1040.5 254.8,1041.6 260.3,1036.2 265.8,1046.4 271.2,1054.3 276.7,1045.5 282.2,1043.6 287.6,1042.2 293.1,1038.8 298.6,1043.7 304.0,1050.9 309.5,1053.0 315.0,1055.1 320.4,1052.4 325.9,1050.8 331.4,1046.1 336.8,1044.9 342.3,1052.2 347.8,1054.9 353.2,1057.7 358.7,1056.7 364.2,1046.0 369.6,1047.6 375.1,1042.7 380.6,1052.8 386.0,1044.2 391.5,1050.4 397.0,1051.1 402.4,1055.7 407.9,1044.5 413.4,1047.9 418.8,1050.0 424.3,1045.2 429.8,1047.4 435.2,1044.7 440.7,1049.4 446.1,1046.9 451.6,1048.6 457.1,1051.8 462.5,1052.3 468.0,1047.6 473.5,1054.4 478.9,1056.9 484.4,1053.4 489.9,1046.4 495.3,1051.6 500.8,1040.0 506.3,1036.0 511.7,1034.1 517.2,1035.8 522.7,1032.1 528.1,1037.2 533.6,1045.7 539.1,1053.1 544.5,1055.6 550.0,1049.7 555.5,1041.6 560.9,1052.8" fill="none" stroke="#f79a4c" stroke-width="1.1" stroke-linejoin="round" />
<polyline points="41.7,1048.3 47.1,1054.7 52.6,1053.4 58.1,1051.0 63.5,1051.7 69.0,1050.7 74.5,1057.9 79.9,1056.8 85.4,1053.5 90.9,1052.2 96.3,1060.5 101.8,1051.7 107.3,1035.8 112.7,1033.6 118.2,1030.3 123.7,1034.5 129.1,1048.1 134.6,1040.8 140.1,1042.4 145.5,1045.0 151.0,1042.0 156.5,1042.6 161.9,1044.3 167.4,1041.7 172.9,1047.6 178.3,1051.0 183.8,1054.7 189.2,1050.0 194.7,1060.8 200.2,1054.1 205.6,1049.4 211.1,1054.0 216.6,1050.4 222.0,1057.0 227.5,1055.6 233.0,1058.7 238.4,1039.5 243.9,1037.3 249.4,1031.4 254.8,1035.6 260.3,1039.5 265.8,1042.1 271.2,1048.2 276.7,1043.1 282.2,1049.0 287.6,1045.9 293.1,1040.8 298.6,1044.1 304.0,1047.6 309.5,1059.0 315.0,1056.3 320.4,1064.2 325.9,1058.0 331.4,1056.6 336.8,1062.3 342.3,1057.6 347.8,1056.3 353.2,1059.6 358.7,1055.5 364.2,1037.4 369.6,1066.5 375.1,1078.6 380.6,1088.3 386.0,1095.6 391.5,1104.1 397.0,1111.3 402.4,1099.2 407.9,1089.5 413.4,1085.9 418.8,1083.4 424.3,1081.0 429.8,1079.2 435.2,1076.2 440.7,1073.7 446.1,1071.3 451.6,1067.7 457.1,1065.2 462.5,1064.0 468.0,1061.6 473.5,1060.4 478.9,1059.2 484.4,1058.0 489.9,1058.0 495.3,1056.8 500.8,1038.4 506.3,1037.7 511.7,1037.4 517.2,1034.2 522.7,1039.1 528.1,1029.1 533.6,1036.8 539.1,1042.3 544.5,1044.0 550.0,1044.9 555.5,1038.7 560.9,1040.1" fill="none" stroke="#f79a4c" stroke-width="1.1" stroke-linejoin="round" />
<polyline points="41.7,1051.1 47.1,1057.8 52.6,1061.3 58.1,1054.8 63.5,1052.9 69.0,1050.3 74.5,1044.5 79.9,1052.6 85.4,1054.4 90.9,1052.8 96.3,1057.2 101.8,1048.3 107.3,1041.8 112.7,1046.0 118.2,1032.6 123.7,1031.0 129.1,1037.8 134.6,1041.8 140.1,1040.2 145.5,1042.1 151.0,1044.8 156.5,1042.9 161.9,1046.1 167.4,1045.0 172.9,1050.1 178.3,1050.5 183.8,1054.7 189.2,1053.6 194.7,1049.4 200.2,1051.5 205.6,1053.2 211.1,1049.4 216.6,1052.9 222.0,1052.3 227.5,1051.8 233.0,1048.9 238.4,1048.8 243.9,1046.0 249.4,1031.4 254.8,1039.9 260.3,1036.0 265.8,1042.4 271.2,1052.6 276.7,1056.5 282.2,1053.0 287.6,1049.1 293.1,1046.4 298.6,1038.6 304.0,1055.1 309.5,1056.0 315.0,1060.4 320.4,1064.4 325.9,1059.7 331.4,1056.4 336.8,1056.0 342.3,1062.6 347.8,1060.6 353.2,1054.0 358.7,1049.1 364.2,1037.0 369.6,1037.1 375.1,1034.1 380.6,1033.0 386.0,1027.8 391.5,1032.3 397.0,1043.9 402.4,1040.8 407.9,1046.5 413.4,1044.1 418.8,1041.4 424.3,1037.0 429.8,1043.3 435.2,1049.9 440.7,1063.2 446.1,1055.9 451.6,1055.4 457.1,1057.0 462.5,1057.3 468.0,1050.7 473.5,1058.9 478.9,1052.5 484.4,1050.9 489.9,1056.9 495.3,1057.5 500.8,1051.5 506.3,1042.4 511.7,1038.2 517.2,1029.6 522.7,1029.5 528.1,1031.6 533.6,1045.4 539.1,1047.8 544.5,1037.3 550.0,1039.1 555.5,1035.2 560.9,1037.0" fill="none" stroke="#1eea1e" stroke-width="1.5" stroke-linejoin="round" />
<polyline points="41.7,1044.0 47.1,1049.1 52.6,1053.2 58.1,1052.1 63.5,1057.6 69.0,1056.3 74.5,1051.7 79.9,1057.1 85.4,1056.1 90.9,1057.3 96.3,1060.2 101.8,1052.7 107.3,1043.6 112.7,1044.0 118.2,1034.8 123.7,1038.2 129.1,1044.2 134.6,1045.7 140.1,1036.1 145.5,1039.4 151.0,1041.4 156.5,1042.0 161.9,1049.1 167.4,1048.6 172.9,1049.0 178.3,1051.4 183.8,1058.9 189.2,1052.0 194.7,1055.7 200.2,1056.6 205.6,1047.3 211.1,1051.3 216.6,1060.8 222.0,1060.1 227.5,1060.3 233.0,1049.5 238.4,1042.0 243.9,1035.3 249.4,1037.6 254.8,1040.2 260.3,1038.9 265.8,1041.3 271.2,1040.5 276.7,1050.8 282.2,1045.8 287.6,1045.2 293.1,1044.9 298.6,1039.1 304.0,1053.7 309.5,1052.9 315.0,1049.4 320.4,1053.6 325.9,1052.4 331.4,1059.0 336.8,1055.9 342.3,1055.6 347.8,1052.9 353.2,1053.0 358.7,1061.5 364.2,1048.7 369.6,1045.5 375.1,1038.2 380.6,1034.8 386.0,1035.1 391.5,1028.6 397.0,1032.8 402.4,1036.5 407.9,1040.4 413.4,1045.7 418.8,1041.5 424.3,1033.7 429.8,1046.2 435.2,1056.8 440.7,1060.0 446.1,1061.9 451.6,1049.1 457.1,1052.3 462.5,1054.4 468.0,1054.0 473.5,1051.4 478.9,1059.7 484.4,1055.9 489.9,1059.4 495.3,1056.7 500.8,1043.4 506.3,1042.3 511.7,1031.1 517.2,1037.6 522.7,1029.1 528.1,1022.3 533.6,1043.3 539.1,1047.5 544.5,1044.2 550.0,1045.9 555.5,1036.6 560.9,1039.8" fill="none" stroke="#1eea1e" stroke-width="1.5" stroke-linejoin="round" />
<polyline points="41.7,1046.6 47.1,1054.1 52.6,1053.9 58.1,1054.5 63.5,1055.7 69.0,1058.5 74.5,1051.3 79.9,1049.7 85.4,1045.2 90.9,1056.4 96.3,1056.4 101.8,1055.3 107.3,1051.6 112.7,1043.3 118.2,1037.5 123.7,1032.1 129.1,1038.8 134.6,1041.0 140.1,1032.3 145.5,1042.9 151.0,1050.8 156.5,1045.9 161.9,1046.8 167.4,1040.6 172.9,1051.8 178.3,1052.3 183.8,1057.0 189.2,1062.6 194.7,1047.2 200.2,1053.3 205.6,1050.0 211.1,1050.9 216.6,1049.4 222.0,1048.9 227.5,1049.3 233.0,1042.4 238.4,1036.7 243.9,1041.3 249.4,1036.7 254.8,1046.3 260.3,1043.2 265.8,1036.2 271.2,1037.8 276.7,1049.8 282.2,1044.6 287.6,1042.6 293.1,1040.7 298.6,1036.4 304.0,1050.0 309.5,1047.4 315.0,1054.2 320.4,1059.4 325.9,1053.4 331.4,1051.6 336.8,1054.7 342.3,1052.4 347.8,1049.4 353.2,1050.3 358.7,1051.2 364.2,1041.2 369.6,1048.8 375.1,1032.9 380.6,1032.1 386.0,1034.9 391.5,1026.0 397.0,1035.2 402.4,1037.8 407.9,1041.2 413.4,1043.6 418.8,1048.3 424.3,1042.6 429.8,1053.5 435.2,1049.0 440.7,1057.6 446.1,1056.3 451.6,1051.0 457.1,1055.3 462.5,1053.3 468.0,1055.8 473.5,1054.9 478.9,1057.4 484.4,1057.1 489.9,1053.1 495.3,1053.4 500.8,1041.1 506.3,1038.2 511.7,1036.9 517.2,1029.3 522.7,1029.9 528.1,1039.4 533.6,1045.8 539.1,1056.3 544.5,1051.6 550.0,1047.8 555.5,1051.3 560.9,1048.8" fill="none" stroke="#1eea1e" stroke-width="1.5" stroke-linejoin="round" />
<polyline points="41.7,1049.5 47.1,1055.0 52.6,1057.3 58.1,1061.9 63.5,1064.7 69.0,1067.5 74.5,1065.7 79.9,1062.4 85.4,1058.8 90.9,1058.6 96.3,1057.2 101.8,1048.4 107.3,1049.0 112.7,1043.8 118.2,1040.3 123.7,1037.8 129.1,1043.6 134.6,1049.1 140.1,1045.5 145.5,1044.6 151.0,1052.2 156.5,1044.0 161.9,1042.5 167.4,1044.0 172.9,1044.5 178.3,1058.8 183.8,1053.6 189.2,1059.0 194.7,1061.3 200.2,1062.2 205.6,1060.5 211.1,1052.3 216.6,1058.0 222.0,1053.0 227.5,1049.4 233.0,1052.6 238.4,1040.2 243.9,1033.8 249.4,1033.6 254.8,1033.8 260.3,1032.0 265.8,1031.1 271.2,1038.8 276.7,1051.1 282.2,1050.9 287.6,1047.8 293.1,1041.9 298.6,1036.2 304.0,1053.1 309.5,1055.1 315.0,1060.0 320.4,1059.7 325.9,1060.3 331.4,1060.9 336.8,1059.5 342.3,1058.4 347.8,1059.2 353.2,1062.7 358.7,1058.0 364.2,1043.5 369.6,1047.6 375.1,1042.6 380.6,1035.8 386.0,1031.2 391.5,1031.7 397.0,1038.3 402.4,1036.9 407.9,1037.8 413.4,1043.5 418.8,1039.3 424.3,1044.7 429.8,1044.9 435.2,1050.7 440.7,1054.1 446.1,1060.0 451.6,1059.9 457.1,1061.1 462.5,1062.0 468.0,1058.6 473.5,1056.1 478.9,1050.5 484.4,1056.5 489.9,1062.4 495.3,1055.6 500.8,1047.2 506.3,1040.3 511.7,1037.2 517.2,1040.9 522.7,1029.9 528.1,1034.6 533.6,1042.0 539.1,1050.7 544.5,1043.1 550.0,1047.8 555.5,1043.1 560.9,1046.0" fill="none" stroke="#1eea1e" stroke-width="1.5" stroke-linejoin="round" />
<polyline points="41.7,1045.2 47.1,1053.3 52.6,1056.2 58.1,1054.6 63.5,1053.2 69.0,1051.4 74.5,1046.1 79.9,1052.1 85.4,1058.0 90.9,1052.2 96.3,1049.3 101.8,1048.3 107.3,1044.1 112.7,1040.4 118.2,1032.6 123.7,1034.7 129.1,1035.9 134.6,1036.5 140.1,1032.7 145.5,1040.6 151.0,1044.9 156.5,1044.7 161.9,1048.3 167.4,1043.7 172.9,1047.2 178.3,1053.9 183.8,1052.6 189.2,1053.6 194.7,1048.6 200.2,1054.4 205.6,1055.1 211.1,1049.7 216.6,1057.3 222.0,1050.9 227.5,1052.9 233.0,1050.2 238.4,1045.0 243.9,1043.1 249.4,1034.7 254.8,1040.9 260.3,1039.3 265.8,1043.0 271.2,1051.4 276.7,1049.4 282.2,1042.8 287.6,1044.8 293.1,1039.2 298.6,1039.4 304.0,1052.4 309.5,1055.9 315.0,1054.0 320.4,1056.4 325.9,1056.4 331.4,1057.5 336.8,1062.6 342.3,1058.4 347.8,1055.1 353.2,1055.1 358.7,1053.3 364.2,1038.6 369.6,1040.4 375.1,1039.3 380.6,1036.3 386.0,1033.2 391.5,1038.3 397.0,1041.8 402.4,1045.5 407.9,1048.3 413.4,1042.6 418.8,1048.2 424.3,1045.1 429.8,1054.5 435.2,1057.0 440.7,1062.4 446.1,1065.5 451.6,1056.0 457.1,1052.4 462.5,1046.5 468.0,1046.2 473.5,1055.3 478.9,1052.7 484.4,1053.6 489.9,1052.7 495.3,1054.4 500.8,1046.3 506.3,1042.6 511.7,1037.9 517.2,1040.1 522.7,1035.5 528.1,1031.8 533.6,1049.5 539.1,1049.9 544.5,1042.8 550.0,1047.1 555.5,1042.5 560.9,1045.4" fill="none" stroke="#1eea1e" stroke-width="1.5" stroke-linejoin="round" />
<polyline points="41.7,1054.4 47.1,1057.3 52.6,1060.3 58.1,1057.5 63.5,1060.9 69.0,1057.5 74.5,1054.2 79.9,1056.1 85.4,1052.0 90.9,1052.8 96.3,1056.4 101.8,1051.6 107.3,1044.0 112.7,1033.9 118.2,1037.3 123.7,1037.9 129.1,1043.7 134.6,1039.0 140.1,1032.0 145.5,1045.8 151.0,1057.1 156.5,1050.2 161.9,1051.0 167.4,1044.3 172.9,1051.2 178.3,1057.7 183.8,1054.7 189.2,1059.0 194.7,1046.5 200.2,1055.8 205.6,1055.5 211.1,1052.1 216.6,1060.7 222.0,1060.3 227.5,1050.2 233.0,1055.2 238.4,1044.6 243.9,1043.5 249.4,1036.1 254.8,1035.1 260.3,1029.2 265.8,1032.7 271.2,1044.3 276.7,1044.9 282.2,1044.3 287.6,1041.6 293.1,1038.3 298.6,1040.1 304.0,1050.5 309.5,1048.0 315.0,1051.2 320.4,1059.8 325.9,1060.6 331.4,1056.7 336.8,1053.0 342.3,1051.2 347.8,1051.5 353.2,1055.9 358.7,1051.1 364.2,1034.0 369.6,1045.3 375.1,1036.0 380.6,1035.7 386.0,1041.4 391.5,1038.9 397.0,1047.7 402.4,1046.8 407.9,1045.5 413.4,1051.2 418.8,1052.7 424.3,1038.6 429.8,1043.2 435.2,1044.5 440.7,1054.7 446.1,1057.6 451.6,1054.0 457.1,1060.0 462.5,1053.3 468.0,1051.0 473.5,1054.9 478.9,1055.2 484.4,1049.7 489.9,1053.2 495.3,1054.0 500.8,1042.2 506.3,1038.2 511.7,1036.4 517.2,1036.5 522.7,1038.2 528.1,1032.0 533.6,1039.3 539.1,1048.2 544.5,1034.3 550.0,1053.1 555.5,1044.6 560.9,1041.4" fill="none" stroke="#1eea1e" stroke-width="1.5" stroke-linejoin="round" />
</svg>
</body></html>
